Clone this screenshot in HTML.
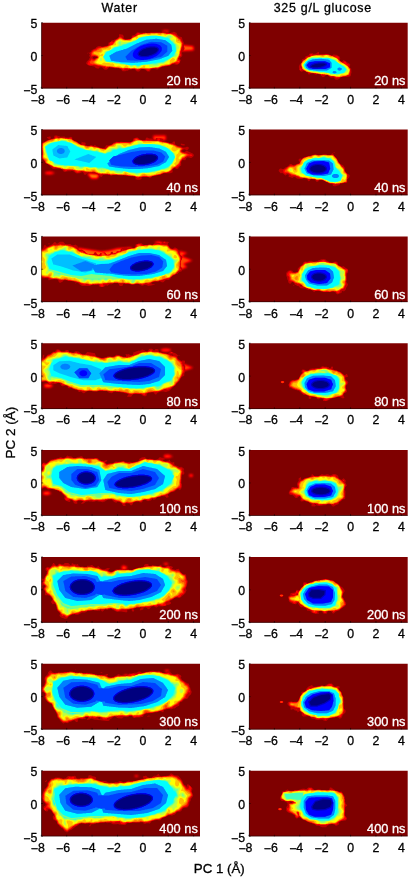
<!DOCTYPE html>
<html><head><meta charset="utf-8"><style>
html,body{margin:0;padding:0;background:#fff;width:410px;height:878px;overflow:hidden}
svg{display:block;font-family:"Liberation Sans", sans-serif;will-change:transform}
text{stroke:#000;stroke-width:0.3px;paint-order:stroke}
text.w{stroke:#fff}
</style></head><body>
<svg width="410" height="878" viewBox="0 0 410 878">
<defs>
<filter id="jet" x="0" y="0" width="1" height="1" color-interpolation-filters="sRGB">
<feComponentTransfer>
<feFuncR type="table" tableValues="0.500 1.000 1.000 1.000 0.500 0.000 0.000 0.000 0.000"/>
<feFuncG type="table" tableValues="0.000 0.000 0.500 1.000 1.000 1.000 0.500 0.000 0.000"/>
<feFuncB type="table" tableValues="0.000 0.000 0.000 0.000 0.500 1.000 1.000 1.000 0.500"/>
</feComponentTransfer>
</filter>

<filter id="bl7" x="-50%" y="-50%" width="200%" height="200%" color-interpolation-filters="sRGB"><feGaussianBlur stdDeviation="0.7"/></filter>
<filter id="bl8" x="-50%" y="-50%" width="200%" height="200%" color-interpolation-filters="sRGB"><feGaussianBlur stdDeviation="0.8"/></filter>
<filter id="bl13" x="-50%" y="-50%" width="200%" height="200%" color-interpolation-filters="sRGB"><feGaussianBlur stdDeviation="1.3"/></filter>
<filter id="fb" x="-20%" y="-20%" width="140%" height="140%" color-interpolation-filters="sRGB"><feGaussianBlur stdDeviation="2.80"/></filter>
</defs>
<rect width="410" height="878" fill="#fff"/>
<text x="119.6" y="12.4" text-anchor="middle" font-size="12.4" letter-spacing="0.75">Water</text>
<text x="322.8" y="12.4" text-anchor="middle" font-size="12.4" letter-spacing="0.75">325 g/L glucose</text>
<clipPath id="c0_0"><rect x="0" y="0" width="158.70" height="65.70"/></clipPath>
<g transform="translate(41.30,22.70)">
<g clip-path="url(#c0_0)"><g filter="url(#jet)">
<rect x="-5" y="-5" width="168.70" height="75.70" fill="#000"/>
<ellipse cx="124.5" cy="8.6" rx="3.5" ry="1.5" transform="rotate(0.0 124.5 8.6)" fill="rgb(31,31,31)" filter="url(#bl8)"/>
<path d="M136.0,22.0 152.0,23.5 152.5,27.5 136.0,28.5Z" fill="rgb(56,56,56)" filter="url(#bl8)"/>
<g transform="scale(0.25)" fill-rule="evenodd" filter="url(#fb)">
<path d="M570,79l-5-10-2-10-2-2-10-2-7-7-2-4 0-2-2-2-9-4-2,0-6,3-4,0-1,1-7,1-1,1-9,0-2-2 1-4-4-2-10,0-6,6-2,0-1-1-42,0-1,1-9,0-1,1-3,0-3-2-2,0-1,1-19,0-1-1-4,0-1-1-6,0-2,1-9,10-9,2-2,2-1,6-2,4-6,3-4,0-1,1-1-1-7,1-10-4-1-1 1-7-2-5-4-3-5,0-1-1-6,0-1,1 0,9-3,3-11,8-4,0-3,2-9,2-5,7-7,1-1,9-3,4-10,1-1,1-4,0-1,1-4,0-1,1-2,0-4-3-9,0-8,4-4,5-8,4-1-1-3,3-3,1-2,3 0,2-6,5-9,1-1,1 0,2 2,0 2-3 7,7-2,1-1,2 0,3 3,6-3,4-2,5-7,6-3,5-1,4 4,4 8,5 2,0 1,1 9,0 1,1 8,1 7,7 3,0 1,1 4,0 2,1 5-6 7,0 4,2 8,8 8,0 5-3 6-7 2,0 1,1 9,0 1,1 7,1 1,1 7,0 1-1 2,1 8,0 2,2 4,1 8,9 11,0 5-2 4,0 7-4 8-1 5-2 7,0 9,9 2,0 1,1 7,0 2-1 0-1 7-7 4-2 4,0 10,6 6,5 10,0 2-3 0-2 5-5 6-1 1-1 5,1 7,3 5,0 6-3 7-6 4,0 2-2 3,0 1-1 9,0 1-1 4,0 1-1 4,0 1-1 6,0 6-4 7-3 1,1 1-1 1,1 3,0 1,1 7,1 1,1 5-2 5-5 6-12-5-7 2-3 4-2 5-5 0-6-2-5 1-6 4-4 4-2 0-3 1-1 1-5-3-6 1-2zM206,139l5-5 1,1 9,1 4,2-12,6-2,0-1-1-2,1z" fill="#101010"/>
<path d="M566,82l-9-17 1-1-1-1-2,1-8-6-13-14-9,0-1-1-1,1-1-1-2,1-1-1-6,0-1-1-1,1-10,0-4-2-7,0-1-1-8,0-1,1-2,0-1-1-41,0-1,1-10,0-1,1-1-1-9,0-1,1-6,0-1,1-8,2-5-3-6-1-1,1-2,0-2,2-4,10-1-1-1,1-8,0-3,2-1,4-4,2-1,2-6,3-8,0-1,1-3,0-1-1-4,1-3-2-2,0-5-3-2-3-3-2-3-1-2-2-1,1-1-1 0,1-10,9-2,0-2,2-5,2-5,9-7-3-3,0-5,3-2,4 0,5 1,1-1,2-2,0-6,3-3,0-3,2-8,1-1,1-11,0-1,1-4-1-1,1-4,0-1,2-4,0-7,6-9,3-5,5-2,4-3,2 0,10 1,1 0,3 3,2 3-3 5,0 2-1 1,1 8,1 6,4-2,2-4,1-1,2-2,0-5,4-5,0-8-4-2,2-1,3-9,8 1,1-4,6 0,3 2,2 5,1 1,1 12,0 3-2 1,1 11,1 5,2 6,0 1,1 5,0 1,1 5,0 1,1 10,1 1,1 0,4 1,1 4,0 6-4 4,0 1-1 4,0 1,1 8,0 1,1 4,0 5,2 3,0 1-1 4,0 1,1 8,0 4,2 6,0 4,5 4,2 4-3 0-3 1-1 12,0 1,1 3,0 1-1 3,0 1,1 22,0 3,4 4,2 4-1 6-5 22,0 7,6 4,2 2,0 2-1 7-8 17-1 1-1 9,2 5-3 6-1 2-2 3,0 2-2 8-1 1-1 5,0 1-1 8,0 1-1 8-1 5-4 4-2 3,0 5-3 3,0 7,3 4,0 1-1 5-1 4-9-3-4-6-4 4-7 0-3 1-1 1,1 1-1 2,0 3-2 0-6-2-3-1-5 3-8 0-3 2-1 1-7 3-6 0-9z" fill="#202020"/>
<path d="M564,82l-2-2-6-12 0-2-2,0-8-6-1-2-6-4-1-2-8-4-2,0-5-3-3,0-1-1-19,0-1-1-4,0-1-1-4,0-1-1-9,0-1,1-2,0-1-1-40,0-1,1-20,0-1,1-6,0-8,3-2-1-1,1-8,2-15,8-2,0-8,4-6,6-2,0-4,2-7,0-1,1-2,0-1-1-2,1-4,0-6-3-2,0-9-6-4-1-7,6-10,5 0,1-4,4-1,3-2,1-1,3-3,2-2,4-7,1-3,2-2,0-2,2-3,0-6,3-4,0-2,2-5,0-1,1-2-1-1,1-6,0-1,1-8,1-2,2-4,1 0,1-5,4-5,2-3,0-4,2-6,7 0,9 2,2 2-1 7,0 1,1 7,1 2,2 2,0 3,4-2,3-3,1-10,8-6,2-5-3-8,7-1,0 2,2 0,3 3,2-2,1 0,1 3,0 1-1 3,2 11,0 3,2 3,0 8,3 2,0 1-1 1,1 11,1 2,2 11,1 5,2 2-1 3,0 1,1 2-1 10,0 1,1 13,1 1,1 18,1 1,1 8,1 1,1 22-1 1,1 9,0 1,1 4,0 1-1 16,0 1,1 18,0 1-1 39,1 4-2 5,0 1-1 10,0 1-1 9,1 1-1 3,0 1-1 5-1 2-2 2,0 3-2 9-1 1-1 4,0 1-1 5,0 1-1 2,1 1-1 7-1 12-7 8-2 3-2 1,1 4-2 2-3 2,3 2,1 4-1 0-4-2-1-4,0-1-1 2-3 1-7 6-10 0-3 3-8-1-2 1-1 0-3 2-4 2-11 3-8zM198,164l1-1 1,1-1,1zM543,153l1-1 1,1-1,1z" fill="#303030"/>
<path d="M562,83l-5-9-2-2-1-3-6-4-2-3-1,0-1-2-7-6-9-4-2-2-2,0-6-3-19,0-1-1-4,0-1-1-4,0-1-1-8,0-1,1-2,0-1-1-11,0-1-1-4,0-1,1-23,0-1,1-20,0-1,1-6,0-1,1-8,1-5,2-5,0-6,5-18,8-3,3-7,4-10,1-1,1-2,0-1-1-1,1-6,0-1-1-5-1-9-5-5-1-12,8-2,0-5,5-1,3-9,11-7,1-2,2-3,0-2,2-2,0-3,2-3,0-3,2-22,4-8,6-4,1-6,4-3,0-1,1-5,1-6,6 1,5 2,0 4,2 3,0 10,4 4,4 0,3-2,3-4,2-11,10-5,2 2,2 0,2 3,3 2,0 5,3 6,1 1,1 11,1 4,2 4,0 1,1 4,0 1,1 6,0 2,2 12,0 1-1 3,0 1,1 6,0 5,2 26,2 1,1 4,0 1,1 4,0 1,1 7,0 1-1 13,0 1,1 9,0 1,1 6,0 1-1 13,0 1,1 10,1 1-1 7,0 1-1 38,1 1-1 9-1 1-1 9,0 1-1 7,0 2,1 22-8 4,0 1-1 4,0 1-1 5,0 1-1 7,0 7-3 2-2 8-4 5-1 3-2 2,0 4-2 3-4 0-3 1-1 1-5 4-6 1-4 2-2 0-3 2-4-1-2 1-1 1-7 2-4 0-3 1-1 0-3 1-1 0-3 2-5z" fill="#404040"/>
<path d="M560,83l-8-12-2-1 0,2-1,1-2,0-1-1 0-3 2-1-10-11-3-1-5-4-13-6-3,0-1,1-1-1-11,0-2,1-3-2-3,0-5-2-7,0-4,4-6,0-2-2-7-3-2,1-5,0-1,1-14-1-7,4-8-1-2-2-15,1-5,2-4,0-4,2-5,0-4,2-3,3-18,8-9,8-2,0-1,1-5,0-1-1-3,0-1,1-1-1-2,1-7,0-4-2-3,0-2-2-2,0-3-2-3,0-1-1-6,3-2,2-7,3 0,1-5,5-2,4-7,8-7,1-2,2-2,0-4,2-4,6-4,0-5,2-16,0-1,1 1,5-2,5-4,3-7,0-1,1-12,0-2-1-5,3 3,4 4,2 2,0 2,2 4,1 3,2 3,4 0,5-1,2-14,13-1,0-1,2 5,6 2,0 3,2 14,2 1,1 7,1 1,1 11,1 2,2 8,0 1,1 1-1 7,0 1,1 7,0 4,2 7,0 1,1 15,0 3,2 6,0 1,1 4,0 1,1 2,0 1-1 16,0 1,1 9,0 1,1 19-1 1,1 6,0 1,1 13-1 1-1 36,1 1-1 10-1 1-1 8,0 1-1 11,0 1-1 4,0 14-6 27-4 13-8 5-1 10-5 3-5 1-5 9-18 0-5 1-1 1-7 2-4 1-10 1-1 1-7 1-1-1-1z" fill="#505050"/>
<path d="M558,88l-2-5-12-3-5-4 0-15-12-9-8-4-11-1-10,4-4,0-5-4-3-1-7,5-5,0-1-1-5,0-5-4-7,0-1,1-14,0-7,3-6,0-1,1-7-3-4,0-1,1-19,0-1,1-5,0-5,3 0,2 2,2 0,2-4,5-2,0-4-5-3,0-10,5-1,4-4,4-2,0-1,1-5,0-2,1-1-1-5,0-1-1-13,0-1-1-3,0-5-3-8,0-10,5-4,4 1,11-2,2-12,1-1,1-5,1-1,1 0,2 1,1 0,6-4,4-2,1-8,0-1-1-4,0-1,1-7,0-1,1-2,0-3,3-1,3-6,6-7,2 0,3 4,3 1,0 4-4 4-1 2,2 1,4-6,5-2-2-3-1-6,8-1,3-3,3-2,4 0,2-4,4-1,0-1,3 7,4 3,0 5,2 7,0 9-6 5,0 1,1 13,0 3,2 3,0 3,2 7-2 6,4 1,6 4,3 3,0 8-3 5,0 6,3 5,4 8,0 2-4 4-4 3,0 1-1 4,1 2,2 2,7 6,0 1,1 10,0 3-2 5,0 2,2 5,0 1,1 14-1 9-5 3-5 8,0 1,1-2,4 0,4 9,0 1,1 12-1 1-1 6,0 1-1 8,0 1-1 10,0 1-1 5,0 2-2 2,0 2-3 6-3 6,0 11-4 12,1 3-3 0-9 2-4 6-6 4-2 5,1 4,5-2,5-2,1-2,3 8-4 7-14 2-2 0-2 3-4 0-3 1-1 1-7 1-1-1-1 0-3 3-4 1-8 1-1 0-4 1-1 0-7z" fill="#606060"/>
<path d="M237,141l-2,2-2,5 1,1 0,2 2,2 4,0 3-2 1-5-1-1 0-2-2-2zM552,98l-4-8-5-5-3-1-6-6 0-8-3-4-6,0-2,2-4-3 2-2 3,0 2-3 0-6-5-4-2,0-1-1-8,0-1,1-3,0-10,5-4,0-5-2-17-1-1-1-4,0-5-2-4,0-1,1-17,0-1,1-8,0-1,1-11,0-1,1-4,0-1,1-4,0-1,1-11,2-3,2-2,0-6,6-3,1-2,2-2,0-1,1-6,0-4,2-3,3-2,0-4,2-10,0-1,1-2,0-1-1-6,0-1,1-8,0-11-6-3,0-5,2-5,6 0,4 2,5 0,2-2,2-4,2-11,1-2,1-3,3 0,2-9,8-2,1-7,0-1,1-6,1-4,2-4,4-1,4 3,4-1,1 1,2-2,3-5,4 0,5 1,1-1,2 2,2 1,4 9,8 4,0 1,1 11,0 1,1 10,0 1,1 7,1 3,2 2,0 2,2 9-1 8,3 11,0 1,1 3,0 1-1 1,1 2,0 2-1 1,1 5,0 6,3 2,0 6,7 4,0 4-2 5-5 4,0 7,9 7,0 8-5 5-5 3,0 3-2 15,0 1,1 6,0 2,3 0,2 4,3 7,0 6-3 12,0 2,1 5-2 1-2 7-6 3,0 1-1 8,0 7-3 8-7 4-2 15-12 7-3 4,0 1,1 5-1 7-9 0-4-5-5 0-3 2-3 1-5 7-6z" fill="#707070"/>
<path d="M541,91l-1-1 0-3-9-8-1-3-4-4-5-1-4-3-2-3 0-5 5-4-2-3-2,0-1-1-7,0-6,3-2,2-6,0-1-1-4,0-1-1-4,0-1-1-10,0-1-1-4,0-5-2-24,0-1,1-6,0-4,2-1-1-4,0-1,1-3-1-1,1-5,0-1,1-8,1-3,2-3,0-1,1-4,0-12,10-3,0-3,2-6,1-10,5-4,0-4,2-3,0-9,4-11,1-7,3-5-2 2-2 1-4-3-4-2,0-5,4 0,3 3,4 0,2-6,6-10,2-7,3-3,2-7,8-6,3-7,0-8,3-2,2 0,2-1,1 1,4-8,12 5,7-1,1 1,5 5,7 3,0 1,1 9,0 1,1 14,0 4,2 4,0 3,2 12,1 1,1 4,0 1,1 4,0 1,1 6,0 1,1 1-1 2,1 3,0 1-1 1,1 2,0 2-1 1,1 4,0 1,1 2,0 2,2 10,2 1,1 7-1 1-1 9,0 1,1 2,0 2,3 5,2 5-2 2-2 6-3 6-1 1-2 9,0 1-1 1,1 4,0 1,1 12,0 1-1 1,1 3,0 1-1 3,0 1,1-1,2 2-1 2,0 1,1 13,0 5-5 4-2 3,0 1-1 12,0 1-1 2,0 6-5 8-4 18-13 15-6 1-1-1-9 1-1 0-3 3-5 0-8 1-1 0-2-1-1 1-2z" fill="#808080"/>
<path d="M539,98l-1-1 0-6-1-1 0-2-5-3-9-10-2,0-8-8 0-2-2-4-4-3-7,0-1,1-4-1-1,1-8-3-6,0-8-3-11,0-1-1-31,1-1,1-4,0-1,1-4,0-1,1-9,0-2,2-8,1-1,1-4,0-6,3-4,4-9,6-4,0-11,5-11,2-11,5-9,1-5,3-4,4-3,0-1,1-2-1-1,2-2-1-4,2-4,0-1,1-5,0-1,1-2,0-7,4 0,1-2,1-2,3-16,8-1-1-5,2-13,20 9,13 0,2 3,4 11,0 1,1 7,0 1,1 15,1 2,2 13,1 7,3 8,0 1,1 4-1 1,1 4,0 1,1 8,1 5,2 5,0 5,2 4,0 1-1 4,0 1-1 7,0 6,3 11,0 1-1 2,0 2-2 2,0 1-1 5,0 1-1 9,0 1-1 17,0 1-1 4,0 1-1 2,1 2,0 1-1 2,0 1,1 2,0 1-1 1,1 3,0 1-1 4,0 8-3 5,0 1-1 5,0 1-1 6,0 1-1 2,0 6-3 12-9 7-3 8-6 8-3 4-5 1-10 4-6z" fill="#8f8f8f"/>
<path d="M539,111l-1-1 0-5-1-1 0-5-1-1-1-9-24-24-1,0-3-4-3,0-1-1-2,1-1-1-2,0-1,1-1-1-3,0-1-1-2,0-4-2-3,0-11-4-43,0-1,1-4,0-1,1-4,0-1,1-4,0-1,1-4,0-1,1-4,0-1,1-4,0-1,1-7,1-11,9-7,4-5,1-3,2-10,3-3,2-10,3-3,2-9,1-2,2-8,3-3,0-1,1-2,0-7,3-3,0-4,2-5,0-4,2-4,4-27,13-12,18 11,17 5,2 7,0 1,1 7,0 1,1 7,0 1,1 7,0 1,1 15,1 1,1 5,0 1,1 8,1 5,2 4,0 5,2 4,0 5,2 31,0 4,2 8,0 1-1 2,0 2-2 9,0 1-1 19-1 1-1 6,0 1-1 4,0 1-1 4,0 1-1 4,0 1-1 2,1 7,0 2-2 4,0 1-1 4,0 1-1 3,1 1-1 4,0 1-1 7,0 1-1 2,0 9-6 3,0 4-2 21-14 2-3 2-1-1-1 10-16z" fill="#9f9f9f"/>
<path d="M521,92l-1-1 0-3-22-17-5-2-5,0-1-1-5,0-1-1-5,0-1-1-5,0-1-1-5,0-1-1-7,0-1,1-9,0-1,1-9,0-1,1-16,1-3,2-2,0-3,2-2,0-3,2-2,0-3,2-2,0-3,2-2,0-3,2-7,2-43,22-2,0-4,2-3,0-7,3-3,0-7,3-3,0-7,3-3,0-15,8-2,2-5,2-2,2-5,2-1,2 2,3 0,2 2,3 0,2 2,3 0,2 2,4 10,1 1,1 5,0 1,1 13,1 1,1 5,0 1,1 39,1 1,1 17,0 1-1 12,0 1-1 12,0 1-1 21-1 1-1 4,0 1-1 5,0 1-1 4,0 1-1 4,0 1-1 4,0 1-1 4,0 1-1 5,0 1-1 4,0 1-1 8-1 3-2 5-1 3-2 2,0 3-2 2,0 3-2 5-1 3-2 2,0 4-2 16-20 0-2-1-1 0-5-1-1 0-5-1-1z" fill="#afafaf"/>
<path d="M521,92l-1-1 0-3-22-17-5-2-5,0-1-1-5,0-1-1-5,0-1-1-5,0-1-1-5,0-1-1-7,0-1,1-9,0-1,1-9,0-1,1-16,1-3,2-2,0-3,2-2,0-3,2-2,0-3,2-2,0-3,2-2,0-3,2-7,2-43,22-2,0-4,2-3,0-7,3-3,0-7,3-3,0-7,3-3,0-15,8-2,2-5,2-2,2-5,2-1,2 2,3 0,2 2,3 0,2 2,3 0,2 2,4 10,1 1,1 5,0 1,1 13,1 1,1 5,0 1,1 39,1 1,1 17,0 1-1 12,0 1-1 12,0 1-1 21-1 1-1 4,0 1-1 5,0 1-1 4,0 1-1 4,0 1-1 4,0 1-1 4,0 1-1 5,0 1-1 4,0 1-1 8-1 3-2 5-1 3-2 2,0 3-2 2,0 3-2 5-1 3-2 2,0 4-2 16-20 0-2-1-1 0-5-1-1 0-5-1-1z" fill="#bfbfbf"/>
<path d="M504,92l-24-14-41-2-1,1-6,1-7,3-3,0-7,3-3,0-7,3-3,0-6,3-2,2-3,1-2,2-3,1-2,2-3,1-2,2-18,10-25,25 8,14 9,0 1,1 17,0 1,1 14,0 1-1 12,0 1-1 12,0 1-1 21-1 1-1 3,0 1-1 3,0 1-1 3,0 1-1 3,0 1-1 3,0 1-1 3,0 1-1 3,0 1-1 15-3 5-3 21-18z" fill="#cfcfcf"/>
<path d="M482,99l-6-8-10-5-6-1-1-1-6,0-1-1-15,0-1,1-8,0-1,1-4,0-1,1-11,2-19,8-13,9-8,8-4,7 0,2-1,1 0,10 6,8 10,5 7,1 1,1 6,0 1,1 14,0 1-1 8,0 1-1 4,0 1-1 11-2 3-2 8-2 4-3 6-2 9-6 0-1 2-1 10-11 3-6z" fill="#dfdfdf"/>
<path d="M471,105l-1-1 0-2-6-5-5-2-3,0-1-1-21,0-1,1-4,0-1,1-8,1-3,2-10,3-6,3-4,4-3,1-7,8-2,5 0,4 4,6 3,1 2,2 6,1 1,1 21,0 1-1 5,0 4-2 7-1 10-5 2,0 4-3 3-1 4-3 7-8 2-5z" fill="#efefef"/>
<path d="M466,106l-1-2-4-3-6-1-1-1-19,0-1,1-4,0-1,1-8,1-3,2-10,3-4,2-4,4-3,1-6,7-1,5 2,3 10,4 19,0 1-1 5,0 4-2 7-1 17-8 8-7 2-3z" fill="#ffffff"/>
</g>
</g></g>
<path d="M0.3,0 V65.40 H158.70" fill="none" stroke="#000" stroke-width="0.6" opacity="0.8"/>
<path d="M0.00,65.70 v-1.6 M25.39,65.70 v-1.6 M50.78,65.70 v-1.6 M76.18,65.70 v-1.6 M101.57,65.70 v-1.6 M126.96,65.70 v-1.6 M152.35,65.70 v-1.6 M0,0.00 h1.6 M0,32.85 h1.6 M0,65.70 h1.6" stroke="#000" stroke-width="0.6" fill="none"/>
<text x="156.50" y="62.50" class="w" text-anchor="end" fill="#fff" font-size="12.8">20 ns</text>
</g>
<text x="37.40" y="28.10" text-anchor="end" font-size="12.3">5</text>
<text x="37.40" y="60.95" text-anchor="end" font-size="12.3">0</text>
<text x="37.40" y="93.80" text-anchor="end" font-size="12.3"><tspan dy="1.4">−</tspan><tspan dy="-1.4">5</tspan></text>
<text x="44.72" y="103.90" text-anchor="end" font-size="12.3"><tspan dy="1.4">−</tspan><tspan dy="-1.4">8</tspan></text>
<text x="70.11" y="103.90" text-anchor="end" font-size="12.3"><tspan dy="1.4">−</tspan><tspan dy="-1.4">6</tspan></text>
<text x="95.50" y="103.90" text-anchor="end" font-size="12.3"><tspan dy="1.4">−</tspan><tspan dy="-1.4">4</tspan></text>
<text x="120.90" y="103.90" text-anchor="end" font-size="12.3"><tspan dy="1.4">−</tspan><tspan dy="-1.4">2</tspan></text>
<text x="146.29" y="103.90" text-anchor="end" font-size="12.3">0</text>
<text x="171.68" y="103.90" text-anchor="end" font-size="12.3">2</text>
<text x="197.07" y="103.90" text-anchor="end" font-size="12.3">4</text>
<clipPath id="c1_0"><rect x="0" y="0" width="158.70" height="65.70"/></clipPath>
<g transform="translate(249.00,22.70)">
<g clip-path="url(#c1_0)"><g filter="url(#jet)">
<rect x="-5" y="-5" width="168.70" height="75.70" fill="#000"/>
<g transform="scale(0.25)" fill-rule="evenodd" filter="url(#fb)">
<path d="M199,176l3,13 6,7 3,0 1-1 5-1 3-2 4,0 5,4 4,1 4,8 2,2 3,0 5-3 3,0 1-1 8,1 6,3 5,0 3-2 6,0 5,3 11,10 5-1 9-9 1,1 5,0 1,2 8,7 4,2 10-1 5,5 1,3 3,0 1,1 6,0 6-3 9-8 6,0 1-1 5,0 1-1 4,0 4,2 4,0 1-1 6,0 1-1 2,0 3-3 2-10 1-1-1-16-1-2-1,0-4-4 0-4 1-1 1-7-4-4-6-3-5-4-3-1-9-7-2,4-6,5-8-7 2-2 1-7-2-5-4-3-3-1-5-4-7,0-1-1-5,0-2,1-3,4-7-3-2,0-4-2-5,0-6-3-4,1-2,2-18,0-2,1-3-3 0-8-6,0 0,2-3,3-2,0-3,2-5,0-2,1-6-4-5,2-3,0-5,2 0,3-3,3-10,3-2,2-3,7-2,1-4,0-4,3 0,2-1,1 0,7-2,4-7,7 0,2-2,2 0,3z" fill="#101010"/>
<path d="M204,182l-2,4 1,1 0,2 2,2 2,0 3-2 0-3-3-4zM208,164l5,21 18,12 10,1 1,1 6,0 1,1 5,0 1,1 6,0 1,1 6,0 1,1 6,0 1,1 6,0 5,2 3,3 4-1 1-2 1,1 6,0 1,1 12,1 1,1 6,1 2,3 2,1 6,0 1-1 6,0 1,1 2,0 5,5 4,2 4-2 2,0 3-2 5,0 1-1 4,0 1-1 4,0 1-1 5,0 1-1 2,1 12-5 1,1 5-1 2-10 1-1 0-7-1-1 1-1 1-5-9-10 0-2 2-4-1-2-5-2-3-3-5-8-2,0-7,6-2,0-17-14 2-3 0-5-2-3-2-1-8,0-1,1-2,0-2,2-2-2-6-3-5,0-3-2-2,0-4-2-3,0-1-1-14,0-1,1-24,0-1,1-10,0-1-1-2,0-1,1-6,0-1-1-2,0-5-4-2,0-1,8-4,4-9,0-2,1-1,2 0,4-12,8z" fill="#202020"/>
<path d="M209,164l0,6 1,1 0,3 1,1 2,10 7,5 2,0 7,5 5,1 2,2 12,1 1,1 12,1 1,1 6,0 1,1 6,0 1,1 6,0 1,1 6,0 1,1 5,0 1,1 13,0 1,1 5,0 5,3 4,0 1,1 4,0 1,1 9,1 1,1 5,0 1,1 5,0 1,1 5,0 1,1 3,0 5-2 4,0 1-1 4,0 1-1 5,0 1-1 1,1 4-2 3,0 6-3 4,0 2-10 1-1 0-3 1-1 0-7 1-1-5-5 0-2-5-6-6-3-5-4-3-1-6-5-7-3-4-3-7-8-6-4 1-1-2,1-9-6-5-1-3-2-4,0-3-2-2,0-7-3-40,1-1,1-7-1-1,1-9,1-1,1-2,0-4,2-3,0-7,3-3,0-13,8 0,1-5,4-4,1-2,2-1,4z" fill="#303030"/>
<path d="M209,165l1,1 0,4 1,1 0,3 1,1 0,3 1,1 1,5 18,12 9,1 1,1 6,0 1,1 5,0 1,1 6,0 1,1 6,0 1,1 6,0 1,1 6,0 8,3 5-1 1,1 7,0 1,1 12,1 4,2 3,0 2,2 4,0 1,1 3-1 1,1 6,0 1,1 4,0 1,1 5,0 1,1 10,1 4-2 5,0 5-2 10-1 12-5 1-4 2-2 0-3 2-5 0-8-4-4 0-2-7-7-3-1-2-3-6-3-2-2-2,0-2-2-2,0-10-7-9-9-1-2-3-1-2-2-5-1-10-5-3,0-1-1-8-2-3-2-18,0-1,1-11,0-1-1-1,1-16,0-1,1-13,1-4,2-3,0-5,2-2,2-7,1-3,2-2,3-14,10-5,9z" fill="#404040"/>
<path d="M210,165l1,1 0,7 2,3 2,8 8,6 2,0 7,5 2,0 4,2 4,0 1,1 12,1 1,1 6,0 1,1 6,0 1,1 8,0 1,1 11,1 1,1 12,0 1,1 12,1 1,1 2,0 2,2 4,0 1,1 4,0 1,1 14,1 3,2 10,0 1,1 3,0 4-2 5,0 3-2 8,0 1-1 3,0 6-3 2,0 4-3 0-3 3-5 0-3 1-1 0-8-11-13-3-1-5-4-3-1-5-4-11-6-12-12-3-1-2-2-4-1-10-5-4,0-1,1-1-1-2,0-7-5-6,0-1-1-3,0-1,1-7,0-4,3-4,0-4-2-18,0-1,1-9,0-4,2-7,1-3,2-6,1-4,2-14,11-4,2z" fill="#505050"/>
<path d="M212,166l0,7 5,9 7,6 5,2 4,3 2,0 2,2 2,0 4,2 4,0 1,1 6,0 1,1 6,0 1,1 6,0 1,1 7,0 1,1 12,1 1,1 9,0 1-1 5,0 1,1 2,0 1-1 2,0 7,3 3,3 8,1 1,1 4,0 1,1 8,0 4,2 11,0 1,1 2,0 9-8 6,0 1,1 11,0 1-1 4,0 4-3 0-3 3-5 0-3 1-1 0-5-4-3-3-6 0-2-15-11-2,0-2-2-8,0-10-6-2-3 0-6-3-3-12-6-15,0-6-3-7-6-5,0-6,5-4,2-4,0-11-4-9,0-1-1-3,0-1,1-1-1-3,0-1,1-15,3-3,2-10,3-4,4-1,0 0,5-4,4 0,1-3,2-1,2-5,1z" fill="#606060"/>
<path d="M215,167l0,5 5,6 1,3 10,8 6,3 6,1 8,3 4,0 1,1 18,0 11,5 7,0 5-3 2,0 1,1 6,0 1,1 5,0 1,1 4,0 7,6 4,2 4,0 8-3 7,3 2,2 5,0 12-7 2,0 1-1 9,0 1-1 3,0 4-3 4,0 4-2 3-3 0-3-2-5-5-6-2-4-6-6 0-1-3-2-8,0-2-2-4-1-6-5-4-2-5-6 0-4 1-1-2-3-2-1-3,1-1-1-10,0-1-1-4,0-8-3-4,0-4-3-4,0-4,3-2,0-1-1-2,1-7,0-1-1-5,0-1-1-15,1-5-3-11,0-1,1-3,0-8,5-5,1-3,3-1,4-6,6 0,1z" fill="#707070"/>
<path d="M217,168l2,7 2,2 2,5 4,3 5,2 2,2 2,0 5,3 12,1 5,2 2,0 1-1 14,1 2,2 5,0 3,2 2,0 1-1 4,0 1,1 1-1 13,1 1,1 10,1 6,3 2,2 20-1 3,2 8,0 1-1 4,0 2-2 3,0 1-1 10-1 1-1 1,1 7-6 4-6 0-5-7-8-8-6-2,0-2-2-4-2-3,0-6-5-4-2-9-10-3-1-2-2-2,0-13-5-7-1-1-1-27,0-1-1-29,1-1-1-8,0-9,4-6,4-6,6-3,1-5,8-2,1z" fill="#808080"/>
<path d="M218,168l2,7 2,1 2,6 7,3 3,3 5,1 3,2 5,0 4,2 6,0 1,1 3,0 1-1 13,1 2,2 15,1 1,1 1-1 13,1 1,1 10,1 3,2 3,0 3,2 20,0 2,2 5,0 1-1 5,0 3-2 14-2 1-1 2,0 1-2 4-3 5-8-5-7-6-6-6-2-5-4-6-3-3-3-11-7-3-4-8-4-2,0-7-3-4,0-3-2-5,0-1-1-10,0-1,1-3,0-1-1-23-1-3,2-3,0-1-1-6,0-1,1-2-1-7,0-1,1-3,0-11,5-3,2-1,2-7,3-5,7-1,3z" fill="#8f8f8f"/>
<path d="M219,168l5,14 18,9 15,1 1,1 9,0 1,1 8,0 1,1 7,0 1,1 7,0 1,1 7,0 1,1 6,0 1,1 5,0 1,1 6,0 1,1 3,0 3,2 35,1 1-1 14-2 4-2 8-13-10-11-6-3-5-4-3-1-19-14-8-4-7-2-5-3-2,0-3-2-46-1-1,1-9,0-1,1-15,0-4,3-17,8z" fill="#9f9f9f"/>
<path d="M334,198l3,4 3,0 1,1 6-1 3-3 0-2-3-3-3,0-1-1-6,1zM354,183l0,4 5,4 6,0 1-1 2,0 3-4 0-2-2-3-5-1-1-1-5,1zM330,160l-10-12-3,0-1-1-7,0-1-1-7,0-1-1-7,0-1-1-27,1-1,1-9,0-3,2-2,0-3,2-2,0-3,2-2,0-4,2-11,14 0,2 1,1 0,3 1,1 1,5 12,8 5,0 1,1 10,0 1,1 9,0 1,1 45,0 18-11z" fill="#afafaf"/>
<path d="M334,198l3,4 3,0 1,1 6-1 3-3 0-2-3-3-3,0-1-1-6,1zM354,183l0,4 5,4 6,0 1-1 2,0 3-4 0-2-2-3-5-1-1-1-5,1zM330,160l-10-12-3,0-1-1-7,0-1-1-7,0-1-1-7,0-1-1-27,1-1,1-9,0-3,2-2,0-3,2-2,0-3,2-2,0-4,2-11,14 0,2 1,1 0,3 1,1 1,5 12,8 5,0 1,1 10,0 1,1 9,0 1,1 45,0 18-11z" fill="#bfbfbf"/>
<path d="M230,170l10,12 12,1 1,1 7,0 1,1 44,0 19-7 0-16-4-2-2,0-3-2-2,0-3-2-2,0-3-2-43,0-1,1-17,2-1,1-3,0z" fill="#cfcfcf"/>
<path d="M230,170l10,12 12,1 1,1 7,0 1,1 44,0 19-7 0-16-4-2-2,0-3-2-2,0-3-2-2,0-3-2-43,0-1,1-17,2-1,1-3,0z" fill="#dfdfdf"/>
<path d="M312,163l-3-1-2-2-2,0-4-2-25,0-1,1-4,0-1,1-8,1-3,2-3,0-6,3-6,5-1,5 3,4 5,1 1,1 3,0 1,1 21,0 1-1 5,0 1-1 4,0 1-1 6-1 11-5 6-5z" fill="#efefef"/>
<path d="M307,166l-7-3-23,0-1,1-9,1-1,1-3,0-3,2-3,0-8,5-1,2 1,1 3,0 5,2 19,0 1-1 5,0 1-1 4,0 1-1 6-1 3-2 2,0 7-4z" fill="#ffffff"/>
</g>
</g></g>
<path d="M0.3,0 V65.40 H158.70" fill="none" stroke="#000" stroke-width="0.6" opacity="0.8"/>
<path d="M0.00,65.70 v-1.6 M25.39,65.70 v-1.6 M50.78,65.70 v-1.6 M76.18,65.70 v-1.6 M101.57,65.70 v-1.6 M126.96,65.70 v-1.6 M152.35,65.70 v-1.6 M0,0.00 h1.6 M0,32.85 h1.6 M0,65.70 h1.6" stroke="#000" stroke-width="0.6" fill="none"/>
<text x="156.50" y="62.50" class="w" text-anchor="end" fill="#fff" font-size="12.8">20 ns</text>
</g>
<text x="245.10" y="28.10" text-anchor="end" font-size="12.3">5</text>
<text x="245.10" y="60.95" text-anchor="end" font-size="12.3">0</text>
<text x="245.10" y="93.80" text-anchor="end" font-size="12.3"><tspan dy="1.4">−</tspan><tspan dy="-1.4">5</tspan></text>
<text x="252.42" y="103.90" text-anchor="end" font-size="12.3"><tspan dy="1.4">−</tspan><tspan dy="-1.4">8</tspan></text>
<text x="277.81" y="103.90" text-anchor="end" font-size="12.3"><tspan dy="1.4">−</tspan><tspan dy="-1.4">6</tspan></text>
<text x="303.20" y="103.90" text-anchor="end" font-size="12.3"><tspan dy="1.4">−</tspan><tspan dy="-1.4">4</tspan></text>
<text x="328.60" y="103.90" text-anchor="end" font-size="12.3"><tspan dy="1.4">−</tspan><tspan dy="-1.4">2</tspan></text>
<text x="353.99" y="103.90" text-anchor="end" font-size="12.3">0</text>
<text x="379.38" y="103.90" text-anchor="end" font-size="12.3">2</text>
<text x="404.77" y="103.90" text-anchor="end" font-size="12.3">4</text>
<clipPath id="c0_1"><rect x="0" y="0" width="158.70" height="65.70"/></clipPath>
<g transform="translate(41.30,129.55)">
<g clip-path="url(#c0_1)"><g filter="url(#jet)">
<rect x="-5" y="-5" width="168.70" height="75.70" fill="#000"/>
<path d="M4.0,42.5 9.0,42.0 14.0,43.5 9.0,45.0 4.0,44.5Z" fill="rgb(46,46,46)" filter="url(#bl8)"/>
<path d="M46.0,44.0 58.0,45.0 56.0,49.0 50.0,49.0Z" fill="rgb(64,64,64)" filter="url(#bl8)"/>
<path d="M112.0,6.0 124.5,6.0 124.5,10.5 112.0,10.5Z" fill="rgb(46,46,46)" filter="url(#bl8)"/>
<g transform="scale(0.25)" fill-rule="evenodd" filter="url(#fb)">
<path d="M558,56l0,4 1,2 2,1 3,0 1,1 8,0 1-1 0-3-1-1zM-7,123l2,2 4-1 4-7 1,1 0,2 2,0 7,7 3,7 6,4 3,0 4,2 16,17 6,1 1-1 16-1 1-1 5,1 1,1 3,0 1,1 2,0 4,4 4,6 5,2 6-1 1-1 4,0 1-1 12,0 5-2 1,1 5,1 8,7 5,2 12-1 1-1 2,0 2-2 2,0 4-2 5,5 0,5 3,0 1,1 4,0 2-3 8-6 4,0 1,1 20-1 1,1 2,0 4,3 3,0 1,2 11,10 2,1 4,0 1,1 1,0 0-2 3-5 4-2 6,0 1-1 16,1 3,3 3,0 1,1 4-1 2-2 20,0 1,1 10,1 1,1 2,0 1-1 5,0 1-1 4,0 1,1 7,0 1,1 7,0 1,1 8,0 1,1 17,1 3,4 0,8 5,0 1,1 12,0 6-3 1-2-1-1 0-4 1-1 26,0 3,3 4,1 4-2 5-5 4,0 1-1 4,0 1-1 4,0 1-1 4,0 1-1 4,0 1-1 7-1 14-6 6,0 1-1 2,1 17,0 4-2 3,0 3-4-1-6-2-2 9-7 9,4 4,0 4-3 2-5 8-6 1-2-1-10 1-1 1-5 3-3 2-1 10,1 2-3 1-4 4-4 2,0 1-1 2,1 4,0 4,2 5,0 7-6 2-3 0-4-2-3-4-3-11-5-2,0-6-4-5,0-4,2-3,3-5-1-8-4 4-2 3-3 2-1 1,1 3-2 3,1 3,3 4,1 7-8 0-4-4-3-5,0-1,1-2,0-2,2-2,0-1-1-2,1-6,0-1-2-2,0-2-2-13-2-10-5-2-4 0-8-2-1-4,0-8,7-7,0-6-3-3,0-3-2-3,0-5-2-4,0-1-1-4,1-1-1 0-2 4-5 0-2-1-1-4,0-1-1-4,0-1-1-11,0-1-1-6,0-2,7-3,3-3,0-5-5-5-3-10,0-7-4-3,0-4,5 0,5-1,1-14,0-7-3-9-8-6,0-1,1-8,1-3,3-3,9-2,2-2,0-3,2-3,0-1,1-8,0-1-1-19,0-1-1-9,0-4,2-1-1-5,0-1-1-6,0-2,1-1,2-5,0-2,1-5,5-7,4-3,0-4,2-10-1-2,2-2,5-3,3-6,3-5-2-8-1-2-2-12-5-6-5-1,0-1,3-3,2-8-4-5,0-2,3-5,0-1,1-2,0-3-2-6,0-1-2 2-5-2-5-11-1-4-3 0,7-4,4-1,0-13-10-4-2-3,0-6-3-1-2-3-1-2-2 0-7-4-3-6,1-4,2-12,0-5-4-17,1-3-2-6-1-4-2-9,0-2,2 0,2-1,1 0,6-1,1-3,0-1,1-3,0-5,2-2,0-1-1 3-3 0-5-2-2-5,0-1,1-7,1-1,2 4,4 4,2 4,0 1,1-1,1-10,2-12,8-2-2-1,1-2,0-1,3-5,4-1,8 2,3 0,10 2,3 0,21-1,1-6,1-2,2 0,3-2,4z" fill="#101010"/>
<path d="M4,56l0,25 1,1 0,20-1,1 0,11 2,3 0,2 3,1 6,7 1,5 3,2 1,2 4,2 2,0 4,3 15,7 3,4 10,0 1,1 3,0 5,2 7,0 1,1 3,0 3,2 7,1 7,6 6,0 6-4 8,0 1,1 15,1 5,6 7,4 5,0 1-1 2,0 4-2 4-4 3,0 1,1 4,0 1,1 4,0 1,1 9,1 1,1 3,0 1-1 1,1 5,0 1,1 1-1 5,1 1-1 4,0 1-1 1,1 8,0 4,3 5,1 2,2 4,0 5,3 4,0 1-1 5-1 1,1 20,0 1,1 6,0 3,2 8,0 1-1 20,0 1,1 17,0 1,1 7-1 1,1 7,0 1,1 7,0 1,1 19,1 1,1 5,0 4,2 3,0 6,5 3-1 3-3 16-1 1-1 11,0 1,1 8,0 1,1 3,0 1-1 8-1 2-2 4,0 5-2 4,0 1-1 4,0 1-1 4,0 1-1 8-1 13-6 3,0 1-1 1,1 2-1 2,0 1,1 4-2 6-1 12-8 8-9 4-1 2-2 2,1 6,0 2-1 1-2 8-7 2-5 0-7 9-13 7-1 5-6 2,0 6-4 2,1 3-2 4,0 3,2 2,0 1-1 2,0 2-2 0-2-2-2-3,0-1-1-4,0-1,1-3-2-2,0-11-5-7,0-8-3-3-3 0-2 8-8 5-2 3,0-5,0-1,1-1-1-3,0-6-4-13-3-2-2-4-1-5-4-2,0-7-3-3,0-4-2-5,0-6-3-4,0-1-1-4,0-1-1-4,0-1-1-4,0-1-1-14-2-1-1 0-2 1-1 1-5-3-3-8,0 0,6 1,2-1,2-2,1-1-1-19,0-1-1-19,0-1-1-4,0-1,1-14,0-2-2-7,0-5-5-6-3-2,0-1,1-3,0-5,4-3,8-3,0-2,2-8,3-12,0-1-1-28,0-1,1-15,0-3,2-5,1-9,7-2,0-4,2-3,0-4,2-12,12-5-1-1-1-2,0-1,1-5-2-8-1-2-2-4,0-1-1-4,0-1-1-4,0-1-1-4,0-1-1-4,0-1-1-4,0-1-1-6,0-1-1-1,1-9,1-1-1-7-1-2-2-4,0-2-2-2,0-1-1-3,2-3,0-5-4-4-1-9-7-6-3-2,0-4-3-3-1-6-5 0-3-3-2-3,0-7,4-2,0-1-1-9,0-1-1-9,0-1-1-12,0-1,1-5,0-1-1 0-2-5-4-3,0-2,2-1,5-1,1-3,0-4,2-8,1-1,1-10,2-2,2-2,0-4,3-2,0-2,2-2,0-4,3-1-1 0,1z" fill="#202020"/>
<path d="M5,59l0,23 1,1 0,9 1,1-1,11-1,1 1,9 2,4 1,0 6,7 2,4 0,2 4,4 24,12 3,3 6,1 1,1 1-1 2,0 1,1 4,0 5,2 10,1 3,2 4,0 4,2 16,1 1,1 1-1 9,0 1,1 15,1 4,2 3,0 1,2 5,3 4-1 2-3 4,0 1,1 7-1 1,1 4,0 1,1 4,0 1,1 9,1 1,1 1-1 3,0 1,1 2,0 1-1 1,1 18-1 1,1 4,0 2,2 7,2 2,2 5,0 4,2 3,0 1-1 6,0 1,1 20,0 1,1 6,0 3,2 5,0 1-1 22,0 1,1 18,0 1,1 7-1 1,1 7,0 1,1 6,0 1,1 19,1 1,1 5,0 7,3 6,0 1,1 10-1 1-1 6,0 1-1 18,0 1,1 7,0 1,1 1-1 8-1 3-2 3,0 1-1 4,0 1-1 3,0 5-2 6,0 1-1 7-1 8-4 2,0 3-2 3,0 1-1 3,1 1-1 5,0 1-1 7-1 8-5 9-11 8-4 3,0 10-9 1,0 6-7-1-1 5-10 8-9 5-1 13-10 6-1-2,0-9-5-7-1-4-2-3,0-2-2-2,0-4-4 0-3 5-6 1-3-3-1-2-2-2,0-4-2-4,0-8-4-2-2-4-2-2,0-4-3-2,0-1-1-9-1-1-1-5-1-3-2-4,0-5-2-14-1-2-2-8-1-2-2-9,0-1,1-1-1-40-1-1-1-2,0-1,1-14,0-3-2-12-1-5-4-4,0-2,1-3,3 0,3-1,1-4,0-1,2-2,0-2,2-2,0-6,3-43,0-1,1-2-1-10,0-5,3-5,1-8,6-13,4-13,12-2,0-1-1-7,0-5-2-4,0-10-4-10-1-1-1-5,0-1-1-8-1-1-1-17,1-1-1-7-1-2-2-3,0-1-1-11-1-8-4-9-7-6-3-2,0-4-3-3-1-7-6-4,0-1-1-19,0-1-1-6,0-4-2-7,0-1,1-4,0-1,1-4,0-1-1-10,0-3,2-3,0-7,3-4,0-1,1-7,1-22,11-4,3 0,2z" fill="#303030"/>
<path d="M6,60l0,23 1,1 0,8 1,1-1,19 4,6 5,2 2,2 0,8 5,5 21,10 5,4 14,2 5,2 4,0 1,1 3,0 5,2 5,0 3,2 6,0 1,1 29,0 3,2 5,0 4,2 8,1 1,1 3,0 1-1 6,0 1,1 1-1 10,0 6,3 4,0 1,1 15,0 1,1 2-1 4,1 5-3 5,0 8,5 5,1 6,3 6,0 1,1 19,0 1,1 5,0 1-1 2,0 1,1 9,1 1,1 28,0 1,1 19,0 1,1 7-1 1,1 7,0 1,1 6,0 1,1 19,1 1,1 9,1 3,2 7,0 1,1 2,0 1-1 5,0 1-1 5,0 1-1 7,0 1-1 3,0 1,1 11,0 1,1 9,0 7-3 4,0 1-1 4,0 1-1 3,0 5-2 5,0 1-1 8-1 3-2 2,0 2-2 2,0 7-3 10,0 1-1 6-1 8-5 11-12 10-4 3-4 7-5 5-6 0-2 3-6 9-12 3-2 4-1 9-8 1,0-4-3-12-3-6-3-3-3-1-4 2-5 3-4-2-2-13-3-9-5-2-2-2,0-2-2-2,0-3-2-3,0-7-3-3,0-10-4-4,0-1-1-4,0-1-1-8,0-3-2-8-1-3-2-7,0-1,1-1-1-40-1-1-1-2,1-14,0-4-2-16-1-1,1-8,1-2,2-3,0-2,2-13,6-4,0-1-1-35,0-1,1-15,0-2,2-4,1-12,7-6,1-5,2-13,12-16-2-1-1-6-1-3-2-4,0-1-1-4,0-1-1-8,0-1-1-3,0-8-3-17,1-1-1-7-1-6-3-11-1-8-4-13-9-2,0-6-3-11-8-4,0-1-1-9,0-1-1-12,0-1-1-6,0-1-1-9,0-3,2-4,0-1-1-9,0-4,2-3,0-6,3-9,1-1,1-5,1-3,2-2,0-2,2-4,1-5,4-4,1-3,3 0,2z" fill="#404040"/>
<path d="M6,68l0,5 1,1 0,10 1,1 0,4 1,1 0,12-1,1 0,7 1,1 0,2 7,4 2,0 4,3 1,4-3,7 2,2 13,6 4,3 2,0 7,5 5,2 5,0 1,1 9,1 1,1 3,0 1,1 3,0 5,2 5,0 3,2 7,0 1,1 6,0 1-1 2,0 1,1 6,0 1-1 2,1 10,0 3,2 5,0 3,2 8,0 1,1 23,0 1,1 3,0 3,2 8,0 1,1 1-1 9,1 10-5 7,0 9,8 5,1 2,2 5,0 5,2 5,0 1-1 2,0 1,1 10,0 1,1 1-1 7,0 1,1 9,1 1,1 11,0 2-1 1,1 12,0 1,1 20,0 1,1 8-1 5-4 5,6 13,1 1,1 9,0 1,1 10,1 3,2 7,0 1,1 2-1 9-1 6-6 3,0 1-1 4,0 1,1 5,1 7,4 5,1 1-1 6,0 5-2 4,0 5-2 4,0 7-3 7,0 1-1 3,0 1-1 2,0 6-6 2,0 1-1 14,1 1-1 6-1 4-2 8-7 2-7 3-3 4,0 1,1 3-2 2,0 11-11 1,0 4-5 0-2 3-4 1-3 6-7 2-4 2-2 4-2 2,0 6-6-3-2-2,0-4-2-3,0-9-6-1-2 0-7 3-6-5-2-12,0-2-2 0-3-3-1-2-2-10-5-2,0-7-3-3,0-5-3-8-1-1-1-5,0-1-1-7,0-4-2-3,0-1-1-3,0-5-2-50-1-2,2-6,0-6-3-10-1-1-1-8,0-1,1-4,0-3,2-5,1-8,4-7,6-7,0-5-2-42,0-1,1-3,0-3,2-2,3-5,4-2,0-1,1-10,0-6,3-12,11-8,0-1-1-4,0-1-1-7-1-11-4-4,0-1-1-9,0-1-1-3,0-3-2-4,0-1-1-3,0-1,1-2,0-1-1-6,5-5,0-4-2-5-6-8-1-1-1-5,0-14-7-2-2-14-6-9-8-3,0-4-2-18-1-1-1-9,0-1-1-9,0-1,1-4,0-1,1-1-1-10,0-1,1-5,1-1,2-6,5-3,0-1,1-9,0-1,1-5,1-3,2-6,1-6,3-3,3 0,2-1,1 0,6z" fill="#505050"/>
<path d="M571,102l-2-1-10,1-9,8-1,2 0,4 2,2 4,1 5-8 5-5 3-1zM9,66l1,19 1,1 0,4 2,5 0,7-3,5 1,3 7,4 5,1 2,2 3,6-3,6 0,3 2,2 7,3 2,2 9,4 2,2 6,3 6,0 5,2 12,0 1,1 3,0 9,5 7,0 1,1 5,0 1-1 2,0 3-3 5-2 15,0 2,2 2,4 0,2 3,0 3,2 8,0 1,1 7,0 1-1 2,1 8,0 5-2 1,1 2,0 2,3 4,0 1,1-1-9 2-2 2,0 2,2 8,4 4,0 7-3 8-1 2,1 12,13 5,2 5,0 1,1 10,0 1,1 10,0 6-5 3-1 7,6 4,2 6-3 5,0 5,3 2,0 1,1 5,0 1,1 24,0 6-8 5,0 5,2 6,5 6,1 7,3 7,0 11,5 13,0 6-7 6-3 9,0 8,3 10,0 3,2 2,0 1-1 1,1 2-1 9,0 1-1 5-1 6-5 4-2 9-1 2-2 5-2 9,0 4,2 7,0 8-3 6-5 1-7 2-4 4-4 4-1 1,1 6,1 2-2-4-6 0-3 4-3 3-4 0-3-2-5 1-1 0-4 2-3 0-11 8-6 1-5 3-5 0-4 1-1-1-1-5,1-13,8-6-1-2-1-6-7 1-5 5-5 0-4-5-1-3-2-6,0-5-4-5-1-1-1-10-1-4,2-3,0-1-1-5-1-3-2-2,0-3-3-2,0-1-1-6,0-1,1-3,0-3,2-7,0-2-1-1,1-2,0-3,3-5,0-1,1-8,0-1-1-3,0-1,1-7,0-1-1-2,0-6-6-5-3-5,0-1-1-5,1-2-1-1,1-4,0-2,2-3,0-3,2-2,0-1,3-11,9-5,1-4-2-5,0-2,1-5,6-7,0-5-6-6-3-3,0-1-1-15,0-2,3 0,2-2,4-2,2-2,0-1,1-19,0-6,4-9,8-4,1-4,4-3,0-3-2-2,0-4-2-8-7-9-1-1-1-4,4-4,1-7-8-4,0-1-1-4,1-6,6-4,2-4,0-4-2-6-6-1-3-2-2-11-1-1-1-8-1-14-8-2,0-7-3-6-4-4,0-1,1-1-1-3,0-3-3-1-3-4-3-9,0-1-1-7,0-1-1-7,0-2,1-6,7-3,0-2-2-1-5-6,0-3,2-1,3-5,5-6,1-1,1-7,0-1,1-7,1-6,3-5,4-3,1zM35,129l2-1 3,3-1,1-2,0zM504,68l2-1 1,2-1,1z" fill="#606060"/>
<path d="M13,67l0,6 1,1 0,7-1,1 0,2 1,1 0,5 5,10 1,7 2,2 1,3 4,4 0,2 3,6 2,0 4,2 1-1 2,1 7,7 0,5 2,4 5,4 23,0 1,1 5,0 5,2 5,4 4,0 1,1 8-7 5,0 1,1 2-1 3,0 1,1 13,0 1,1 5,0 3,4 0,4 2,3 6,0 1,1 5-2 4,0 1,1 1-1 6-1 7-6 4,0 1-1 7,0 3,2 6,1 1,1 22-1 4,2 2,4 11,10 5,1 1,1 6,0 1-1 4,0 4-2 4-7 8,0 9,4 2,2 11-1 10,8 4,0 1,1 9,0 1,1 7,0 1-1 2,0 4-2 1-3 2-2 7-1 1,1 3,0 2,2 2,0 6,3 7,1 3,2 6,0 1,1 2,0 6,3 2,2 5,2 6-1 6-7 5-1 4-2 9,0 1,1 17,0 1-1 4,0 1-1 7-1 1,1 2,0 2,2 4,0 8-7 12-2 6-3 6-1 1,1 10,1 7-3 6-1 4-4 1-4 4-7 8-8 1-4 6-8 1-6 1-1 0-4 2-4-1-1 0-12-1-2-4-4-2,0-4-2-10-13-6-3-3,0-7-4-3-3 0-5-1-1-8,4-1-1-3,0-5-3-7-1-7-3-5,2-1-1-10,0-1-1-4,0-1,1-21,0-1,1-2-1-9,0-1-1-3,0-6-6-2,0-5-3-7,0-1,1-3,0 0,1 6,5 0,1-4,3-7,1-1,1-6,0-13,6-9,0-11,5-10,0-8-8-2,0-1-1-10,0-2,2-1,6-3,3-15,0-1,1-5,0-4,2-6,6-6,3-5,8-8,0-10-4-6-1-2-3-1-4-3-3-4,0-8,6-9-1-1-1-1-5-2-2-4,0-5,5-3,0-1,1-3,0-1-1-1,1-4-2-3,0-4-2-9-8-8,0-1-1-8-2-6-3-2-2-4-1-2-2-5-1-7-5-7-1-1-1-3,0-3-2-2,0-3-4-4-2-4,0-1-1-8,0-1-1-5,1-4,4-3,0-5,2-11,0-11,4-5,0-6,3-5,1-6,3z" fill="#707070"/>
<path d="M14,69l1,6 1,1 1,12 1,1 1,5 2,3 3,11 3,6 2,2 1,4 1,0 1,2 10,4 8,9 1,4 4,3 20,1 1,1 10,0 4,2 12,0 1-1 6,0 1,1 19,0 1,1 7,0 1,1 10,1 5,5 2,0 1,1 7,0 5-4 2,0 4-2 1,1 1-1 8,0 2,2 6,1 1,1 24-1 13,7 5,0 4-2 1,1-1,2 0,4 2,2 4-1 0-3-5-4 1-1 2,1 14,0 1,1 9,1 10,5 11,0 1,1 4,0 4,5 4,2 21,0 4-4 2,0 5-3 1,1 8,1 2,2 2,0 3,2 3,0 1,1 7,0 1,1 8,0 1,1 3,0 7,5 4,0 4-4 8-1 1-1 5,0 1-1 13,0 1,1 6,0 1-1 10,0 1-1 4,0 5-2 9,0 3-2 3,0 7-3 7-1 6-3 13-1 11-5 3,0 6-5 0-1 13-14 0-3 6-10 0-3 1-1-1-1 4-7-3-5 1-1-1-2 1-1-2-4-10-8-1-3-7-8-6-3-3,0-4-2-1-2-8-5-9-1-6-4-2,0-1-1-5,0-1-1-8,0-1,1-1-1-9,0-1-1-7,0-1,1-2,0-1-1-26,1-1-1-4,0-1-1-14,0-3,2-6,1-1,1-7,0-1,1-3,0-1,1-2,0-2,2-2,0-2,2-3,0-1,1-8,0-1,1-5,1-2,2-6,1-1,1-3,0-1-1-1,1-1-1-5-1-5-4-5-2-4,2-1,4-3,3-4,2-6,0-1-1-8,0-1,1-2,0-3,3 0,2-4,4-4,2-5,1-10,6-5,0-4-2-15-3-7-6-15,2-1-1-3,0-2-2-2,0-4-2-2,1-6,0-1,1-8-1-12-6-14-4-7-4-2,0-2-2-11-6-2,0-3-2-1,1-10-7-8-1-15-7-16,0-2,2-3,0-2,2-3,0-1,1-2,0-1-1-4,1-2-1-1,1-4,0-3,2-12,2-11,5-6,4z" fill="#808080"/>
<path d="M16,69l0,2 2,4 0,2-1,1 2,5-1,1 1,1 1,7 3,4 2,8 3,4 4,14 4,2 2,0 5,3 2,0 5,5 0,1 4,3 5,2 3,0 3,2 9,1 4,2 12-1 1,2 25,0 1,1 13,0 1,1 14,0 1,1 3,0 2,2 2,0 1,1 5,0 1,1 2-1 6,0 5-3 2,0 1,1 9,0 10,4 11-1 1-1 10,0 10,5 6,0 1-1 13,0 1,1 6,0 1-1 7,3 6,1 1,2 2,0 7,4 15,0 4,2 3,0 3,2 6-1 1-1 2,1 5,0 1,1 6,0 5-2 4,0 1,1 4,0 1,1 8,1 2,2 17,1 1,1 7,0 1,1 5,0 1,1 10-1 1-1 6,0 4-2 9,0 1,1 7,0 1,1 2-1 9,0 1-1 3,0 1-1 3,0 5-2 5,0 1-1 2,0 1,1 2-2 4,0 5-2 4,0 1-1 2,0 2-2 2,0 6-3 1,1 2,0 1-1 7,0 3-2 5-1 8-4 7-7 0-1 2-1 2-4 2-1 14-27-8-16-9-8-1,0-5-6-1,1-8-7-4-2-5-1-3-2-5-1-3-2-5-1-6-3-15-1-1-1-9,0-1-1-9,0-1-1-34,1-1,1-1-1-10,0-1,1-2,0-2,2-12,1-1,1-6,1-2,2-2,0-1,1-3,0-5,2-5,0-3,2-3,0-1,1-3,0-1,1-3,0-5,2-10-2-1-1-6,0-11,6-13,0-4,2-7,7-5,2-6,1-10,6-2-1-3,1-1-1-5-1-3-2-7,0-1-1-3,0-1-2-2,0-1-2-5-2-12,2-1-1-5,0-1-2-3,0-3-2-5,2-1-1-5,0-1-1-10-1-3-3-2,0-5-3-3,0-6-3-2,0-5-3-2,0-13-8-1,1-13-9-7-1-1-1-4,0-10-5-4,0-1-1-4,0-1-1-10,0-1,2-4,0-1,1-4,0-1,1-4,0-1,1-4,0-1,1-14,2-14,6z" fill="#8f8f8f"/>
<path d="M16,70l16,52 4,2 2,0 5,3 2,0 3,2 2,0 4,5 2,0 3,2 3,0 3,2 3,0 4,2 2-1 5,3 11,0 1,1 19,0 1,1 19,0 1,1 19,0 1,2 3,0 1,1 20-1 1,1 9,0 1,1 7,0 1,1 28,0 3,2 20-1 7,3 3,0 1,1 2,0 4,2 3,0 7,3 3,0 4,2 12,0 1,1 6,0 1,1 12,0 1-1 1,1 4,0 1,1 4,0 1,1 5-1 1,1 4,0 1,1 4,0 1,1 4,0 1,1 4,0 1,1 24,1 1,1 7,0 1,1 1-1 18,0 1-1 22,0 1-1 8,0 1-1 4,0 1-1 4,0 1-1 4,0 1-1 4,0 1-1 4,0 1-1 4,0 1-1 8-1 6-3 5-1 3-2 6,0 5-3 2,0 8-4 6-5 2-4 8-6 12-24-8-16-24-20-4-2-5-1-3-2-5-1-3-2-5-1-6-3-15-1-1-1-9,0-1-1-9,0-1-1-14,0-1,1-19,0-1,1-11,0-1,1-3,0-1,1-3,0-1,1-3,0-1,1-3,0-1,1-3,0-1,1-3,0-1,1-3,0-1,1-3,0-1,1-3,0-1,1-3,0-1,1-3,0-1,1-3,0-1,1-3,0-1,1-3,0-1,1-3,0-5,2-12-1-1,1-3,0-2,2-2,0-4,3-11-1-4,2-5,7-2,0-4,2-6,0-6,3-2,0-1,2-2,0-1,1-10-2-1-1-3,0-1-1-3,0-1-1-3,0-1-1-3,0-1-1-3,0-6-3-5,1-1-1-5,0-1-1-5,0-1-1-5,0-1-1-5,0-1-1-5,0-1-1-10-1-3-2-5-1-3-2-5-1-3-2-5-1-3-2-2,0-4-2-22-15-7-1-1-1-4,0-1-1-4,0-6-3-9-1-1-1-1,1-8-1-1,1-4,0-1,1-4,0-1,1-4,0-1,1-4,0-1,1-4,0-1,1-4,0-1,1-7,1z" fill="#9f9f9f"/>
<path d="M220,110l-4-2-5-1-3-2-5-1-3-2-5-1-3-2-5-1-3,2-2,0-3,2-10,3-3,2-2,0-3,2-2,0-3,2-2,0-3,2-2,0-3,2-5,1-3,2-2,0-4,2 60,14zM511,110l-5-9-2-2-1-3-2-2-1-3-2-2-26-13-10-1-1-1-6,0-1-1-6,0-1-1-5,0-1-1-6,0-1-1-44,2-1,1-3,0-1,1-3,0-1,1-3,0-1,1-3,0-1,1-3,0-1,1-3,0-1,1-15,3-3,2-2,0-3,2-2,0-3,2-2,0-3,2-2,0-3,2-2,0-3,2-7,2-7,4-6,5-3,0-1,1-10,2-16,16 2,4-10,8 8,12 9,1 1,1 6,0 1,1 5,0 1,1 6,0 1,1 5,0 1,1 18,1 1,1 9,0 1,1 9,0 1,1 49,0 1-1 9,0 1-1 19-1 1-1 6,0 1-1 4,0 1-1 4,0 1-1 4,0 1-1 4,0 1-1 14-2 9-4 2-2 19-10 2-2 1-3 2-2 1-3 2-2zM44,80l4,24 24,12 32-4 12-24-5-10-2-2-4-9-1-1-4,0-1-1-8,0-1-1-8,0-1-1-8,0-1-1-4,0z" fill="#afafaf"/>
<path d="M63,81l0,2-1,1 1,7 6,5 5,2 8,0 1-1 2,0 4-2 4-4 0-2 1-1-1-7-4-4-7-3-8,0-1,1-2,0zM511,110l-5-9-2-2-1-3-2-2-1-3-2-2-26-13-10-1-1-1-6,0-1-1-6,0-1-1-5,0-1-1-6,0-1-1-44,2-1,1-3,0-1,1-3,0-1,1-3,0-1,1-3,0-1,1-3,0-1,1-3,0-1,1-15,3-3,2-2,0-3,2-2,0-3,2-2,0-3,2-2,0-3,2-2,0-3,2-7,2-7,4-6,5-3,0-1,1-10,2-16,16 2,4-10,8 8,12 9,1 1,1 6,0 1,1 5,0 1,1 6,0 1,1 5,0 1,1 18,1 1,1 9,0 1,1 9,0 1,1 49,0 1-1 9,0 1-1 19-1 1-1 6,0 1-1 4,0 1-1 4,0 1-1 4,0 1-1 4,0 1-1 14-2 9-4 2-2 19-10 2-2 1-3 2-2 1-3 2-2z" fill="#bfbfbf"/>
<path d="M496,108l-16-16-5-1-1-1-3,0-1-1-3,0-1-1-3,0-1-1-3,0-1-1-3,0-1-1-3,0-1-1-53,0-1,1-5,0-1,1-6,0-1,1-6,0-1,1-17,2-1,1-3,0-1,1-3,0-1,1-3,0-1,1-3,0-1,1-3,0-1,1-3,0-1,1-3,0-1,1-3,0-1,1-3,0-1,1-3,0-1,1-3,0-1,1-3,0-1,1-3,0-1,1-15,3-1,1-2,0-16,16 0,1 4,7 0,2 4,8 10,1 1,1 5,0 1,1 13,1 1,1 5,0 1,1 39,1 1,1 24,0 1-1 25,0 1-1 15,0 1-1 6,0 1-1 5,0 1-1 6,0 1-1 6,0 1-1 10-1 26-13 3-5 0-2 2-3 0-2 2-3 0-2z" fill="#cfcfcf"/>
<path d="M467,109l-5-6-8-4-8-1-1-1-26,0-1,1-11,1-1,1-7,1-1,1-5,1-3,2-5,1-10,6-8,8-2,4 0,7 5,6 8,4 8,1 1,1 27,0 1-1 10-1 1-1 7-1 1-1 5-1 3-2 2,0 3-2 2,0 8-5 8-8 2-4z" fill="#dfdfdf"/>
<path d="M467,109l-5-6-8-4-8-1-1-1-26,0-1,1-11,1-1,1-7,1-1,1-5,1-3,2-5,1-10,6-8,8-2,4 0,7 5,6 8,4 8,1 1,1 27,0 1-1 10-1 1-1 7-1 1-1 5-1 3-2 2,0 3-2 2,0 8-5 8-8 2-4z" fill="#efefef"/>
<path d="M462,111l-3-4-6-3-8-1-1-1-24,0-1,1-11,1-1,1-7,1-1,1-5,1-3,2-5,1-2,2-6,3-7,7-1,2 0,5 3,3 6,3 8,1 1,1 25,0 1-1 10-1 1-1 7-1 1-1 5-1 3-2 2,0 3-2 2,0 6-4 7-7 1-2z" fill="#ffffff"/>
</g>
</g></g>
<path d="M0.3,0 V65.40 H158.70" fill="none" stroke="#000" stroke-width="0.6" opacity="0.8"/>
<path d="M0.00,65.70 v-1.6 M25.39,65.70 v-1.6 M50.78,65.70 v-1.6 M76.18,65.70 v-1.6 M101.57,65.70 v-1.6 M126.96,65.70 v-1.6 M152.35,65.70 v-1.6 M0,0.00 h1.6 M0,32.85 h1.6 M0,65.70 h1.6" stroke="#000" stroke-width="0.6" fill="none"/>
<text x="156.50" y="62.50" class="w" text-anchor="end" fill="#fff" font-size="12.8">40 ns</text>
</g>
<text x="37.40" y="134.95" text-anchor="end" font-size="12.3">5</text>
<text x="37.40" y="167.80" text-anchor="end" font-size="12.3">0</text>
<text x="37.40" y="200.65" text-anchor="end" font-size="12.3"><tspan dy="1.4">−</tspan><tspan dy="-1.4">5</tspan></text>
<text x="44.72" y="210.75" text-anchor="end" font-size="12.3"><tspan dy="1.4">−</tspan><tspan dy="-1.4">8</tspan></text>
<text x="70.11" y="210.75" text-anchor="end" font-size="12.3"><tspan dy="1.4">−</tspan><tspan dy="-1.4">6</tspan></text>
<text x="95.50" y="210.75" text-anchor="end" font-size="12.3"><tspan dy="1.4">−</tspan><tspan dy="-1.4">4</tspan></text>
<text x="120.90" y="210.75" text-anchor="end" font-size="12.3"><tspan dy="1.4">−</tspan><tspan dy="-1.4">2</tspan></text>
<text x="146.29" y="210.75" text-anchor="end" font-size="12.3">0</text>
<text x="171.68" y="210.75" text-anchor="end" font-size="12.3">2</text>
<text x="197.07" y="210.75" text-anchor="end" font-size="12.3">4</text>
<clipPath id="c1_1"><rect x="0" y="0" width="158.70" height="65.70"/></clipPath>
<g transform="translate(249.00,129.55)">
<g clip-path="url(#c1_1)"><g filter="url(#jet)">
<rect x="-5" y="-5" width="168.70" height="75.70" fill="#000"/>
<g transform="scale(0.25)" fill-rule="evenodd" filter="url(#fb)">
<path d="M403,187l0-4-1-2-10-5-8-10 1-1-3-3 2-3 0-3-2-5-4-6-3-3-9-3-8-9-7-15-12-12-1-4-3-4-3,1-7,6-12,0-2-2-5-2-7,0-1,1-5,1-3,2-18,0-2-2-4-2-2,0-10,5-3,0-1,1-3,0-1,1-3,0-1,1-3,0-1,1-15,3-6,3-1-1-4,6-4-2-4,0-1,1-2,0-2,2-1,4 2,4 3,3 0,2-3,4-5,0-2,2-2,0-6,3-6,1-1,1-1-1-2,0-5-4-5,0-2,1-6,7-8,5-3,0 0,1-8,6-5,0-3-2-2,1-1-1-2,0-3,2-3,4 0,4 1,2 6,7 4,0 1-1 4,1 10,9 3-1 4-3 4-1 3,3 0,6-1,1 1,1 7,1 8,3 5-4 5,0 7,6 2,0 1,1 7,0 1,1 10,0 8-4 2,0 1,1 5,0 1,1 2,0 2,2 2,6 3,3 4-1 4-5 0-2 1-1 4,0 1,1 11,0 2,2 2,5 3,3 5,0 2-1 6-7 9,0 10,5 2,0 3,2 4,1 1,2 4,3 4,1 3,2 2,0 3-2 3,0 3,3 2,8 2,0 1,1 7,0 7-3 4,0 5-3 4-5 6,0 1-1 3,0 5-2 12-1 0-12 7-7zM338,93l1,1 2-1 4,0-3-2-3,0z" fill="#101010"/>
<path d="M136,168l2,1 0,3 4,4 5,1 4-3 2,1 4,0 4,3 4,1 4,6 15-1 18,9 7,0 1,1 6-1 1,1 5,0 1,1 5,0 1,1 5,0 1,1 5,0 1,1 16,0 1,1 9,0 3,4 2,1 2,0 4-4 14,1 3,2 2,0 5,3 2,0 3,2 7,2 10,5 18,0 1,1-1,1 1,4 3-2 0-2 1-1 17,0 1-1 14-1 2-2 11-1 0-12 1-1 0-7 1-1-1-12-10-11-1-6-2-2 1-1-1-1 0-3-4-4-3-1-3-3-2-4-6-6 0-1-3-2-8-16-7-7-6-8-15,0-1,1-5,0-1-1-29,0-1,1-30-1-2,2-3,0-4,2-10,1-3,2-7,1-1,1-5,1-3,2-2,0 0,1-5,4-6,9-1,4-3,5-9,2-12,6-3,0-5-2-1,1-2,0-1-1-1,1-1-1-5,4-4,1-6,4-1,2-7,5-5,2-1,2 0,4z" fill="#202020"/>
<path d="M393,189l-1-10-10-11-2-9-5-7-4-3-8-11-5-5-7-14-14-16-29,0-1-1-12,0-1,1-10,0-1,1-8,0-1-1-18,0-3,2-2,0-4,2-4,0-1,1-2-1-1,1-3,0-6,3-6,1-7,3-9,10 0,2-2,2-1,4-4,5-5,1-8,4-2,2-7,3-1-1-7,0-1-1-1,1-2-1-1,1-2,0-9,5 0,1-3,2-2,3-6,4 0,2-1,1 0,6 2-1 1,1 7,0 1,1 2,0 6,3 2,2 2,0 2,2 2,0 2,2 5,0 1,1 7,1 7,3 3,0 1,1 2,0 1,2 2,0 1,2 2,0 1,1 5,0 1,1 4,0 1-1 1,1 6,0 1,1 10,1 2,2 4,0 1,1 2,0 1-1 8,0 1,1 10,0 5,2 23,0 1,1 5,1 15,8 2,0 10,5 37,1 4-2 7,0 1-1 5,0 3-2 5,0 4-2 0-6 1-1 1-12z" fill="#303030"/>
<path d="M150,162l2,4 8,6 12,6 6,1 4,2 3,0 5,3 9,2 7,5 5,0 1,1 11,0 1,1 4,0 1,1 3,0 4,2 5,0 1,1 9-1 1,1 15,1 3,2 9,0 1-1 12,1 1,1 5,1 9,5 7,2 5,3 2,0 3,2 13,0 1,1 4,0 1,1 6,0 1-1 13,0 1-1 4,0 5-2 4,0 3-2 3,0 6-3 0-6 1-1 0-5 1-1 0-13-2-4-2-1-6-8-2-5 0-3-5-7-4-3-3-5-11-13-6-13-14-15-45-1-1,1-10,0-1,1-2,0-1-1-14-1-1,1-5,0-10,4-10,1-1,1-5,1-3,2-3,0-3,2-2,0-5,5-1,0-4,6-5,11-2,2-5,1-6,3-10,7-12,0-1-1-2,1-4,0-3,2z" fill="#404040"/>
<path d="M154,162l2,3 7,6 2,0 12,6 8,2 2,2 2,0 4,2 3,0 12,7 18,2 1,1 8,1 1,1 5,0 1,1 10-1 1,1 11,1 5,2 23,0 1,1 5,1 8,4 2,2 7,2 10,5 31,1 1-1 13-1 3-2 3,0 3-2 6-1 2-1 1-8 1-1 0-5 1-1 0-10-1-1 0-2-4-4-3-1-3-3-1-10-6-8-3-2-8-12-5-5-8-16-13-13-47-1-7,3-5,0-2-2-3,0-1-1-9,0-1,1-4,0-2,1-5,6-4,0-4-2-8,1-7,3-4,3-2,0-4,2-4,4-3,6 2,4-1,1 0,2-4,4-4,2-5,1-6,4-2,4 0,9-3,4-1,0-5-5-4-6-5,0-1-1-6,0-4,2z" fill="#505050"/>
<path d="M389,190l0-7-3-4-6-2-5-4 0-6 2-3 0-2-2-3-4-4 0-1-3-2-7-11-5-3-4-4-2-7-3-5-8-7-3-6-3-3-2,0-1-1-6,1-4,2-4,0-6-3-8,0-1-1-4,0-1,1-5,0-1,1-2,0-2,2-7,3-2,0-4-2-5-4-7,0-3,2-2,4-4,4-2,0-1,1-13-1-15,7-4,4 0,5-3,7-4,4-10,4-6,5 0,3-1,1 1,2 0,10-1,2-4,3-7,1-4-4-2-5 0-3-2-2-1-3-2-1-8,0-5,6 0,2 4,4 4,2 8,2 3,2 2,0 9,6 2,0 5,3 5,1 5,4 8,3 12-1 1,1 4,0 5,2 5,0 1-1 5-1 11,4 4,0 10,5 9,0 4-2 9,0 8,4 2,0 11,6 2,0 5,3 2,0 1,1 5,0 1,1 5,0 1,1 7,1 1,1 4,0 4-2 10-1 6-3 2-6 4-5 9,4 5-7 0-4z" fill="#606060"/>
<path d="M163,159l-2,3 3,3 5,1 1-1 0-5-1-2-4,0zM198,154l0,4 4,8 1,7 2,4 4,3 4-2 1,1 3,0 10,7 8,1 1,1 5,0 1,1 3,0 1-1 1,1 3,0 3,2 12,2 6,4 8,0 4-2 8,0 1,1 5,1 7,4 2,0 5,3 7,2 3,2 7,1 1,1 8,0 3,2 7,0 4-2 5,0 1-1 3,0 1-1 5-1 2-2 2-4 0-2 2-3 2-1 1-3 3-3 4,0 2-2 0-3-3-3-5-2-6-6 0-5 3-7-1-2-5,0-7-4-4,0-5-4-2-5 1-1 6,3 2,0 1-1-3-4-3-1-4-4-1-2 0-4-2-5-3-3-3,0-8-7 0-5-3-3-4,0-7,3-1-1-3,0-9-5-9,0-1,1-3,0-8,5-4,0-1,1-4,0-8-4-4,0-4,4-4,1-2,2-3,0-1,1-9,0-16,8-4,4-1,0-1,4-4,8-5,5-2,0-6,4z" fill="#707070"/>
<path d="M204,154l0,8 4,11 4,3 3,0 1,1 5,1 2,3 1,0 2,3 2,1 7,1 1,1 11,0 6,3 9,1 1,1 5,0 3,2 16,0 1,1 4-1 3,2 2,0 5,3 2,0 3,2 7,2 10,5 11,1 5,2 6,0 1-1 9-1 1-1 3,0 1-1 5-1 5-13 6-8 0-2-8-8-4-9-4-4 0-1-13-8-2-4 0-3 1-1-1-1 0-3-1-1 0-3-1-1 0-3-2-3 0-2-9-8-1,0-6-7-4,0-1,1-9-1-10-5-4,0-1,1-5,1-3,2-4,0-5,2-14-1-1-1-3,2-6,1-2,2-3,0-1,1-8,0-1,1-6,1-2,2-8,4-6,6 1,1-5,9z" fill="#808080"/>
<path d="M207,155l0,5 2,5 0,4 2,2 0,2 3,0 3,3 12,8 7,1 1,1 4,0 1,1 10,1 1,1 4,0 1,1 5,0 8,3 8,0 1,1 7-1 1,1 4,0 3,2 2,0 5,3 2,0 3,2 7,2 10,5 22,2 1-1 8-1 1-1 10-2 5-16 3-4 0-2-2-3-4-3-1-3-3-4 0-2-4-4 0-1-2-2-6-3-5-5-4-8 1-1 0-2-2-4 0-3-1-1-1-5-8-7-1,0-5-7-9,0-1,1-1-2-5,0-7-3-7,0-1,1-4,0-1,1-4,0-1,1-4,0-1,1-16-1-4,2-5,0-1,1-3,0-1,1-3,0-5,2-4,0-18,12-6,14-2,1z" fill="#8f8f8f"/>
<path d="M209,156l3,16 17,12 7,1 1,1 4,0 1,1 10,1 1,1 4,0 1,1 5,0 1,1 7,0 1,1 7,0 1,1 12,1 3,2 2,0 5,3 2,0 3,2 7,2 10,5 22,2 1-1 8-1 1-1 10-2 5-16 1-1 0-2 1-1-2-4-9-10-1-4-9-8 0-1-7-8-7-22-13-12-9,0-1-1-6,0-4-2-6,0-1-1-2,0-5,2-36,2-1,1-3,0-1,1-10,2-20,12-4,8 0,2-3,5 0,2z" fill="#9f9f9f"/>
<path d="M332,184l0,4 1,2 8,4 10,0 5-2 3-3 0-6-3-3-5-2-10,0-5,2zM222,155l0,2 9,18 3,2 3,0 4,2 3,0 1,1 6,1 8,3 11,0 1,1 19,0 1,1 11,0 1-1 4,0 5-2 4,0 1-1 4,0 1-1 6-1 10-20-2-24-16-12-15,0-1-1-33,0-1,1-18,0-20,10-5,10 0,2z" fill="#afafaf"/>
<path d="M332,184l0,4 1,2 8,4 10,0 5-2 3-3 0-6-3-3-5-2-10,0-5,2zM222,155l0,2 9,18 3,2 3,0 4,2 3,0 1,1 6,1 8,3 11,0 1,1 19,0 1,1 11,0 1-1 4,0 5-2 4,0 1-1 4,0 1-1 6-1 10-20-2-24-16-12-15,0-1-1-33,0-1,1-18,0-20,10-5,10 0,2z" fill="#bfbfbf"/>
<path d="M320,132l-5-1-1-1-3,0-1-1-3,0-1-1-3,0-1-1-3,0-1-1-39,2-3,2-2,0-3,2-2,0-3,2-2,0-4,2-4,8-2,2-5,11 5,13 18,10 38,1 1-1 11-1 1-1 4,0 1-1 5,0 1-1 2,0 4-8 0-2 5-9z" fill="#cfcfcf"/>
<path d="M320,132l-5-1-1-1-3,0-1-1-3,0-1-1-3,0-1-1-3,0-1-1-39,2-3,2-2,0-3,2-2,0-3,2-2,0-4,2-4,8-2,2-5,11 5,13 18,10 38,1 1-1 11-1 1-1 4,0 1-1 5,0 1-1 2,0 4-8 0-2 5-9z" fill="#dfdfdf"/>
<path d="M240,155l0,5 4,7 1,0 4,4 2,0 4,3 6,1 1,1 4,0 1,1 18,0 1-1 4,0 1-1 6-1 11-7 4-7 0-5-1-1 0-2-7-8-2,0-2-2-8-3-9-1-1-1-12,0-1,1-5,0-1,1-7,1-4,3-4,1-6,6z" fill="#efefef"/>
<path d="M245,156l0,3 2,4 4,3 3,1 2,2 6,1 1,1 4,0 1,1 16,0 1-1 8-1 1-1 2,0 9-6 2-4-1-6-9-7-2,0-4-2-3,0-1-1-5,0-1-1-10,0-1,1-5,0-1,1-7,1-2,2-4,1-5,5 0,2z" fill="#ffffff"/>
</g>
</g></g>
<path d="M0.3,0 V65.40 H158.70" fill="none" stroke="#000" stroke-width="0.6" opacity="0.8"/>
<path d="M0.00,65.70 v-1.6 M25.39,65.70 v-1.6 M50.78,65.70 v-1.6 M76.18,65.70 v-1.6 M101.57,65.70 v-1.6 M126.96,65.70 v-1.6 M152.35,65.70 v-1.6 M0,0.00 h1.6 M0,32.85 h1.6 M0,65.70 h1.6" stroke="#000" stroke-width="0.6" fill="none"/>
<text x="156.50" y="62.50" class="w" text-anchor="end" fill="#fff" font-size="12.8">40 ns</text>
</g>
<text x="245.10" y="134.95" text-anchor="end" font-size="12.3">5</text>
<text x="245.10" y="167.80" text-anchor="end" font-size="12.3">0</text>
<text x="245.10" y="200.65" text-anchor="end" font-size="12.3"><tspan dy="1.4">−</tspan><tspan dy="-1.4">5</tspan></text>
<text x="252.42" y="210.75" text-anchor="end" font-size="12.3"><tspan dy="1.4">−</tspan><tspan dy="-1.4">8</tspan></text>
<text x="277.81" y="210.75" text-anchor="end" font-size="12.3"><tspan dy="1.4">−</tspan><tspan dy="-1.4">6</tspan></text>
<text x="303.20" y="210.75" text-anchor="end" font-size="12.3"><tspan dy="1.4">−</tspan><tspan dy="-1.4">4</tspan></text>
<text x="328.60" y="210.75" text-anchor="end" font-size="12.3"><tspan dy="1.4">−</tspan><tspan dy="-1.4">2</tspan></text>
<text x="353.99" y="210.75" text-anchor="end" font-size="12.3">0</text>
<text x="379.38" y="210.75" text-anchor="end" font-size="12.3">2</text>
<text x="404.77" y="210.75" text-anchor="end" font-size="12.3">4</text>
<clipPath id="c0_2"><rect x="0" y="0" width="158.70" height="65.70"/></clipPath>
<g transform="translate(41.30,236.40)">
<g clip-path="url(#c0_2)"><g filter="url(#jet)">
<rect x="-5" y="-5" width="168.70" height="75.70" fill="#000"/>
<path d="M36.0,11.6 40.0,12.0 50.0,13.5 60.0,15.0 68.0,14.0 76.0,12.0 90.0,11.0 90.0,20.0 60.0,22.0 40.0,20.0Z" fill="rgb(56,56,56)" filter="url(#bl13)"/>
<path d="M113.0,5.6 118.0,5.0 124.0,7.6 118.0,9.0Z" fill="rgb(51,51,51)" filter="url(#bl8)"/>
<path d="M138.0,14.6 146.0,16.6 140.0,19.6 151.0,24.0 142.0,27.6 146.0,30.6 138.0,33.6Z" fill="rgb(51,51,51)" filter="url(#bl8)"/>
<g transform="scale(0.25)" fill-rule="evenodd" filter="url(#fb)">
<path d="M33,31l0-4-2,0-4,2 2,2zM-18,54l0,5 1,2 3,3 5,1 1,1 0,15 1,1 0,9-1,1 0,3-3,4-2,5 0,3 4,8 0,9-2,5-8,10 0,12 5,3 0,3-3,3 0,6 3,4 5,2 7,1 1,1 1-5 3-2 13,0 1-1 3,0 1,1 7,0 1,1-1,1 0,5 1,1 8-1 5-2 5,0 5-2 1,1 13,1 2,2 0,3 2,5 3,3 5,0 4-3 3-1 4-6 5,0 1-1 1,1 5,0 5,2 16,1 1,1 14,2 1,2-1,1-1,5 2-1 3-5 1,1 0,2 4-1 1,2 3,1 2,3 9,6 2,0 1,1 30,0 5-2 2-2 4,0 1-1 11,0 1,1 7,0 1-1 2,0 6,9 5,0 1-1 9,0 1-1 3,0 0-1 5-4 7,2 8-6 10,0 1-1 2,0 4-4 15,0 5,5 3,5 0,2 9,0 1,1 2-2 2-4 0-2 3-3 3,0 3,2 5,0 1-1 12,1 2,2 5,2 7,0 1-1 6-1 2-2 12,0 13,7 4,0 8-4 6,1 8,4 2,0 1-1 6,0 1-1 4,0 1-1 14-2-5-1-1-1-6,0-4-3-1-2 1-2 5-1 3-2 4,0 1-1 2,0 1,1 2-1 9,1 3-2 4,0 4,3 5,2 1-1 3,0 3-2 1-2 6-5 3,0 1-1 1,1 6,0 4-2 6-7 2-4 3-1 0-1 4-3 8-3 2-3 5,0 2-1 7-7 5-1 1-1 3,0 3-7-1-6-6-8 0-2 1-1-1-2 1-2-1-9 2-4-1-2 3-3 2-4 0-3 1-1 1-5-3-3-3-1-5-5-1-12-2-2-2-5-6-6-7-3-3,0-7,5-2-1-1,1-5-2-5-5 0-1-4-4 0-2-3-5 1-3 3-3 0-1-3-2-22,0-1,4-5,4-9-4-12,0-5,2-4,4-4,2-9,0-1-1-4,0-1,1-4,0-1,1-11,0-1,1-6-3-6-5-3-1-1,1-3,0-1,1-15,3-2,5 0,7-3,2-10,2-2-2-2,0-1-1-14,1-6-4-1,1-3,0-14,6-2,2-1,7-3,3-12-1-1,5-1,1-5,1-1,1-3,0-1,1-2,0-1-1 0-2-3-4-3,0-3,3-1,2 0,4-3,2-4,0-1,1-4,0-1,1-3-2-6-8-5,0-1,1-4,0-1,1-8,0-1,4-4,3-5,0-5-5-2-5-4,0-1-1-3,6-4,4-9,0-1-1-14-2-2-1-9-10-6-3-2-2-6-1-1,1-5,0-1,1-4-5 1-1-1-1 0-5-2-3 0-2-5-2-2-2-3-1-2,2-5,1-1,1-1-1-5-1-4-4-9,0-1,1-11-1-8-9-14,0-7,6-4,2-2-1-4-5-3-1-5,3 0,1-5,5-5,3-7,2-5,4-6,0-3-3-2-4-5,3-2,5 0,3-3,5-5,0-5-3-7,0-5,4z" fill="#101010"/>
<path d="M-15,55l1,4 3,2 2,0 4,6 0,7-1,1 1,15-3,8 1,28-1,1 0,4-4,3-5,8 0,3 9,6 0,9 2,0 1,1 1-1 2,0 1,1 3,0 1,1 3,0 5,2 13,0 1,1 3,0 2,2 6,1 1,1 7,0 1,1 4,0 1-1 7,1 1-1 2,0 3,2 5,0 1,2 7,0 1,1 0,2 3-2 5,0 2,1 5-2 4,0 1,1 6,0 4,2 16,1 1,1 4,0 5,2 4,0 1,1 8,1 2,2 4,0 2,1 4,4 4,2 8,1 1,1 3,0 1-1 2,1 3-3 7,1 4,2 6,0 1,1 2-1 4,0 3-2 2,0 1,1 5,0 1-1 4,1 1-1 7-1 1,1 5,0 2,3 0,3 3,4 9,0 1-2 0-4-1-1 0-2-2-2 1-1 18-1 1-1 9,0 1-1 14,0 1-1 25,1 1,1 0,2 1,0 1-2 6,0 1-1 1,1 7,0 3,2 10-1 1,1 11,1 5,2 6-1 1-1 5,0 1-1 12,0 1,1 6,0 1-1 6,4 3,0 4-3 4-1 3-2 6,0 3,4 2,0 1-1 3,1 1-1 0-4 1-1 4,0 2-2 2,0 6-3 4,0 1-1 15,0 1-1 7-1 7-3 3,0 7-3 3,0 7-3 7,0 5-4 3-1 9-8 4-2 2,0 6-4 7-9 11-5 2-2 0-3-5-4 1-2 0-5 1-1-1-1 1-2-1-2 1-1-1-8 1-1 0-4 2-4 0-11-2-2 0-4-2-1-1-3-3-4 1-1-5-7 1-1-1-1 0-3-5-6-4-2-3,0-3,2-2,0-1-1-2,1-1-1-7-1-7-7-3-5-5-4-8,0-1-1-20,0-3-2-8,0-4,2-10,0-4,2-5,0-1-1-10,0-4,2-15,0-1,1-5,0-4-4-4-2-8-1-5,2-2,2-2,9-2,2-2,0-2,2-2,0-1,1-8,0-5,2-7,0-1,1-2,0-2,2-3,0-1,1-3,0-1,1-3,0-5,2-2-1 0-3-2,0-2,1 0,3 1,1-1,1-20,6-2,2-4,1-3,2-11,0-1,1-3,0-2,2-8,3-2,0-1-1-1,1-5-1-9-10-2,1-4,0-1,1-4,0-3,8-3,3-10-1-1-1-6,0-1-1-5,0-1-1-6,0-1-1-10,0-1-1-8-1-2-2-7-1-7-8-4-2-6,0-2,1-1,2-4-4-4-2-4-5-5-2-1-1 1-1-7-2-11-6-3,0-1-1-7,0-1-1-7,0-1-1-7,0-1-1-7,0-1-1-6,0-2-3-2,1-2,3-15,1-1,1-2-1-7,0-1,1-8,2-4,3-8,2-3,2-3,0-3,2-1,2-1-1-3,4-2,0-2,2-7,1-5-4-6-1-4,3 0,2zM325,56l1-1 1,1-1,1zM489,21l0,4 1,1 3,0 4-3 0-2z" fill="#202020"/>
<path d="M557,92l-1-1 0-7-2-2 0-3-4-5-4-8-2-7-2-2-8-4-12-1-7-3-1-2-3-2-2-4-7-6-10,0-1-1-9,0-1-1-19-1-1,1-10,0-1,1-4,0-1,1-4,0-1-1-11,0-4,2-11,0-1,1-2-1-1,1-8,0-2,1-4-4-2,0-1-1-6,0-4,4-1,5-1,1-2,0-2,2-2,0-2,2-2,0-1,1-8,0-1,1-2,0-1-1-1,1-11,2-1,1-2,0-2,2-10,2-1,1-3,0-6,3-2,0-2,2-13,3-2,2-2,0-2,2-2,0-1,1-3,0-1,1-2-1-2,1-5,0-12,5-14-1-8-9-3,0-2,2-1,6-3,4-2,0-1-1-5,1-1-1-7,0-1-1-5,0-1-1-5,0-1-1-7,0-1-1-14-1-7-3-3,0-6-3-4,0-1-2-3-2-2,0-2,2-4-4-3,0-7-5-4-5-3-1-7-5-4-1-3-2-3,0-3-2-3,0-1-1-3,0-5-2-6,0-1-1-16,0-1-1-4,0-1-1-4,0-2,2-13,1-1,1-10-2-1,1-2,0-2,2-13,4-8,4-8,7-2,0-2,2-2,0-1,1-6,0-4-2-7-1 0,3 5,6 2,4 0,9-1,1 1,12-3,8 1,29-1,1 0,4-2,3 0,2-3,4 0,3 3,4 0,2 3,6 0,3 5,1 4,2 7,1 1,1 16,0 4,3 4,1 2,2 7,0 1,1 1-1 14,0 1,1 4,0 1,1 2,0 4,2 4,0 1,1 6,0 1-1 2,1 2,0 1-1 9,0 1,1 4,0 3,2 9,0 1,1 6,0 1,1 4,0 1,1 14,2 1,1 3,0 3,2 5,1 3,2 4,0 1,1 4,0 1,1 4,0 1,1 2,0 1-1 2,1 5,0 1,1 4,0 5,2 9,0 3-2 7,0 1,1 1-1 10,0 1-1 6,0 1,1 3,0 1-1 1,1 8,0 1-2 18-1 1-1 5,0 1-1 2,1 2-1 14,0 1-1 16,0 1,1 9,0 1,1 10-1 1,1 8,0 1,1 12,0 1,1 4,0 5,2 12,0 1-1 4,0 1-1 14,0 1,1 4,0 1-1 1,1 8,0 1-1 5,0 5-2 16-1 1-1 3,0 2-2 2,0 3-2 7-1 1-1 11,0 1-1 1,1 2,0 6-3 12-2 2-2 2,0 4-2 8-1 1-1 4,0 1-1 1,1 4-1 1-2 4-2 6-6 7-4 4-1 4-3 13-14 2-5-1-1 1-1 0-8 1-1 0-16 1-1 0-4z" fill="#303030"/>
<path d="M555,91l-1-1 0-5-2-3 0-2-5-9-2-2-3-8-3-3-6-3-10-1-8-3-6-6-4-6-4-2-9,0-1-1-6,0-1-1-6,0-1-1-22,0-1,1-7,0-1,1-5,0-1-1-11,0-4,2-10,0-1,1-3-1-1,1-8,0-1,1-1-1-6,1-4-2-5,5-3,0-1,2-2,0-6,4-14,1-1,1-15,3-2,2-2,0-3,2-8,1-1,1-5,1-5,3-12,3-2,2-2,0-2,2-2,0-1,1-16,2-1,1-2,0-2,2-3,0-1,1-10,0-1-1-2,1-4-2-1,1-4,0-1,1-5,0-4,2-3,0-1-1-5,1-1-1-6,0-1-1-6,0-1-1-5,0-1-1-6,0-1-1-11-1-1-1-4,0-1-1-7-1-3-2-7-1-1-2-4,0-1-1-2,1-2-2-4-1-9-6-3-4-9-5-2-2-5-2-3,0-4-2-4,0-1-1-5-1-3-2-6,0-1-1-4,0-1,1-3,0-1-1-1,1-5,0-1-1-4,0-1-1-3,0-1,1-7,1-1,1-4,0-1,1-6,0-1-1-5-1-1,1-3,0-3,2-2,0-5,3-8,2-11,10-4,2-3,0-1,1-5,1-1-1-4,0-4-2 5,8 0,11-1,1 0,7 1,1 0,3-1,1 0,3-3,8 1,14 1,1 0,13-1,1 0,3-3,5 0,9 2,3 2,7 2,1 2,0 4,2 3,0 1,1 4,0 1,1 15,0 8,4 2,2 4,0 1,1 19,0 1,1 4,0 3,2 6,0 1,1 13,0 1-1 5,0 5,2 4,0 3,2 8,0 1,1 6,0 1,1 4,0 1,1 14,2 1,1 6,1 8,4 4,0 1,1 4,0 1,1 15,0 11,4 1-1 3,0 1,1 4-2 40-1 2-2 18,0 3-2 22,0 1-1 17,0 1,1 9,0 1,1 2,0 1-1 9,0 1,1 5,0 1,1 13,0 1,1 4,0 4,2 12,0 1-1 8-1 1-1 5,0 1,1 5,0 1,1 2,0 1-1 2,0 1,1 6,0 1-1 4,0 1-1 4,0 1-1 4,0 1-1 2,0 1,1 1-1 7,0 1-1 3,0 2-2 3,0 2-2 3,0 5-2 6,0 1-1 4,1 1-1 5,0 4-2 3,0 7-3 6-1 3-2 4,0 4-2 6,0 1-1 6-1 14-12 7-2 4-3 2-3 4-3 7-10 0-4 1-1 0-6 1-1 0-16 1-1 0-4 2-4z" fill="#404040"/>
<path d="M553,88l-4-10-6-8-1-3-2-2 0-2-2-2-5-3-2,0-4-2-3,0-1-1-3,0-7-3-7-8 0-1-5-4-15-1-1-1-10-1-1-1-15,0-1,1-11,0-1,1-4,0-1-1-12,0-8,4-2,0-4-2-1,1-11,0-1,1-2-1-5,1-1-1-1,1-7,1-1,2-2,0-2,2-2,0-6,5-14,0-1,1-4,0-8,3-3,0-2,2-3,1-3,4-3-2-3,0-1,1-5,1-5,3-10,2-6,3-7,6-13-1-1,1-5,1-5,4-5,0-2-2-7,0-1-1-2,1-2-1-2,0-1,1-5,0-4,2-10,0-1-1-7,0-1-1-5,0-1-1-5,0-1-1-6,0-1-1-5,0-1-1-5,0-1-1-4,0-5-2-4,0-3-2-6-1-2-2-7,0-3-3-3,0-2-2-5,0-3-3-2-5-14-8-7-1-1-1-2,3-3,1-2-2 0-2 1-1-4-1-3-2-7-1-1-1-2,1-17,0-1-1-2,0-5,2-4,0-3,6-4,4-4,0-2-2 0-7-6-1-21,8-5,5-1,5-2,2-4,0-1-1-4,2-10,2 1,1 0,12-1,1 0,8 1,1 0,4-2,2 0,2-2,4 0,9 1,1 0,8 1,1 0,13-4,9 0,5 1,1 1,5 3,5 3,0 3,2 3,0 1,1 15,1 8-6 3-1 2,2 0,3-3,4 4,4 2,0 1,1 4,0 1,1 3,0 1-1 10,0 1,1 8,1 1,1 5,0 1,1 11,0 4-4 7,0 5,2 5,4 7,0 8,3 7,0 1-1 2,0 9,4 2,2 4,0 11,5 9,1 1,1 1-1 2,0 1,1 2,0 1-1 2,0 1,1 1-1 3,0 10,4 9,0 1-1 9,0 1-1 10,0 1-1 4,0 1,1 11,0 4-2 8,0 1-1 8,1 4-2 8,0 1-1 1,1 13,0 5-2 8,0 1,1 5,0 1,1 13,0 0-7 2-2 2,0 3,2 1,4 3,4 4,0 1,1 8,0 2-1 11,4 12,0 1-1 3,0 1-1 3,0 1-1 5-1 4,2 14,0 1,1 3-2 7,0 2-2 17-1 8-3 5-4 6-1 1-1 5,1 3,2 1-1 9-1 1-1 11-3-2-3 1-1 0-2 4-4 5-2 3,1 3,3 0,4 5-2 6,0 1-1 2,0 8-7 1-3 6-5 7,0 3-2 12-14 1-11-1,0-3-4 0-5 3-8 4-5 0-2 1-1z" fill="#505050"/>
<path d="M-1,98l0,6 5,1 2-2 0-4-2-2zM551,88l-5-11-8-9 0-3-12-7-12,0-1,1-10,1-1-1 0-2 3-5 0-7-3-3-2-1-4,0-1,1-8,0-3-3-5-1-1-1-22,0-1,1-4,0-1,1-6,0-1-1-4,0-1-1-6,0-4,2-5,5-7,0-7-4-6,0-1,1-2-1-2,1-7,0-1,1-3,0-2,2-2,0-3,2-1,4-4,3-7,0-1-1-4,0-1-1-10,1-8,3-3,5-1,4-4,3-2,0-1,1-3,0-1-1-21,1-10,10-4,2-2,0-4,2-10,0-8,4-7,0-2-1-2-3 0-3-15,0-3,2-16,0-1,1-2,0-1-1-5-1-2-2-11-1-1-1-5,0-1-1-14-1-11-5-4,0-1-1-7-1-4-3 0,2-3,4-5-1-8-7-4-11-3-1-4-3-14,6-5,0-3-3 0-9-1-1-4,0-1-1-10,0-8,5-10,1-2,1-9,8-6,0-2-1-4-5 0-7-20,7-3,3 2,5 0,3-3,3-10,2-1,1-2-1-7,0-1,2 1,2 0,11 9,12 0,10-1,1 0,3 1,1 0,3 1,1 1,6 2,3 0,4 1,1-2,3-8,7-4,0-4-2-3,6 0,6 4,8 6,1 1,1 5,0 1,1 9-1 10-8 4-2 3,0 2,3 0,7-2,3-1,5 5,2 12,0 1-1 5,0 7,3 6,0 7-6 4-1 1,1 14,2 5,2 10,0 5,3 8,0 1-1 3,0 8,6 2,0 6,3 5,6 3,0 3,2 3,0 1,1 13,0 4-4 5-1 3,2 3,6 6,0 1,1 4-2 15-1 1-1 9,0 3,2 2-1 8,0 0-3 3-3 4,0 2,2 5,2 7,0 10-9 2,0 2,2 0,2 2,4 8,0 5-4 2,0 1-1 9,0 4,2 4,0 2-5 2-2 2,0 1-1 9,0 1,1 3,0 3,3 0,2 2,4 4,1 4-2 5,0 2,1 4,5 3,0 1,1 11,0 1-1 2,0 8-7 6,0 7,6 10,0 1-1 5,0 3-7 5-4 2,0 1-1 5,1 5,3 4,0 1-1 11-3 9-5 1,1 2,0 4,4 4,0 2-1 3-4 0-2 5-5 3,0 3-2 2,0 7-3 3,0 1-1 6,5 2,4 7-2 3-3 0-2 2-4 4-4 8-5 8-1 8-9 1-4-3-1-3-4-2-10 6-10 7-8zM529,79l4-5 4,0 5,5 1,5-2,2-2,0-1,1-7-1-2-2z" fill="#606060"/>
<path d="M35,51l0,2 5,3 3-2-1-4-5,0zM13,73l1,7 5,5 0,7-1,1 0,3-2,5 0,6 2,4 0,3 6,12 0,11-4,3-2,3 0,4 2,2 4,0 2-1 8-7 7,0 6,5 0,5-1,1 0,4-1,1 0,5 2,1 3,0 7-3 7,0 5,2 4,0 2-1 4-5 5-1 1,1 4,0 3,2 4,0 1,1 8,1 1,1 6,0 1,1 4,0 1,1 4,0 1,1 12,1 14,6 9,1 2,2 0,6 1,1 7,1 1,1 5-1 6-5 6-3 4,0 2,1 3,3 2,4 2,1 7,0 11-4 8,0 5,2 6,0 2-1 5-7 5,0 8,6 5,0 2-1 5-6 2,0 1-1 7,0 1,1 2,0 3,4 4,0 6-3 4,0 1-1 11,0 1-1 4,0 1-1 4,0 1-1 5,0 1,1 8,1 2,2 3,0 3,2 10,1 3,3 2,5 2,2 11,0 9-11 3,0 1-1 1,1 7,0 1,1 7,0 1,1 2,0 10-5 4,0 3-2 13,0 1,1 7,0 1-1 3,0 6-4 2,0 2-2 3,0 1-1 1,1 2,0 1-1 5,0 1-1 2,0 2-2 3,0 2-2 3,0 1-1 2,0 10-4 4,0 1-1 3,0 2,2 5,2 2-1 2-3 12-11 1-3 3-3 5-2 2-2 0-7-1-1 1-2 0-6-1-1 0-3 1-1 0-2 5-5 5-7 0-4-2-1-8,0-1-1-2,0-7-5-2-4 0-8-3-4-5-1-1-1-3,0-3,2-1-1-6-1-2-1-2-3-7-6-14-5-1-1 0-5 1-1 0-2-2-2-2,0-1-1-2,0-6,4-3,5-11-1-1-2-3-2-2,0-4-2-7,0-4,4-2,0-3,2-15,0-4,2-6,0-1-1 1-7-8,0-1,1-3,0-3,2-1,6-3,3-3,0-1,1-18,0-1-1-6,0-1,1-2,0-2,2-2,4 0,2-2,2-7,4-6,1-6,3-12-1-2,1-6,7-11,5-9,1-1,1-8,1-1,1-7,0-1,1-6,0-3-2-3-4-1-4-2,1-14,1-8,4-8,2-1-1-4,0-9-7-2,0-4-2-5,0-1-1-16,0-5-2-5,0-3,3-2-1-1,1-2,0-20-10-7-6-2-5-5-3-2,0-4,2-8,0-1,1-3,0-4-2-3-3 0-6 1-1-1-4-2,0-1-1-2,0-16,9-6,1-6,4-2,0-3,2-12,1-6,4-2,0-8,4-11,0-1,1-3,0-3,2z" fill="#707070"/>
<path d="M18,106l1,1 1,6 7,11 0,3 1,1 0,8 2,2 9,0 1,1 5,1 6,6 0,4-1,1 0,5 1,1 4,0 1-1 9,0 5,2 7-5 7,0 1,1 3,0 11,4 11,1 1,1 6,0 7,3 11,0 3,2 2,0 3,2 6,1 1,1 2,0 1-1 2,0 1,1 2-1 6,0 5,3 0,6 2,1 5-2 6-4 4,0 1-1 2,1 9,1 2,1 3,4 2,0 7-5 13,0 4,2 6,0 2-2 2,0 3-2 7,0 8,4 3,0 2-2 10-4 5,0 1,1 3,0 5,2 4,0 1-1 9,0 1-1 10,0 1-1 4,0 1-1 13,0 1,1 4,0 2,2 4,0 4,2 16,1 1,1 0,2-1,1 0,4 2,3 5,0 3-2 3-5 0-2 2-2 2,0 1-1 23,0 1-1 5,0 1-1 4,0 5-2 9,0 1-1 2,0 1,1 4,0 2-1 1,1 1-1 8-1 10-5 5,0 1-1 8-1 3-2 6-1 5-3 3,0 5-3 1,1 1-1 7,0 1-1 6,0 14-10 3-6 6-7 1-5 1-1-1-11 1-1 1-7 3-4 0-2-3-1-4-4-4-2-4-4-2-5-4-4-3,0-6-4-3,0-5-2-3-4-8-7-6-1-2-2-2,0-8-4-8,0-1-1-2,1-4,0-1-1-4,0-3-2-4,0-1-1-17,0-1,1-9,0-1,1-8,0-2,2-6,0-1-1-2,0-1,1-1-1-5-1-1,2-2,0-6,3-7,1-1,1-7,0-5,2-6,0-2-1-1,1-2,0-1,2-8,7-6,3-5,1-3,2-12,2-6,3-2,2-2,0-10,5-2,0-4,2-5,0-1,1-3,0-5,2-9,0-1,1-4,0-1-1-8,0-5-5-2,0-1-1-1,1-6,0-8,4-10,0-1-1-5,1-1-1-4,0-6-3-2-4-2-1-4,0-1-1-4,0-1,1-8,0-1-1-5,0-1-1-7,0-1,1-2-1-1,1-2,0-3-2-2,0-3-3-2,0-10-5-8-7-9-5-2,1-3,0-1-1-2,0-1,1-6,0-8-4-2-2-1-6-4,0-7,4-7,1-1,1-5,1-3,2-2,0-3,2-10,1-9,6-5,1-3,2-2,0-4,2-2,0-1-1-6,0-3,3 0,5 3,4 1,6-1,1 0,4-2,4 0,3-2,3z" fill="#808080"/>
<path d="M281,169l2,0 1,1 18-1zM167,167l6,4 8,0 1-1 5,0 2-1 1,1 6,0 1,1 4,0 1,1 5,0 1-1 18,0 1,1 7,0 8-3 6,0 8,3 5,0 6-3 2,0-78,0-1-1-19,0-1-1zM139,164l2,0 3,2 4,0 1,1 5,0 1-1 2,1-1-1zM48,139l3,1 3,4 7,4 2,0 5,3 3,0 1,1 1-1 10,0 1,1 6,1 3,2 3,0 5,2 10,1-3,0-4-2-3,0-4-2-3,0-4-2-3,0-4-2-3,0-4-2-10-2-6-3-2,0zM21,108l0,2 3,5-2-3zM214,91l2,0 1,1 6,0 1,1 6,0 1,1 5,0 1,1 8,0 1-1 17-1-12,0-1-1-11,0-1-1-11,0-1,1-2-1-4,0-1,1zM167,81l3,0 1,1 3,0 1,1 3,0 1,1 3,0 1,1 3,0 1,1 3,0 1,1 3,0 5,2 4,0 1,1-6-4-5-1-1-1-11-1-1-1-4,0-1-1zM532,121l-1-12-1-1 2-4 0-7-16-17-5-1-6-3-3-3-5-2-5-7-6-3-2,0-9-5-6-1-1-1-4,0-1,1-2-1-6,0-1-1-4,0-3-2-4,0-1-1-4,0-1,1-2,0-1-1-7,0-1,1-9,0-1,1-9,0-1,1-9,0-1,1-2-1-5,0-1,1-3,0-8,3-11,1-5,2-4,0-1,1-7,1-8,7-2,0-7,4-2,0-9,5-1-1-6,1-10,6-2,0-3,2-2,0-3,2-11,2-1,1 1-1 3,0 1,1-6,3-15,1-1,1-9,0-1,1-9,0-1,1-8,0-1-1-5,0-1-1-6,0-1-1-6,0-1-1-5,0-1-1-6,0-1-1-4,0-1-1-3,0-1-1-3,0-1-1-3,0-1-1-3,0-1-1-3,0-1-1-15-3-29-14-3-3-9-5-16,0-2-2-2,0-8-5-6,0-1-1-10,1-2,2-3,0-2,2-2,0-3,2-7,1-11,7-7,1-4,3-2,0-1,1-6,0-2,2 0,3 2,2 0,5-1,1 0,3-2,5 3-6 1,1 0,2-1,1-3,11 1,1 0,3 2,4 0,3 1,1 1,6 3,8-1,4 3,2 1-1 3,2 6,1-2,0-10-4-1-2 1-1 2,0 1,1 3,0 1,1 3,0 1,1 3,0 1,1 15,3 4,2 3,0 4,2 3,0 4,2 3,0 4,2 3,0 4,2 3,0 4,2 3,0 1,1 6,1 8,3 16,1 1,1 9,0 1,1 9,0 1,1 6,0 1-1 4,0 1-1 4,0 1-1 4,0 1-1 4,0 1-1 4,0 1-1 4,0 1-1 4,0 1-1 7,0 1,1 9,0 1,1 9,0 1,1 9,0 1,1 9,0 1,1 9,0 1,1 19,1 1,1 5,0 1,1 3,0 1,1 3,0 1,1 3,0 1,1 3,0 1,1 3,0 1,1 3,0 5,2 16,1 1,1 9,0 1,1 8,1 3,2 13-1 7,3 3,0 7-3 11,0 1,1 6,0 1-1 8,0 4-2 6,0 2-2 9,0 1-1 2,1 10,0 1-1 4,0 1-1 2,0 2-2 2,0 2-2 3,0 1-1 9,0 5-3 4,0 1-1 4,0 1-1 7-1 9-5 8,0 1-1 2,0 12-7 5-9 4-4zM286,90l1-1 2,0 1,1-1,1-2,0zM290,89l1-1 1,1-1,1zM27,87l1-1 1,2-1,1zM28,85l1-1 1,1-1,1z" fill="#8f8f8f"/>
<path d="M252,169l2,0 1,1 7,0 1-1 2,0zM217,169l11,0 1,1 2,0 1-1 5,0zM173,168l2,0 1,1 10-1zM145,165l5,0 1,1-1-1zM66,146l2,0 1,2 2,0 1,1 7,0-6-1-4-2zM224,93l6,0 1,1 5,0 1,1 15-1zM174,82l1,1 3,0 1,1 3,0 1,1 15,3-10-2-1-1-3,0-1-1-4,0zM531,118l-4-24-25-21-5-2-2-2-7-3-2-2-15-8-9-1-1-1-6,0-1-1-6,0-1-1-5,0-1-1-6,0-1-1-7,0-1,1-9,0-1,1-9,0-1,1-16,1-1,1-3,0-1,1-3,0-1,1-3,0-5,2-7,0-6,3-2-1-1,1-7,1-3,3-6,3-2,0-7,4-2,0-9,5-2,0-7,4-10,3-3,2-2,0-8,4-5,1-3,2-15,1-1,1-9,0-1,1-9,0-1,1-8,0-1-1-5,0-1-1-6,0-1-1-6,0-1-1-5,0-1-1-6,0-1-1-4,0-1-1-3,0-1-1-3,0-1-1-3,0-1-1-3,0-1-1-3,0-1-1-15-3-42-21-15-1-1-1-7,0-3-3-11-2-1,1-6,0-3,2-2,0-1,2-5,0-1,1-9,1-23,15-2,3 0,2-7,19 1,6 2,4 0,3 2,4 0,3 1,1 2,8 10,2 1,1 3,0 1,1 3,0 1,1 3,0 1,1 3,0 1,1 3,0 4,2 3,0 4,2 3,0 4,2 3,0 4,2 3,0 4,2 3,0 4,2 3,0 1,1 6,1 8,3 43,4 1-1 4,0 1-1 4,0 1-1 4,0 1-1 4,0 1-1 4,0 1-1 4,0 1-1 4,0 1-1 7,0 1,1 9,0 1,1 9,0 1,1 9,0 1,1 9,0 1,1 9,0 1,1 19,1 1,1 5,0 1,1 3,0 1,1 3,0 1,1 3,0 1,1 3,0 1,1 3,0 1,1 3,0 5,2 16,1 1,1 9,0 1,1 9,0 1,1 49,0 1-1 9,0 1-1 19-1 1-1 6,0 1-1 8,0 6-3 4,0 5-2 4,0 1-1 4,0 5-2 4,0 1-1 4,0 1-1 7-1 13-7 7-1 9-5 2-2 5-10 3-2 1-4z" fill="#9f9f9f"/>
<path d="M503,118l-4-24-5-4-4-2-3-3-4-2-12-9-7-1-1-1-4,0-1-1-4,0-1-1-4,0-1-1-4,0-1-1-4,0-1-1-4,0-1-1-43,0-4,2-3,0-7,3-3,0-7,3-3,0-7,3-6,1-3,2-2,0-3,2-2,0-3,2-2,0-3,2-2,0-3,2-2,0-3,2-2,0-3,2-2,0-3,2-10,3-3,2-2,0-3,2-5,1-3,2-5,1-6,3-4,0-1,1-33,1-1,1-12,1-1,1-3,0-1-1 1-4-2-1-2,0-1-1-2,0-1-1-2,0-1-1-2,0-1-1-2,0-1-1-2,0-22-8-3,0-7-3-3,0-7-3-3,0-7-3-3,0-33-13-49,0-24,16 8,24 10,2 1,1 3,0 1,1 3,0 1,1 3,0 1,1 3,0 1,1 3,0 1,1 2,0 1,1 2,0 1,1 2,0 1,1 2,0 1,1 2,0 1,1 2,0 1,1 2,0 1,1 2,0 1,1 2,0 22,8 4,0 1,1 5,0 1,1 5,0 1,1 5,0 1,1 5,0 1,1 5,0 1,1 5,0 1,1 9,1 1-1 3,0 7-3 3,0 7-3 3,0 1-1 8-2 6,10 6,0 1,1 11,0 1,1 11,0 1,1 11,0 1,1 11,0 1-1 5,2 12,1 1,1 5,0 1,1 6,0 1,1 5,0 1,1 18,1 1,1 9,0 1,1 9,0 1,1 47,0 1-1 6,0 1-1 6,0 1-1 6,0 1-1 6,0 1-1 6,0 1-1 6,0 1-1 6,0 1-1 8-1 7-3 3,0 7-3 3,0 1-1 14-4z" fill="#afafaf"/>
<path d="M503,118l-4-24-5-4-4-2-3-3-4-2-12-9-7-1-1-1-4,0-1-1-4,0-1-1-4,0-1-1-4,0-1-1-4,0-1-1-4,0-1-1-43,0-4,2-3,0-7,3-3,0-7,3-3,0-7,3-6,1-3,2-2,0-3,2-2,0-3,2-2,0-3,2-2,0-3,2-2,0-3,2-2,0-13,6-5,1-3,2-2,0-3,2-13,4-3,2-7,1-1,1-33,1-1,1-5,0-1,1-6,0-1,1-11,1-1-1 1-1-4-2-2,0-3-2-5-1-13-6-10-3-1,1-8,2-3,2-2,0-1,1-2,0-1,1-2,0-1,1-2,0-1,1-2,0-1,1-8,2-3,2-13,4 36,24 40-4 5-10 4,5 2,5 2,2 3,6 6,0 1,1 11,0 1,1 11,0 1,1 11,0 1,1 11,0 1-1 5,2 12,1 1,1 5,0 1,1 6,0 1,1 5,0 1,1 18,1 1,1 9,0 1,1 9,0 1,1 47,0 1-1 6,0 1-1 6,0 1-1 6,0 1-1 6,0 1-1 6,0 1-1 6,0 1-1 6,0 1-1 8-1 7-3 3,0 7-3 3,0 1-1 14-4z" fill="#bfbfbf"/>
<path d="M488,100l-12-13 0-1-6-5-3,0-1-1-3,0-1-1-3,0-1-1-3,0-1-1-3,0-1-1-3,0-5-2-44,2-1,1-4,0-1,1-4,0-1,1-4,0-1,1-4,0-1,1-4,0-1,1-4,0-1,1-8,1-1,1-5,1-3,2-2,0-1,1-14,4-3,2-11,3-7,4-2,0-5,3-2,0-7,4-2,0-6,3-16,20 8,12 10,1 1,1 5,0 1,1 6,0 1,1 6,0 1,1 5,0 1,1 39,1 1,1 24,0 1-1 25,0 1-1 14,0 1-1 3,0 1-1 3,0 1-1 3,0 1-1 3,0 1-1 3,0 1-1 15-3 25-16 2-5 0-5 1-1 0-5 1-1 0-5 1-1z" fill="#cfcfcf"/>
<path d="M449,107l-5-6-7-3-8-1-1-1-17,0-1,1-12,1-1,1-7,1-1,1-11,3-2,2-12,6-8,9 0,2-1,1 0,5 5,6 7,3 8,1 1,1 17,0 1-1 12-1 1-1 7-1 1-1 11-3 4-3 7-3 4-3 7-8 1-2z" fill="#dfdfdf"/>
<path d="M449,107l-5-6-7-3-8-1-1-1-17,0-1,1-12,1-1,1-7,1-1,1-11,3-2,2-12,6-8,9 0,2-1,1 0,5 5,6 7,3 8,1 1,1 17,0 1-1 12-1 1-1 7-1 1-1 11-3 4-3 7-3 4-3 7-8 1-2z" fill="#efefef"/>
<path d="M444,108l-5-4-6-1-1-1-4,0-1-1-15,0-1,1-12,1-1,1-3,0-1,1-3,0-1,1-8,2-12,6-8,7-2,4 0,3 5,4 6,1 1,1 4,0 1,1 15,0 1-1 12-1 1-1 7-1 1-1 11-3 2-2 7-3 8-7 2-3z" fill="#ffffff"/>
</g>
</g></g>
<path d="M0.3,0 V65.40 H158.70" fill="none" stroke="#000" stroke-width="0.6" opacity="0.8"/>
<path d="M0.00,65.70 v-1.6 M25.39,65.70 v-1.6 M50.78,65.70 v-1.6 M76.18,65.70 v-1.6 M101.57,65.70 v-1.6 M126.96,65.70 v-1.6 M152.35,65.70 v-1.6 M0,0.00 h1.6 M0,32.85 h1.6 M0,65.70 h1.6" stroke="#000" stroke-width="0.6" fill="none"/>
<text x="156.50" y="62.50" class="w" text-anchor="end" fill="#fff" font-size="12.8">60 ns</text>
</g>
<text x="37.40" y="241.80" text-anchor="end" font-size="12.3">5</text>
<text x="37.40" y="274.65" text-anchor="end" font-size="12.3">0</text>
<text x="37.40" y="307.50" text-anchor="end" font-size="12.3"><tspan dy="1.4">−</tspan><tspan dy="-1.4">5</tspan></text>
<text x="44.72" y="317.60" text-anchor="end" font-size="12.3"><tspan dy="1.4">−</tspan><tspan dy="-1.4">8</tspan></text>
<text x="70.11" y="317.60" text-anchor="end" font-size="12.3"><tspan dy="1.4">−</tspan><tspan dy="-1.4">6</tspan></text>
<text x="95.50" y="317.60" text-anchor="end" font-size="12.3"><tspan dy="1.4">−</tspan><tspan dy="-1.4">4</tspan></text>
<text x="120.90" y="317.60" text-anchor="end" font-size="12.3"><tspan dy="1.4">−</tspan><tspan dy="-1.4">2</tspan></text>
<text x="146.29" y="317.60" text-anchor="end" font-size="12.3">0</text>
<text x="171.68" y="317.60" text-anchor="end" font-size="12.3">2</text>
<text x="197.07" y="317.60" text-anchor="end" font-size="12.3">4</text>
<clipPath id="c1_2"><rect x="0" y="0" width="158.70" height="65.70"/></clipPath>
<g transform="translate(249.00,236.40)">
<g clip-path="url(#c1_2)"><g filter="url(#jet)">
<rect x="-5" y="-5" width="168.70" height="75.70" fill="#000"/>
<g transform="scale(0.25)" fill-rule="evenodd" filter="url(#fb)">
<path d="M175,196l4,2 2,0 0-2-1-1zM396,132l-1-2-9-5-7-6-2,0-1,1-6,0-1,1-2-2-9-4-2-2 0-2-1-1 0-5-3-4-6-1-1,1-4,0-8,3-5,0-1-1-3,0-5-3-2,0-2-2-5-2-5-5-16,0-3,2-5,1-8,4-4,0-1,1-3,0-5,2-10-4-7,0-8,4-6,0-1-1-7,1-3,2-5,10-4,4-3,1-4,3-6,6-1,2 0,11-2,2-5,0-1,1-5,0-1,1-2,0-4-4 0-1-4-3-3,0-1-1-7,1-4,2-6,6-1,2 0,11 3,6 1,8 2,3 3,11 3,3 5,1 6-7 2,0 7,4 1,5 2,2 5,2 4,3 6,1 7,8 20,1 4,3 7,3 1-1 4,0 1-1 1,1 1-1 1,1 3,0 11,9 3-1 4-5 3,0 1,1 2,0 1-1 2,1 5,0 8,3 7,0 1,1 15,0 1,1 15,0 3-2 8,0 1,1 4,0 2,2 0,2 3,4 3,2 5,0 5-3 2,0 5-3 2,0 0-4 2-3 2,0 1,1 4,0 2-1 4-4 2-4 1-5 6-9 1-5-7-10 3-8-1-21 2-5 4-4zM206,194l1-1 5,4-2,2-2,0-1,1-1-1z" fill="#101010"/>
<path d="M395,135l-1-2-4-3-2,0-1-1-5,0-1,1-10-8-2,0-2-2-9-4-3-3-4-2 0-3-4-4-6,0-4,2-9,0-1-1-12-1-14-10-5-1-7,4-9,2-5,3-21,0-1,1-4,0-1,1-4-2-2,1-5,0-1,1-12-1-4,3-3,7-3,1-4,4-4,2-10,21-2,2-3,0-3,2-5,0-1,1-2,0-1-1-5,0-7-6-5,0-3,2-6,7 0,7 3,3 4,2 0,3 1,1 0,11 1,2 4,2 4,0 1,1 2-1 6,3 6,5 5,0 1,2 3,2 7,0 1-1 2,0 3,3 2,0 3,4 4,3 4,1 3,2 5,1 3,2 5,1 3,2 5,1 3,2 8,1 1,1 4,0 1,1 4,0 1,1 3,0 1-1 1,1 9,0 1,1 3,0 3,2 9,0 1,1 30,1 4-2 9,0 1,1 3,0 1-1 1,1 2,0 2,2 0,2 3,3 5,0 5-4 0-4 3-5 14-6 2-4 0-2 2-3 0-2 1-2 2-1-1-1 2-4 0-2-1-1 0-7 1-1 0-21-1-1 0-5 2-5 4-5 2-4z" fill="#202020"/>
<path d="M390,136l-2-2-3,0-2-3-4-1-13-9-7-3-8-7-6-3-10-1-1-1-11,0-4-2-15-2-3-2-4-1-1,1-3,0-5,2-14,0-1,1-30,1-1,1-4,0-1,1-4,0-1,1-4,0-1-1-8,5-3,4-9,6-7,13 0,2-3,6-2,2-5,1-3,2-15,0-1-1-3,0-1,1-7,1 0,1 1,1 0,5 1,1 1,5 2,3 0,8 3,3 10,4 8,6 6,1 1,1 7,0 2,2 3,0 3,3 2,0 4,5 7,5 7,2 3,2 5,1 3,2 2,0 4,2 3,0 3,2 4,0 1,1 4,0 1,1 20,0 2,2 8,1 1,1 5,0 1,1 2,0 1-1 25,1 5-2 10,0 1,1 4-1 4,2 3,0 5-3 4-1 8-6 8-3 3-7 2-2 0-2 2-3 0-4 1-1-1-1 0-7 2-5-1-31 2-2 0-2z" fill="#303030"/>
<path d="M164,151l1,7 3,6 0,6 3,3 10,5 6,5 2,0 4,2 3,0 1,1 4,0 2,2 4,1 12,11 2,0 5,3 2,0 4,3 6,1 4,2 3,0 3,2 3,0 1,1 3,0 5,2 6,0 1,1 2,0 6-3 5,0 10,6 7,0 1,1 8,0 4-3 4,0 6,3 5,0 1-1 4,0 1-1 16,0 5,2 5-3 2,0 3-3 3-1 5-4 2,0 4-2 2-2 1-4 2-2 0-2 2-4 0-7-1-2 4-10 0-15-1-1 0-7-1-1 1-1 0-4 1-1-1-1 0-6-2-1 0-2-1-1-2,0-4-2-3-3-17-10-4-4-8-5-10,0-1-1-13-1-1-1-11-1-2-2-22,0-1,1-10,0-1,1-17,0-1,1-10,0-1,1-5,0-1,1-4,0-1,1-6,0-9,8-8,5-3,4-7,14-1,4-2,2-2,0-8,4-18,0z" fill="#404040"/>
<path d="M167,154l0,2 4,8 0,4 3,3 6,3 5,5 8,4 7,1 10,6 1-1 2,1 3,3 0,2 2,3 9,5 2,0 11,5 3,0 1,1 2,0 7,3 3,0 1,1 11,1 5-4 2,1 2-1 1,1 5,0 6,4 2,0 3,2 6,0 8-4 3,0 1-1 9,0 1,1 17,0 1,1 2,0 2,2 4,0 1,1 3,0 5-3 2,0 10-7 7-3 5-12 0-2-1-1 1-2-3-1-2-2 0-3 2-2 3,0 2-2 1-5 1-1 0-11-2-5 1-1 0-2-1-1 1-7-1-1 0-6-3-4-5-2-7-6-8-4-16-12-4,0-1-1-4,1-1-1-14-1-1-1-9-1-4-2-24,0-1,1-8,0-1,1-28,1-1,1-5,0-1,1-4,0-1,1-5,0-4,2 0,1-3,2-1,2-9,6-4,6-7,15-4,4-4,1-2,2-2,0-1,1-11,0-1,1-4,0zM194,158l1,1 0,12-3,3-6-1-4-5 1-3 6-6z" fill="#505050"/>
<path d="M181,154l-9,1-1,1 1,5 1,1 4-1 4-4zM202,139l0,2-1,1 0,5 4,6 0,4-4,7-1,9-5,8 4,2 2,0 4,3 9,0 2,1 4,4 2,7 3,3 10,5 12,0 2,2 2,0 2,2 2,0 2,2 3,0 1,1 3,0 7-4 2,0 1,1 10,0 1,1 3,0 5,3 7,0 3-2 11-1 1-1 2,1 1-1 6,0 1-1 2,0 1,1 14-1 7,6 4,0 3-2 2,0 10-7 7-3 4-11-6-6-1-2 0-4 3-4 2-1 5,0 1-2 1-8-1-1 0-6-1-1 0-19-3-4-4-2-2,0-3-2-5-1-8-4-3-3-3-7-8-5-3,0-1-1-12,0-1-1-6,0-1-1-4,0-1-1-7-1-1-1-26,0-1,1-6,0-9,6-7,0-1-1-2,0-3-3-2,0-1,1-1-1-3,0-1,1-4,0-1,1-10,1-4,2-5,5-1,6-2,4 0,4-2,4-3,2-3-3-1-3-1,0z" fill="#606060"/>
<path d="M224,114l-1,11-4,6 0,2-3,6-6,8 0,2-2,3 0,7-4,8 0,4-2,5 0,4 2,2 2,0 1,1 7,0 4,2 7,8 0,2 2,4 6,4 12,0 17,7 12-2 1,1 8,0 1,1 4,0 1,1 4,0 1,1 8,0 1-1 10-1 1-1 20-1 1-1 3,0 3-2 4,0 7,5 5,1 6-5 8-4 3-4 0-5-5-8 0-7 4-5 4-2 2,0 3-2 0-5-1-1 0-2-4-5 0-4 4-5 0-2-1-1 0-6-1-1-6,0-1-1-5-1-3-2-4-1-6-4-5-6-4-10-9-2-1,1-3,0-5,3-4,0-15-7-2-2-25,0-10,9-3,0-1,1-7,0-1,1-7,0-1,1-2,0-4-3-1-3-2-2-8,1-1,1-4,0z" fill="#707070"/>
<path d="M210,152l0,8-2,3-1,14 2,2 4,1 6,4 4,4 5,8 3,3 5,2 10,1 5,2 2,2 3,0 3,2 3,0 1,1 3,0 1-1 7,0 1,1 14,0 1,1 4,0 1,1 6,0 1-1 10-1 1-1 9,0 1-1 13-1 8-4 4,0 1-1 2,1 7,0 1-1 6-1 4-3 0-4-2-3-2-9 1-1 0-3 1-1 3-11-3-6 0-3-2-3 0-2 1-1 0-2-1-1 1-1 0-4-2-4-8-6-11-11-4-2-2,0-4-2-7,0-1-1-1,1-7-3-16-1-2-4-3-3-6,0-5,2-2,2-6,3-3,0-2,2-5,0-2,2-6,0-1,1-8,0-1,1-4-1-1,1-6,0-3-5-4,1-2,3 0,4-10,9 0,2-3,7z" fill="#808080"/>
<path d="M212,152l1,6-3,8 0,8 6,7 5,3 1,2 3,2 2,3 0,2 3,4 4,3 6,0 1,1 2,0 10,4 3,0 7,3 43,2 1-1 5,0 1-1 4,0 1-1 4,0 1-1 5,0 1-1 7-1 2-2 2,0 3-2 3,0 1-1 5-1 8-4 3-4 0-10 4-11 0-6-3-5 0-2-2-2 0-3 1-1-1-1 0-3 1-1-1-6-17-16-9-4-5,0-1-1-2,1-10-4-40-1-3,2-6,1-1,1-15,1-1,1-4,0-1,1-4,0-1,1-7,1-12,8-1,5-2,2-1,3-2,2z" fill="#8f8f8f"/>
<path d="M212,152l1,9 1,1 0,2-2,3 0,7 1,2 10,9 8,12 3,2 6,1 1,1 2,0 10,4 3,0 7,3 43,2 1-1 5,0 1-1 4,0 1-1 4,0 1-1 5,0 1-1 7-1 7-6 2,0 3-2 3,0 6-3 3-3 1-2 0-9 3-8-1-1 2-4-2-5 0-5-1-1 0-5-1-1-1-9-16-16-16-5-1-1-2,0-1-1-2,0-1-1-32,0-1-1-6,0-1,1-4,0-1,1-7,0-1,1-7,0-1,1-12,1-24,12z" fill="#9f9f9f"/>
<path d="M224,156l2,10 1,1 0,3 2,4 11,14 10,2 1,1 3,0 1,1 3,0 1,1 3,0 1,1 3,0 1,1 3,0 1,1 41,0 20-12 2-4 0-2 2-3 0-2 2-3 0-2 2-3-4-25-16-14-7,0-1-1-31-1-1,1-15,0-1,1-8,0-20,10z" fill="#afafaf"/>
<path d="M224,156l2,10 1,1 0,3 2,4 11,14 10,2 1,1 3,0 1,1 3,0 1,1 3,0 1,1 3,0 1,1 3,0 1,1 41,0 20-12 2-4 0-2 2-3 0-2 2-3 0-2 2-3-4-25-16-14-7,0-1-1-31-1-1,1-15,0-1,1-8,0-20,10z" fill="#bfbfbf"/>
<path d="M232,156l2,16 14,12 2,0 1,1 5,0 1,1 4,0 1,1 4,0 1,1 5,0 1,1 4,0 1,1 6,0 1-1 7,0 1-1 7,0 1-1 7,0 1-1 3,0 14-18-2-20-20-14-37,0-1,1-3,0-1,1-15,3-1,1-2,0z" fill="#cfcfcf"/>
<path d="M232,156l2,16 14,12 2,0 1,1 5,0 1,1 4,0 1,1 4,0 1,1 5,0 1,1 4,0 1,1 6,0 1-1 7,0 1-1 7,0 1-1 7,0 1-1 3,0 14-18-2-20-20-14-37,0-1,1-3,0-1,1-15,3-1,1-2,0z" fill="#dfdfdf"/>
<path d="M248,159l0,6 5,8 8,5 2,0 4,2 4,0 1,1 16,0 1-1 7-1 10-5 6-9 0-6-1-1 0-2-2-3-3-2 0-1-10-5-7-1-1-1-16,0-1,1-4,0-1,1-5,1-8,5-4,5 0,2z" fill="#efefef"/>
<path d="M253,160l0,4 3,5 6,4 2,0 4,2 4,0 1,1 14,0 1-1 7-1 3-2 2,0 7-8 0-4-2-4-1,0-4-4-2,0-6-3-4,0-1-1-14,0-1,1-4,0-1,1-5,1-6,4z" fill="#ffffff"/>
</g>
</g></g>
<path d="M0.3,0 V65.40 H158.70" fill="none" stroke="#000" stroke-width="0.6" opacity="0.8"/>
<path d="M0.00,65.70 v-1.6 M25.39,65.70 v-1.6 M50.78,65.70 v-1.6 M76.18,65.70 v-1.6 M101.57,65.70 v-1.6 M126.96,65.70 v-1.6 M152.35,65.70 v-1.6 M0,0.00 h1.6 M0,32.85 h1.6 M0,65.70 h1.6" stroke="#000" stroke-width="0.6" fill="none"/>
<text x="156.50" y="62.50" class="w" text-anchor="end" fill="#fff" font-size="12.8">60 ns</text>
</g>
<text x="245.10" y="241.80" text-anchor="end" font-size="12.3">5</text>
<text x="245.10" y="274.65" text-anchor="end" font-size="12.3">0</text>
<text x="245.10" y="307.50" text-anchor="end" font-size="12.3"><tspan dy="1.4">−</tspan><tspan dy="-1.4">5</tspan></text>
<text x="252.42" y="317.60" text-anchor="end" font-size="12.3"><tspan dy="1.4">−</tspan><tspan dy="-1.4">8</tspan></text>
<text x="277.81" y="317.60" text-anchor="end" font-size="12.3"><tspan dy="1.4">−</tspan><tspan dy="-1.4">6</tspan></text>
<text x="303.20" y="317.60" text-anchor="end" font-size="12.3"><tspan dy="1.4">−</tspan><tspan dy="-1.4">4</tspan></text>
<text x="328.60" y="317.60" text-anchor="end" font-size="12.3"><tspan dy="1.4">−</tspan><tspan dy="-1.4">2</tspan></text>
<text x="353.99" y="317.60" text-anchor="end" font-size="12.3">0</text>
<text x="379.38" y="317.60" text-anchor="end" font-size="12.3">2</text>
<text x="404.77" y="317.60" text-anchor="end" font-size="12.3">4</text>
<clipPath id="c0_3"><rect x="0" y="0" width="158.70" height="65.70"/></clipPath>
<g transform="translate(41.30,343.25)">
<g clip-path="url(#c0_3)"><g filter="url(#jet)">
<rect x="-5" y="-5" width="168.70" height="75.70" fill="#000"/>
<path d="M3.0,41.0 8.0,40.5 12.0,42.5 8.0,44.5 3.0,44.0Z" fill="rgb(51,51,51)" filter="url(#bl8)"/>
<ellipse cx="124.5" cy="6.8" rx="5.0" ry="1.6" transform="rotate(0.0 124.5 6.8)" fill="rgb(46,46,46)" filter="url(#bl8)"/>
<path d="M138.0,19.0 152.0,24.5 141.0,28.0Z" fill="rgb(51,51,51)" filter="url(#bl8)"/>
<g transform="scale(0.25)" fill-rule="evenodd" filter="url(#fb)">
<path d="M575,71l-3-2-9,0-3,2-3-3-2,0-2-2-2,0-4-4-2-3 0-2-2-2 5-6 7,2-4-4-4,2-5-5-7-5-5-1-11-5-4,0-9,9-7-1-1-1-4,0-1-1-7,0-4-2-10-2-3-5 0-4-1-2-2,0-1-1-8,0-5,6-2,0-1-2-6-5-10,0-2,1-2,4-6,6-4,0-7-6-3,0-1-1-5-1-4,3-2,0-4,2-3,0-1-1-6,3-5,1-3,2-8,2 1,2 0,4-3,4-2,0-1,1-4,0-10-5-5,2-1-1-5-1 0,2 2,3 0,4-2,3-2-1-7,0-10-4-3,0-5-3-1,1-2,0-4-2-3,0-2,1-3,4-5,1-1,1-3,0-1,1-4,0-4-2-10,0-5,2-2,2-6,0-3,2-3,0-1,1-8,0-3-2-3,0-3-2-9-2-4-5-2-8-8-1-1-1-5,0-1-1-17-2-4,6-1,0-4,4-3,0-1-1-6,0-5-3-1-2-2,0-7-6-3,0-1-1-9,0-2,1-3,4-2,0-1,1-1-1-5,0-5-2-5,0-2-3 0-2-3-3-7,0-4,2-5,5-1-1-9,0-8-7-8-2-5,2-6,8-2,1-1-1-3,0-5,4-3,1-3,3-4,2-3,0-6,3-12,12-2-2 0-2 2-3 0-6-2-1-4,4 0,7-5,5-13,3-2,4 0,4 3,6 0,8-2,5 0,12-1,1 0,3 1,2 5,2 1,9-1,1 0,10-6,5 0,2 6,7 0,4 1,1 0,4 1,1 14,0 5-2 6,0 6,3 2,6 3,3 12,0 7-3 1,1 7,0 1-1 2,0 6-5 7,1 3,3 0,2 4,7 3,2 6,0 1-1 11-2 5,3 0,5 1,2 2,1 6,0 4-2 11,6 3,0 3,2 4,0 2,2 4,0 2,2 0,2 2,3 4,0 3-2 2,0 9,7 4,0 5-4 9-5 16,0 3,2 4,0 1,1 13,0 4-3 9,0 1-1 4,0 1,1 20,0 6,5 4,2 7,1 1,1 3,0 5-4 6-3 5,0 1,1 7,0 1,1 5,0 1,1 4,0 1,1 4,0 1,1 1-1 3,0 1,1 4,0 1,2 14,2 1,1-1,1 0,2-5,6 0,1 2,1 15,0 2-4 7-7 27,0 1,1 2,0 7,6 4,2 8,0 4-4 0-3 2-5 2,0 1-1 5,0 2-2 4,1 1-1 9-1 8,9 3,0 2-1 0-1 6-6 2,0 6-3 3,0 1-1 11,0 5,2 5,0 7-3 3,0 20-19 4-3 2,0 0-1 2-1 4-8 6-4 1-2 3-2 7-14 7-6 2,0 4-2 0-8 5-11-1-7-1-1 1-11-3-5 0-6 2-4zM520,46l1-1 4,0 3,3-2,1zM517,45l1-1 2,0 1,1-1,1-2,0zM515,44l1-1 1,1-1,1zM508,42l1-1 1,1-1,1z" fill="#101010"/>
<path d="M517,37l0,2 3,0 1,1 4-2-1-3-5,0zM571,94l-6-5 0-7-2-1 1-6-2,0-9-6-2,0-7-7-2-5-3-4-2,0-4-2-1,1-1-1-8,0-1-1-3,0-1-1-2,0-3-3-4-1-2-2-4,0-1-1-4,0-1-1-8,0-1-1-4,0-7-3-3,0-3-2-9,0-1-1-16,0-3-6-3-2-8,7-5,0-1,1-11,0-1,1-7,0-3,2-5,0-6,4-2,0-3,2-5,1-3,2-2,0-10,4-3,0-10,4-7-1-4,4-5-2-1,1-2,0-1-1-1,1-7-1-15-6-9,0-1,1-3,0-2,2-6,3-20,0-1,1-6,0-1,1-9,1-2,2-14,0-3-2-15-4-2-2-4,0-1-1-4,0-1-1-4,0-1-1-5,0-1-1-5,0-1-1-6,0-1-1-13,0-1-1-6,0-1-1-3,0-2-2-4,0-1-1-7-1-3-4-4,0-2,2-6,0-1,1-3,0-1-1-1,1-4-2-9-1-2-2-5,0-3-2-4,2-5,0-1,1-1-1-10,0-1-1-2,0-3-3-4-2-5,0-3,3 0,2-1,1-3,0-2,2-7,0-4,2-7,6-6,3-7,2-9,10-5,3-2,0-3,3-6,1-1,1-7,0 0,39 3,7 0,16-1,1 0,16 1,1 0,5 3,0 1,1 8,0 1-1 6,0 1-1 2,1 4,0 6,3 2,2 1,3 3,2 5-1 5-6 8,0 2,2 4,0 1-1 2,0 1,1 6,0 1-1 1,1 3,0 5,2 4,0 1,1 0,4 4,3 7-2 9,5 2,0 2,2 10,5 3,0 5,3 10,3 3,2 4,0 2,2 5,0 4,2 19,1 2,2 3,0 1-1 9,0 1-1 39,1 1-1 6,0 1-1 38,2 5,3 7,0 3-2 4,0 1,1 2-1 5,0 1,1 7,0 1,1 10,0 1,1 5,0 1,1 4,0 1,1 4,0 1,1 8,1 2,2 8,1 1,1 11,0 1-1 5,0 1-1 12,0 1,1 11,0 1-1 1,1 5,0 4,4 4,2 3,0 2-2 1-5 1-1 7-1 2-2 5,0 1-1 4,0 1-1 10,0 1-1 2,1 2,0 1-1 13,0 1-1 3,0 1-1 5-1 10-5 2,0 4-2 3,0 1-1 6,3 4,0 10-5 7-7 6-2 5-4 5-8 4-4 1,0 4-5 1,0 5-10 3-3 1-4 2-1 1-5 2-2 1-4 5-6 2-4 0-6-1-1z" fill="#202020"/>
<path d="M-6,76l0,28 4,10 0,8-1,1 0,7 1,1 0,5-1,1 0,11 1,2 4,0 1,1 3,0 1-1 12,0 10,5 4,0 1,1 2-1 5,0 1-1 9,0 2,2 4,0 1-1 2,0 1,1 11,0 1,1 7,1 2,2 12,6 1-1 3,2 2,0 15,8 5,1 7,4 5,1 3,2 7,1 2,2 14,1 5,2 8,0 3,2 2-1 9,0 1-1 39,1 1-1 5,0 1-1 14,0 1,1 16,0 1,1 19,1 1,1 3,0 1-1 4,0 1,1 1-1 5,0 1,1 8,0 1,1 5-1 1,1 5,0 1,1 4,0 1,1 4,0 1,1 4,0 1,1 2-1 7,3 3,0 3,2 17,0 1-1 5,0 1-1 6,0 1,1 10,0 1,1 7-1 1,1 4,0 1,1 1-1 8,0 2-2 2,0 10-4 3,0 1-1 20-1 1-1 1,1 3,0 1-1 2,0 1,1 2-1 4,0 1-1 10-2 4-3 3,0 6-3 3,0 5-2 6,0 1-1 8-2 15-8 6-6 2-4 10-10 2-5 7-9 2-5 2-2 0-3 2-3 0-3 3-4 0-3 1-1 0-4-2-3 0-10-2-3-1-7-3-3 0-5-12-8-3-3-5-9-7-3-5,0-1-1-10-1-6-5-2,0-2-2-2,0-1-1-20-3-1-1-2,0-4-2-3,0-4-2-8,0-1-1-15,0-4-2-9,0-1,1-4,0-1,1-12,0-1,1-8,0-1,1-3,0-6,3-2,0-1,2-2,0-2,2-2,0-1,1-2,0-1,1-2,0-1,1-8,2-3,2-3,0-10,4-7,1-4,2-3,0-1-1-11,0-1-1-3,0-1-1-8-2-3-2-4,0-2-1-1,1-6,0-2,2-2,0-2,2-2,0-1,1-4,0-1,1-1-1-16,0-1,1-4,0-1,1-7,1-8,3-12-1-6-3-3,0-6-3-3,0-3-2-19-2-7-3-6,0-1-1-2,0-1,1-3,0-1-1-10,0-3-2-4,0-7-3-8-1-1-2-3,0-1,1-1-1-2,0-1,1-12,0-4-2-5,0-6-3-24,1-8-3-2,0-1,1-1-1-2,0-1,1-4,0-3,2-2,0-2,2-7,0-4,2-5,5-8,4-7,2-12,12-7,3-2,2-9,1-1,1 0,5z" fill="#303030"/>
<path d="M564,108l-2-3 0-9-2-3 0-3-2-3 0-2-3-4 0-2-13-12-3-6-3-3-5-1-1-1-6,0-1-1-4,3-4,0-3-2-2-3 0-3-9-5-4,0-1-1-4,0-5-2-4,0-1-1-3,0-3-2-3,0-5-2-7,0-1-1-2,0-1,1-6,0-1-1-5,0-5-2-8,0-1,1-4,0-1,1-21,1-1,1-5,1-3,2-2,0-2,2-4,2-5,1-3,2-3,0-3,2-8,2-3,2-10,2-1,1-3,0-4,2-18-1-1-1-11-3-3-2-9,0-13,6-5,0-1-1-2,1-1-1-11,0-1,1-4,0-7,3-3,0-1,2-3,2-10-1-6-3-3,0-3-2-3,0-6-3-3,0-5-2-17-2-1-1-10-1-1-1-8,0-1-1-4,1-1-1-6,0-2-2-4,0-5-2-4,0-3-2-3,0-1-1-8,0-1,1-2-1-1,1-3,0-1-1-4,0-4-2-6,0-3-2-3,0-1-1-8,0-1,1-14,0-4-2-10,0-10,5-6,0-4,2-5,5-8,4-7,2-11,11-9,6-10,2 0,33 3,7 0,17 1,1-1,17 1,1 17,0 12,6 22-1 1,1 8,0 1,1 15,1 18,9 10,3 9,5 7,2 9,5 5,1 3,2 4,0 4,2 6,0 1,1 8,0 4,2 7,0 1,1 11,0 1-1 6,0 1-1 11,1 1,1 20,0 1-1 4,0 1-1 18,0 1,1 15,0 1,1 6,0 1,1 12,0 1,1 2-1 13,0 1,1 14,0 1,1 13,1 1,1 10,1 1,1 3,0 3,2 9,1 1,1 8,0 1-1 4,0 1-1 17,0 1,1 6,0 1-1 2,0 1,1 4,0 2,1 1-1 9,0 2-2 7-1 2-2 10-1 1-1 9,0 1-1 20,0 1-1 7-1 7-4 3,0 7-4 9-1 1-1 3,0 4-2 6-1 14-7 5-5 2-3 0-2 9-8 4-8 9-13 4-10z" fill="#404040"/>
<path d="M561,108l-1-1-1-10-2-3 0-2-2,1-4,0-9-8-1-2-1-9-3-6 0-6-4-3-3,0-1-1-2,2-8,4-3,0-6-4-3-4-3-6 0-2-2,0-7-3-4,0-1-1-11-2-8-3-4,0-1-1-16,0-1-1-5,0-4-2-7,0-1,1-5,0-1,1-11,0-1,1-8,0-1,1-3,0-6,3-2,0-6,4-5,1-3,2-8,2-5,3-2,0-13,5-5,0-1,1-22,0-7-5-3,0-3-2-7,0-8,4 0,2-4,3-5-3-6,0-1-1-9,0-1,1-4,0-1,1-5,1-2,5-5,3-6-1-1-1-9-1-9-6-6-1-7-3-19-2-3-2-4,0-1-1-5,0-1-1-12,0-1,1-5,0-5-4-3,0-5-2-4,0-1-1-4,0-1-1-5,0-1-1-1,1 0,2-2,2-5,0-10-6-7-1-4-2-5,0-1-1-1,1-20,0-1-1-10,0-6,3-2,0-5,4-3,0-2,3-7,6-2,0-3,2-4,0-1,1-6,0-19,17-2,1-7,0 1,32 3,4 2,9 7,8 0,7-3,3-6,2 0,5-1,1 15,1 15,7 6,0 1-1 13,0 1,1 9,0 1,1 14,1 1,1 5,1 2,2 10,5 10,3 7,4 2,0 1,1 7,0 8,6 12,2 5,4 15,1 1,1 9,1 1,1 16-1 3-3 3,0 3,3 6,0 1,1 17,0 1-1 5,0 2-3 3-1 1,1 4,0 1,1 18,1 1,1 7,0 1,1 6,0 1,1 12,0 1,1 1-1 13,0 1,1 8,0 5-4 7,0 2,2 2,0 1,1 9,0 5-4 4,0 5,5 2,7 2,1 14,0 7-6 8,0 1,1 4,0 5,4 10,0 1,1 5-1 1,1 2,0 1-1 3,0 3-2 3,0 2-4 4-4 4-2 7,0 1,1 3,0 3,2 2,0 2,2 2,0 1-1 2,0 1,1 2,0 1-1 1,1 3,0 1-1 8,0 17-8 6-1 8-3 4,0 4-2 3,0 3-2 5-1 6-3 6-6 0-5 1-2 3-3 5-2 3-4 0-4-4-3 0-4 3-3 2,0 4,4 1,0 6-9 0-2 3-5 0-4 1-1z" fill="#505050"/>
<path d="M559,114l0-5-1-2-3-2-2,0-10-10 0-1-7-8-1-5-1-1 0-9-1-1 0-2-3-3-4,0-6,3-5,0-5-3-11-12-11-6-11-2-10-5-4,0-1,1-5,0-2,1-1-1-5-1-2-2-4,0-4-2-10,1-5,4-7,0-3-2-8,0-4,2-3,0-13,7-13,4-3,3-16,7-4-2-1,1-11,0-6,3-9,0-4-2-4-4-5-3-6,0-3,2 0,4-4,5-8,0-7-6-2,0-1-1-7,0-1,1-7,1-1,1-1,5-2,3-3,2-6,0-7-3-6,0-1-1-2,0-7-5-15-6-3,0-4,4 0,1-4,3-7-5-2-3-6-4-4,0-1-1-10,2-5,4-4,0-2-3-8-7-9,0-6,3-6,1-1-1-3,0-3-2-2,0-6-4-7-1-6-5-12,0-1,1-22-1-1,1-2,0-3,5-8,8-4,2-3,0-1,1-5,1-6,3-9,1-4,2-4,4-2,4 0,2 2,3 2,0 1,1 8,0 1-1 1,1-1,4-7,7-5,0-4-6-7-5-6,0 0,2-1,1 0,6 1,2 2,1 12,1 2,2-3,5-7,8 0,8 2,4 4,4 2,4 1,8 1,1 1,5 4,7 3,3 8,3 2,0 1-1 16,0 1,1 5,0 3-2 2,0 4-2 7,0 1-1 6,3 5,0 5,2 1,1-1,8 6,3 11,1 1,1 13,0 7,6 4,2 2,0 1,1 5,0 7,4 14,1 8,6 2,0 1,1 6,0 2-2 0-8 1-1 10,0 13,11 14,0 2-3 1-4 2-2 5-2 11,6 17-1 10,6 5,0 1,1 15,0 6-5 3,0 3,2 5,0 4-2 4-4 1,1 5,0 8,6 6-1 2-2 2,0 1-1 5,0 1,1 5,1 9,10 4,0 3-4 4-3 5,0 1,1 20,0 1,1 3,0 5,2 2,2 0,3 6,0 6-10 5-4 6-1 1-1 4,0 1-1 4,0 1-1 3,0 7,5 5,5 4,0 1,1 1-1 8,0 8-4 2,0 2-2 2,0 8-5 7,0 1-1 3,0 1-1 6-1 6-3 3,0 7-3 4-4 1-9 3-5-2-10 1-1 0-2 7-9 0-2 1-1 0-5 1-1 0-3-1-1 3-4 2,0 3,4 0,4 1,1 1,5 2,3 1,0 4-8 0-5z" fill="#606060"/>
<path d="M538,96l-4-8-4-5 0-9-1-1 0-2-5-1-1,1-5,1-8-4-7-6-7-3-8-7-4-2-8-1-1-1-5,0-1-1-6,3-2-1-7,0-5-5-10-5-4,0-2,2-8,4-7,1-1,1-3-1-5-4-9,0-4,2-6,6-8,4-8,9-4,2-6,0-1,1-2,0-9,6-5-1-4-4-5,0-3,2-5,1-4-2-10-2-5-4-2,0-1-1-3,4-6,5-12,0-1-1-2,0-6-8-5-1-1,1-3,0-3,4 0,7-2,2-3,0-1,1-8,0-11-4-7,0-4-2-3-3-4-2-4,0-1-1-1,1-2,0-5,6-9,0-6-3-4,0-1-1-1,1-1-1-7-1-2-2-5-2-2,1-2-1-2,0-1,1-5-1-4-2-3-4-3-2-6,0-4,2-10,0-1-1-3,0-13-5-3,0-12-6-11,0-7,3-2,3-6,5-5,0-2-2-3,0-8,6-10,1-10,5-10,2-2,2 0,2 2,2 8,0 2,2 0,6-9,10-3,7-6,5-2,0-4,4 0,6 1,2 8,7 0,10 1,1 0,3 1,1 1,5 4,7 3,2 9,0 4-3 7,0 7-4 16,1 1,1 5,1 3,2 3,0 1,1 5,1 7,6 0,3 2,2 2,0 1,1 5,0 1,1 10,0 1,1 3,0 13,6 6,1 11,4 12,0 1,1 4,0 1-1 7,0 1-1 11,0 1,1 7,1 8,6 3,0 5-6 6,0 1-1 13,0 6,3 6,0 1-1 7,0 1-1 2,0 1,1 4,0 5,5 8,3 5,0 8-6 2,0 1-1 6,0 5,2 4,0 1-1 4,0 3-2 1,1 5,0 7,4 10-1 1-1 5,0 3,2 3,0 8,3 4,0 1-1 13,0 1,1 19-1 1,1 4,0 1,1 7,0 1-1 2,0 3-3 2,0 2-2 6,0 5-2 4,0 1-1 4,0 1-1 5,0 1-1 5,2 1,2 9,8 6,0 1-1 3,0 1-1 5-1 0-1 10-10 2-4 0-2 3-3 17-5 2,2 1,3 5,4 5,0 4-2 1-2 0-4 1-1 0-5 1-1 0-14 5-9 2-2 0-2 1-1 0-10-1-1 0-2 1-1 0-6 1-1z" fill="#707070"/>
<path d="M535,96l-2-3 0-2-8-12-3-3-2,0-2-2-8-4-6-5-6-3-2,0-17-9-2,0-4-2-8,0-1,1-10-1-3-2-5-1-4-3-16,1-1,1-4,0-4,2-8,0-4-3-4,0-8,7-5,2-12,9-6,3-6,1-13,7-3,0-1-1-17,0-3-2-7-1-4-2-7,0-8,3-17,1-5,2-11,0-5,2-11,0-8-3-15,0-6-5-4,0-2,2-2,0-1,1-5,0-1,1-1-1-2,0-1,1-1-1-3,0-1-1-3,0-5-2-4,0-1-1-2,0-1,1-1-2-5-1-3-2-9,0-12-6-3,0-1-1-20-1-3-2-15-1-8-5-2,0-4-2-5,0-5,2-5,5-8,4-3,0-1,1-8,0-7,3-8,1-4,2-3,6 0,8-1,1 1,1-1,2-2,1 0,1-7,7 0,2-3,6-4,4-1,4 5,3 2,5 0,3 1,1 0,7-1,1 0,2-2,2 0,7 4,8 5,1 3-3 0-2 2-4 5,0 4,2 14,1 1,1 5,0 1,1 7,0 1,1 2,0 2,2 3,0 3,2 7,2 3,4 7,5 2,0 4,2 4,0 1,1 7,0 8,4 11,3 3,2 2,0 4,2 5,0 1,1 13,0 1-1 6,0 1-1 9,0 1,1 5,0 1,1 3,0 5,2 7,0 5-2 8,0 1-1 10,0 5,2 26,0 1,1 10,1 1,1 5,0 1-1 3,0 1,1 2-1 13,0 1,1 6,0 5-3 2,0 1,1 5,0 6,4 15-2 11,4 20,0 1,1 15,0 1-1 7,1 1-1 1,1 8,0 1-1 5-1 4-3 2,0 1-1 13-1 1-1 3,0 1-2 4,0 1-1 1,1 7,1 4,2 4,5 4,2 6,0 12-11 1-3 6-6 8-4 2,0 10-4 8,0 3,3 3,0 0-2 2-4 0-3 1-1 0-6 1-1 0-2 4-6 4-9 0-8-1-1 0-7-1-1 0-2 2-3z" fill="#808080"/>
<path d="M267,174l10,1 1,1 6,0 1-1 4,1-2-1-16,0-1-1zM197,173l3,0 1,1 9,0 1-1 4,0zM145,168l6,3 4,0 1,1zM102,154l5,4 13,3zM533,118l-1-1-1-8-1-1 0-5 2-4-2-4 0-3-8-12-8-6-7-4-3-3-6-3-5-1-14-8-2,0-4-2-9,0-1,1-10-1-4-3-3,0-3-2-6,0-1-1-2,1-12,0-7,3-10,0-1,1-11,3-6,3-11,8-6,3-6,1-13,7-3,0-1-1-6,0-1,1-6-1-1,1-2,0-8-4-3,0-4-2-6,0-1,1-4,0-3,2-7,0-3,2-22,1-1,2-17,0-3-2-7-1-1-1-2,1-13,0-3-2-16,1-1-1-3,0-1-1-3,0-1-1-3,0-1-1-3,0-1-1-3,0-1-1-3,0-5-2-4,0-1-1-14-2-2-2-2,0-2-2-3,0-1-1-3,0-1,1-1-1-5,0-1-1-7,0-4-2-5,0-1-1-10,0-5-3-4,0-1-1-4,0-1-1-1,1-3,0-3,2-2,0-3,2-2,0-3,2-2,0-6,4-11,0-1,1-3,0-1,1-3,0-5,2-3,3 0,8-3,2-2,3 0,2-7,19 1,6 2,4 0,3 2,4 0,3 2,4 0,2-1,1-1-1-1-4-3-5 1,1-1,12 2,3 2,1 2-1 1,1 4-1 7,3 13,2-2,0-7-3-3,0-7-3-3,0-3-2 1-1 2,0 1,1 4,0 1,1 4,0 1,1 4,0 1,1 4,0 1,1 4,0 1,1 4,0 1,1 8,1 3,2 2,0 3,2 2,0 3,2 2,0 3,2 2,0 3,2 2,0 13,6 6,1 7,3 3,0 1,1 2,0 4,2 3,0 7,3 3,0 4,2 86,0 1,1 9,0 1,1 19,1 1,1 7,0 1,1 7,0 1,1 7,0 1,1 7,0 1,1 18,1 3,2 7-1 1,1 9,0 1,1 5,0 1,1 20,0 1,1 23,0 1-1 2,1 8,0 8-3 1-2 16-1 1-1 4,0 1-1 4,0 1-1 4,0 1-1 3,0 6,3 10,1 12-6 8-8 1,0 1-2 2,0 13-6 5,0 1-1 1,1 8-3 4-6 0-2 3-7 5-7 0-3 1-1 0-4-1-1zM38,130l1-1 1,1-1,1z" fill="#8f8f8f"/>
<path d="M106,155l2,2 2,0 4,2zM531,124l0-4-1-1 0-4-1-1 2-15-6-7 0-2-5-8-8-7-10-7-8-3-3,0-8-6-6-3-2,0-1-1-6,0-1-1-7,0-1-1-13-1-3-2-6,0-1-1-4,0-1,1-9-1-1,1-2,0-4,2-3,0-4,2-2-1-1,1-3,0-4,2-6,1-5,3-1,2-22,11-2,0-10,6-15-1-1-1-9,0-11-4-10,1-2,2-22,1-1,1-11,0-1,1-22,0-4-2-6,0-1,1-12,0-1,1-1-2-3,1-1-1-3,0-1-1-3,0-1-1-3,0-1-1-3,0-1-1-3,0-1-1-3,0-1-1-3,0-1-1-3,0-1-1-3,0-5-2-4,0-1-1-4,0-1-1-4,0-1-1-4,0-1-1-4,0-1-1-4,0-1-1-4,0-1-1-4,0-1-1-11,0-2-2-15,0-4-3-3,0-1-1-7,0-1,1-5,1-3,2-3,0-3,2-2,0-1,2-10,1-6,3-4-1-1,1-6,1-3,3 0,5-7,5-5,16-1,1 0,2-1,1 0,2-1,1 1,6 2,4 0,3 2,4 0,3 2,4 0,3-1,1 1,3 1,0-1-1 1-1 2,0 1,1 4,0 1,1 4,0 1,1 4,0 1,1 4,0 1,1 4,0 1,1 4,0 1,1 8,1 3,2 2,0 3,2 2,0 3,2 2,0 3,2 2,0 3,2 2,0 13,6 6,1 7,3 3,0 1,1 2,0 4,2 3,0 7,3 3,0 4,2 86,0 1,1 9,0 1,1 19,1 1,1 7,0 1,1 7,0 1,1 7,0 1,1 7,0 1,1 8,0 1,1 9,0 1,1 19,1 1,1 29,0 1,1 6,0 1-1 12,0 1-1 2,0 1,1 8,0 1-1 7-1 1-1 16-1 1-1 4,0 1-1 4,0 1-1 4,0 1-1 4,0 1-1 3,0 5,2 6,0 10-4 7-7 2,0 3-2 2,0 3-2 2,0 3-2 7-2 12-6 6-12 4-5 1-5zM38,130l1-1 1,1-1,1z" fill="#9f9f9f"/>
<path d="M495,127l0-32-24-24-7-1-1-1-4,0-1-1-4,0-1-1-4,0-1-1-4,0-1-1-4,0-1-1-4,0-1-1-4,0-1,1-4,0-1,1-4,0-1,1-4,0-1,1-4,0-1,1-4,0-1,1-4,0-1,1-8,1-3,2-2,0-3,2-2,0-3,2-2,0-3,2-2,0-3,2-2,0-13,6-44,0-1,1-5,0-1,1-5,0-1,1-5,0-1,1-5,0-1,1-5,0-1,1-17,2-1,1-3,0-14,14-1-1-1-5-4-2-2,0-3-2-2,0-3-2-2,0-3-2-2,0-3-2-2,0-3-2-2,0-3-2-2,0-3-2-9-1-1-1-5,0-1-1-5,0-1-1-5,0-1-1-5,0-1-1-5,0-1-1-5,0-1-1-4,0-1-1-3,0-1-1-3,0-1-1-3,0-1-1-3,0-1-1-3,0-1-1-3,0-1-1-3,0-1-1-3,0-5-2-42,2-24,16 0,20 26,13 2,0 1,1 2,0 1,1 2,0 1,1 2,0 1,1 2,0 1,1 2,0 1,1 2,0 1,1 2,0 22,8 3,0 1,1 3,0 1,1 3,0 1,1 3,0 1,1 3,0 1,1 3,0 1,1 3,0 1,1 3,0 1,1 3,0 1,1 3,0 1,1 3,0 5,2 50,0 6-3 5-1 3-2 2,0 7-3 4,7 0,2 4,8 4,0 1,1 8,0 1,1 8,0 1,1 8,0 1,1 8,0 1,1 8,0 1,1 8,0 1,1 34,1 1,1 19,0 1,1 19,0 1,1 14,0 1-1 9,0 1-1 9,0 1-1 15-1 1-1 3,0 7-3 3,0 7-3 3,0 1-1 14-4z" fill="#afafaf"/>
<path d="M132,116l20,24 36,0 12-20-16-20-32,0zM76,92l0,4 5,6 3,2 6,1 1,1 10,0 1-1 3,0 3-2 2,0 6-7 0-4-1-2-5-5-2,0-3-2-3,0-1-1-10,0-1,1-6,1-3,2zM495,95l-24-24-7-1-1-1-4,0-1-1-4,0-1-1-4,0-1-1-4,0-1-1-4,0-1-1-4,0-1-1-4,0-1,1-4,0-1,1-4,0-1,1-4,0-1,1-4,0-1,1-4,0-1,1-4,0-1,1-8,1-3,2-2,0-3,2-2,0-3,2-2,0-3,2-2,0-3,2-2,0-13,6-44,0-1,1-5,0-1,1-5,0-1,1-5,0-1,1-5,0-1,1-5,0-1,1-5,0-1,1-5,0-1,1-9,1-24,24 0,1 4,7 0,2 4,7 0,2 4,7 0,2 4,8 4,0 1,1 8,0 1,1 8,0 1,1 8,0 1,1 8,0 1,1 8,0 1,1 8,0 1,1 14,0 1,1 19,0 1,1 19,0 1,1 34,1 1-1 9,0 1-1 9,0 1-1 15-1 1-1 3,0 7-3 3,0 7-3 3,0 1-1 14-4 24-24z" fill="#bfbfbf"/>
<path d="M132,116l20,24 36,0 12-20-16-20-32,0zM479,103l-40-24-49,0-5,3-7,2-17,8-11,1-1,1-6,0-1,1-6,0-1,1-6,0-1,1-6,0-1,1-6,0-1,1-6,0-1,1-7,0-1,1-7,0-1,1-7,0-1,1-7,0-1,1-3,0-21,18-1,0-2,3 1,1 0,2 1,1 0,2 1,1 5,16 9,0 1,1 17,0 1,1 17,0 1,1 19,0 1,1 19,0 1,1 19,0 1,1 34,1 1-1 9,0 1-1 9,0 1-1 15-1 3-2 2,0 3-2 2,0 3-2 2,0 3-2 2,0 3-2 2,0 3-2 2,0 3-2 2,0 4-2z" fill="#cfcfcf"/>
<path d="M153,115l0,2-1,1 1,7 6,5 5,2 8,0 1-1 2,0 4-2 4-4 0-2 1-1-1-7-4-4-7-3-8,0-1,1-2,0zM455,106l-6-6-6-3-2,0-4-2-3,0-1-1-12-1-1-1-35,0-1,1-10,0-1,1-6,0-1,1-11,1-1,1-8,1-8,3-7,1-25,10-2,2-6,3-7,7-2,3 0,7 6,6 6,3 2,0 4,2 3,0 1,1 12,1 1,1 35,0 1-1 9,0 1-1 7,0 1-1 11-1 5-2 4,0 1-1 11-2 3-2 3,0 1-1 8-2 9-5 4-1 2-2 6-3 8-8 1-2z" fill="#dfdfdf"/>
<path d="M455,106l-6-6-6-3-2,0-4-2-3,0-1-1-12-1-1-1-35,0-1,1-10,0-1,1-6,0-1,1-11,1-1,1-8,1-8,3-7,1-25,10-2,2-6,3-7,7-2,3 0,7 6,6 6,3 2,0 4,2 3,0 1,1 12,1 1,1 35,0 1-1 9,0 1-1 7,0 1-1 11-1 5-2 4,0 1-1 11-2 3-2 3,0 1-1 8-2 9-5 4-1 2-2 6-3 8-8 1-2z" fill="#efefef"/>
<path d="M450,108l-4-4-4-2-2,0-4-2-3,0-1-1-12-1-1-1-33,0-1,1-17,1-1,1-11,1-1,1-8,1-8,3-7,1-1,1-8,2-3,2-2,0-5,3-2,0-10,6-6,6-1,5 4,4 4,2 2,0 4,2 3,0 1,1 12,1 1,1 33,0 1-1 17-1 1-1 5,0 1-1 5,0 5-2 4,0 1-1 11-2 3-2 3,0 1-1 8-2 9-5 2,0 2-2 6-3 7-7z" fill="#ffffff"/>
</g>
</g></g>
<path d="M0.3,0 V65.40 H158.70" fill="none" stroke="#000" stroke-width="0.6" opacity="0.8"/>
<path d="M0.00,65.70 v-1.6 M25.39,65.70 v-1.6 M50.78,65.70 v-1.6 M76.18,65.70 v-1.6 M101.57,65.70 v-1.6 M126.96,65.70 v-1.6 M152.35,65.70 v-1.6 M0,0.00 h1.6 M0,32.85 h1.6 M0,65.70 h1.6" stroke="#000" stroke-width="0.6" fill="none"/>
<text x="156.50" y="62.50" class="w" text-anchor="end" fill="#fff" font-size="12.8">80 ns</text>
</g>
<text x="37.40" y="348.65" text-anchor="end" font-size="12.3">5</text>
<text x="37.40" y="381.50" text-anchor="end" font-size="12.3">0</text>
<text x="37.40" y="414.35" text-anchor="end" font-size="12.3"><tspan dy="1.4">−</tspan><tspan dy="-1.4">5</tspan></text>
<text x="44.72" y="424.45" text-anchor="end" font-size="12.3"><tspan dy="1.4">−</tspan><tspan dy="-1.4">8</tspan></text>
<text x="70.11" y="424.45" text-anchor="end" font-size="12.3"><tspan dy="1.4">−</tspan><tspan dy="-1.4">6</tspan></text>
<text x="95.50" y="424.45" text-anchor="end" font-size="12.3"><tspan dy="1.4">−</tspan><tspan dy="-1.4">4</tspan></text>
<text x="120.90" y="424.45" text-anchor="end" font-size="12.3"><tspan dy="1.4">−</tspan><tspan dy="-1.4">2</tspan></text>
<text x="146.29" y="424.45" text-anchor="end" font-size="12.3">0</text>
<text x="171.68" y="424.45" text-anchor="end" font-size="12.3">2</text>
<text x="197.07" y="424.45" text-anchor="end" font-size="12.3">4</text>
<clipPath id="c1_3"><rect x="0" y="0" width="158.70" height="65.70"/></clipPath>
<g transform="translate(249.00,343.25)">
<g clip-path="url(#c1_3)"><g filter="url(#jet)">
<rect x="-5" y="-5" width="168.70" height="75.70" fill="#000"/>
<ellipse cx="33.5" cy="38.8" rx="1.8" ry="1.1" transform="rotate(0.0 33.5 38.8)" fill="rgb(46,46,46)" filter="url(#bl7)"/>
<g transform="scale(0.25)" fill-rule="evenodd" filter="url(#fb)">
<path d="M396,132l-1-1-1-5-3-3-2,0-4,4-4,0-13-11-6-3-2,0-13-6-7,0-1-2-4,0-1-2 2-4 0-5-6-1-4,7-4,0-4-5-5,0-1-1-10,0-5-2-5,0-6,5-5,2-14,0-4,2-7,0-2-1-1,1-8,1-2,1-5,6-3,0-1,1-5,0-2-2-7-3-6,0-2,1-2,4 0,5 3,4-6,5-6,12 0,2-2,1 0,3-1,1-10,2-1,1-6,0-1,1-3-1-4,2-2-1-1,2-4,1 0,1-3,2-1,4-2,3 0,2-2,2 0,5 2,3 0,4 4,2 2,0 10,6 3,0 6,3 5,0 2,2 7,0 7,8 1,0 10,9 2,0 1,1 8,0 1-1 3,2 5,1 2,4 0,9 8,1 0-2 2-4 4-4 1,0 1,1 3,0 5,2 6,0 1,1 0,2 4,4 2,0 1,1 3,0 5-3 6,0 5,4 0,6 17,0 2-2 7-3 9-6 12-1 10-4 9-1 14,7 6-3-4-7 0-7 4-5 5-1 5-4 0-5-2-5-2-2 0-12 6-6 3-6 0-3-2-3-4-4-2,0-3-3-1-7 2-2 7-1z" fill="#101010"/>
<path d="M392,155l-4-3-3-4-2-15-3-4-13-12-7-2-2-2-9-4-10-1-2-2-3,0-5-2-9,0-1-1-2,0-7-6-16-1-6,4-2,0-4,2-10,0-4,2-7,0-1,1-5-1-1,1-11,2-1,1-2,0-2,2-3,0-1,1-7,0-2,1-5-4-4,0-2,2 0,2 3,5-2,1-8,9-2,5-5,7-1,4-3,2-2,0-7,3-3,0-1,1-8,0-5,2-4,4-1,0-1,2 0,2-3,6 0,5 2,4 9,4 4,3 5,1 3,2 4,0 6,3 8,1 1,2 3,0 3,3 1,3 4,4 3,2 4,0 1-1 10,7 10,2 1,1 3,0 1,1 3,0 1,1 7,0 5,2 4,0 3,2 9,0 1,1 16,1 3,2 1,4 3,4 6,0 8-4 7-5 7,0 1-1 4,0 1-1 8-1 8-3 11-1 3-2 2,0 7-3 1-5 2-3 4-3 1-3 1-1 2,0 1-2 0-7-1-1 0-4-1-1 0-6 1-1 1-5 4-6z" fill="#202020"/>
<path d="M388,157l-1-1 0-3-4-6-2-14-5-5 0-1-9-8-6-3-2,0-8-5-4,0-4-2-4,0-3-2-5,0-3-2-8,0-3-2-5,0-3-3-4,0-1-1-8,0-8,4-17,0-3,2-4,0-1,1-8,0-1,1-2-1-1,1-10,2-6,3-4,0-1,1-1-1-2,1-2,0-1-1-6,4 0,2-10,10-3,6-2,2 0,2-5,7-3,2-2,0-3,2-2,0-4,2-9,1-5,3-3,3 0,2-3,7 0,3 2,3 2,0 12,7 2,0 4,2 4,0 5,3 6,1 6,3 2,4 12,8 4,1 2,2 2,0 4,3 8,2 2,2 3,0 1,1 1-1 2,0 1,1 4,0 1,1 2-1 8,3 4,0 4,2 5,0 1,1 9-1 5,2 11,1 2,2 4,1 5-3 9,0 1-1 10-1 1-1 11-2 8-3 4,0 1-1 2,1 3-2 3,0 4-2 2-2 0-2 2-4 6-6 0-1 2-1 2-4-3-14 1-1 1-6 2-3z" fill="#303030"/>
<path d="M387,158l-3-7-2-2 0-2-2-4 0-7-2-4-12-12-6-3-2,0-8-5-11-1-2-2-2,0-1-1-4,0-5-2-6,0-3-2-3,0-4-2-16,0-1,1-5,0-1,1-14,0-3,2-3,0-1,1-17,1-1,1-3,0-5,3-3,0-5,2-8,0-15,16-7,14-2,2-11,6-10,2-8,6 0,4-1,1-1,5 12,7 2,0 5,3 4,0 7,4 5,1 3,2 4,5 8,6 2,0 2,2 7,3 2,2 7,2 2,2 3,0 5,2 2-1 1,1 4,0 1,1 5,0 4,2 5,0 3,2 17,1 1,1 8,0 1,1 4,0 1,1 12,0 1-1 14-1 1-1 7-1 6-3 5,0 1-1 3,0 5-2 4,0 7-3 3-3 0-2 2-2 1-3 3-2 5-7 0-4-2-4 0-9 4-9z" fill="#404040"/>
<path d="M385,158l-2-5-3-4-2-14-10-11-6,0-5-2-3-3-2-4-2-1-5,2-5,4-3,0-4-6-1-5-8-1-1-1-4,0-3-2-4,0-4-2-15,0-1,1-5,0-1,1-13,0-7,3-17,1-1,1-6,1-6,3-11,1-2,1-4,5 3,5 0,4-5,5-10,0-2,2 0,2-2,2-1,3-12,13-2,1-10,0-4,5-2,5 9,6 4,0 14,6 8,6 6,7 9,6 2,0 7,5 2,0 7,4 3,0 5,2 14,0 10,5 18,1 1,1 9,0 5,2 13,0 1-1 7,0 1-1 5,0 1-1 2,0 11-8 16,1 9-4 5-9 7-8 0-5-1-1 0-2-3-3 0-2 3-4 0-2 2-3 0-2 1-1z" fill="#505050"/>
<path d="M191,166l2,2 1,3 4,4 7,3 5,4 2,4-1,3 5,5 6,3 5-3 8,4 10,9 5,0 1-1 3,1 1-1 3,0 1,1 7,1 9,6 15,1 1,1 8,0 1,1 4,0 1,1 14,0 1-1 7,0 5-2 5-5 4-6 3,0 5-2 1,1 8,0 5,3 2,0 5-3-1-6 4-4 5-1 3-4 0-4-2,0-4-2-3-3 0-2 2-4 8-7 2-7-3-6-7-1-3-3 0-6 2-3 0-3-2-3-4-2-2,0-5-3-10-3-3-2-4,0-1-1-1,1-7-3-9-11-2,0-2-2-2,0-3-2-4,0-4-2-14,0-1,1-7,0-1,1-10,0-1,1-3,0-2,1 0,1-4,4-2,0-1,1-6,0-4-2-7,0-10,7-3,0-3-2-5,0-1,2 4,6 0,3-12,11-4,0-1,1-2,0-2,2-1,4-8,9-3,5-1,4z" fill="#606060"/>
<path d="M202,156l-1,5 2,5 2,2 0,2 2,4 4,4 4,2 5,5 4,2 14,12 4,2 4,0 4,2 5,0 1,1 14,2 8,4 3,0 11,4 9,1 3,2 15,0 8-4 3-3 2-4 4-2 2,0 3-2 9-1 4-3 4-1 2-2 2-8 2-2 1-6 1-1 0-4 11-9 4-2 1-2-2-4-10,1-3,2-1-1 0-18-1-2-9-9-4-2-2,0-3-2-4,0-1-1-2,1-1-1-2,0-2-2-2,0-1-2-4-2-14-12-3,0-4-2-13,0-1,1-12,1-3,3 0,3-1,1-4,1-3,2-4,0-5,2-7,0-4-2-4,0-2,1 0,1-6,6-8,3-8,7-1,0-1,2-2,1 0,1-9,8-1,3z" fill="#707070"/>
<path d="M213,146l-2,5-3,4 0,8 4,10 7,9 5,3 16,14 2,0 1,1 10,1 1,1 8,1 1,1 8,1 1,1 4,0 1,1 12,1 6,3 7,0 1,1 11,1 11-6 2,0 2-2 2,0 2-2 5-1 3-2 6,0 6-3 5-5 5-12 0-8 1-1 0-5-1-1 0-21-4-8-7-6-2,0-3-2-5,0-1-1-2,0-5-3-2,0-4-4-7-2-14-12-12,0-1,1-3,0-3,2 0,2 12,0 2,1 4,4-6,4-1-1-6,0-5-2-4,0-1,1-19,1-5,2-13,0-9,7-8,3-3,2-1,2-3,1z" fill="#808080"/>
<path d="M361,144l-4-7-5-5-11-5-2,0-5-3-7-2-3-2-3,0-2-2-7-1-1,1-3,0-5,3-4,0-1-1-14,0-1,1-1-1-9,0-1,1-9,0-1,1-4,0-5,2-1-1-6,0-3,2-1,2-20,9-4,8-2,1-4,8-2,2 0,3 1,1 0,5 1,1 2,8 2,3 1,0 7,8 1,0 15,14 2,0 1,1 5,0 1,1 5,0 5,2 10,1 3,2 5,0 1,1 18,1 1,1 19,0 1-1 5,0 2-2 2,0 2-2 2,0 1-1 15-3 6-4 4-4 4-11 0-23 1-1z" fill="#8f8f8f"/>
<path d="M359,146l-1-1 0-2-4-5-2-6-11-5-2,0-5-3-2,0-3-2-6,0-7-3-4,0-4,2-24-1-1,1-9,0-1,1-9,0-1,1-16,1-11,6-2,0-12,6-10,19 0,2 3,7 0,5 1,1 0,2 2,2 2,6 20,18 2,0 1,1 5,0 1,1 5,0 1,1 5,0 1,1 4,0 1,1 5,0 1,1 5,0 1,1 12,0 1,1 20,1 1-1 7,0 4-2 3,0 1-1 3,0 1-1 15-3 3-2 11-17 0-25-2-4 1-1z" fill="#9f9f9f"/>
<path d="M222,159l2,17 12,14 11,4 3,0 13,5 43,0 5-2 4,0 1-1 4,0 5-2 8-1 4-2 4-9 2-2 4-8-3-24-16-16-5,0-1-1-20-1-1-1-46,1-5,3-2,0-3,2-2,0-5,3-2,0-4,2z" fill="#afafaf"/>
<path d="M222,159l2,17 12,14 11,4 3,0 13,5 43,0 5-2 4,0 1-1 4,0 5-2 8-1 4-2 4-9 2-2 4-8-3-24-16-16-5,0-1-1-20-1-1-1-46,1-5,3-2,0-3,2-2,0-5,3-2,0-4,2z" fill="#bfbfbf"/>
<path d="M230,164l6,20 4,1 3,2 5,1 3,2 5,1 3,2 42,0 10-4 3,0 1-1 13-4 2-4 0-2 2-3 0-2 2-3 0-2 2-3 0-2-4-7 0-2-4-8-16-5-1-1-2,0-1-1-2,0-1-1-42,0-1,1-20,6-3,2-3,7-2,2z" fill="#cfcfcf"/>
<path d="M230,164l6,20 4,1 3,2 5,1 3,2 5,1 3,2 42,0 10-4 3,0 1-1 13-4 2-4 0-2 2-3 0-2 2-3 0-2 2-3 0-2-4-7 0-2-4-8-16-5-1-1-2,0-1-1-2,0-1-1-42,0-1,1-20,6-3,2-3,7-2,2z" fill="#dfdfdf"/>
<path d="M248,163l0,5 2,4 4,4 12,6 8,1 1,1 22,0 1-1 4,0 4-2 3,0 2-2 2,0 6-4 3-3 2-4 0-5-1-1 0-2-6-6-9-5-3,0-5-2-5,0-1-1-16,0-1,1-5,0-1,1-7,1-9,5-6,6 0,2z" fill="#efefef"/>
<path d="M253,164l1,5 6,5 4,1 3,2 8,1 1,1 20,0 1-1 4,0 1-1 5-1 3-2 2,0 4-3 3-4-1-5-7-6-4-2-3,0-5-2-5,0-1-1-14,0-1,1-5,0-1,1-7,1-7,4z" fill="#ffffff"/>
</g>
</g></g>
<path d="M0.3,0 V65.40 H158.70" fill="none" stroke="#000" stroke-width="0.6" opacity="0.8"/>
<path d="M0.00,65.70 v-1.6 M25.39,65.70 v-1.6 M50.78,65.70 v-1.6 M76.18,65.70 v-1.6 M101.57,65.70 v-1.6 M126.96,65.70 v-1.6 M152.35,65.70 v-1.6 M0,0.00 h1.6 M0,32.85 h1.6 M0,65.70 h1.6" stroke="#000" stroke-width="0.6" fill="none"/>
<text x="156.50" y="62.50" class="w" text-anchor="end" fill="#fff" font-size="12.8">80 ns</text>
</g>
<text x="245.10" y="348.65" text-anchor="end" font-size="12.3">5</text>
<text x="245.10" y="381.50" text-anchor="end" font-size="12.3">0</text>
<text x="245.10" y="414.35" text-anchor="end" font-size="12.3"><tspan dy="1.4">−</tspan><tspan dy="-1.4">5</tspan></text>
<text x="252.42" y="424.45" text-anchor="end" font-size="12.3"><tspan dy="1.4">−</tspan><tspan dy="-1.4">8</tspan></text>
<text x="277.81" y="424.45" text-anchor="end" font-size="12.3"><tspan dy="1.4">−</tspan><tspan dy="-1.4">6</tspan></text>
<text x="303.20" y="424.45" text-anchor="end" font-size="12.3"><tspan dy="1.4">−</tspan><tspan dy="-1.4">4</tspan></text>
<text x="328.60" y="424.45" text-anchor="end" font-size="12.3"><tspan dy="1.4">−</tspan><tspan dy="-1.4">2</tspan></text>
<text x="353.99" y="424.45" text-anchor="end" font-size="12.3">0</text>
<text x="379.38" y="424.45" text-anchor="end" font-size="12.3">2</text>
<text x="404.77" y="424.45" text-anchor="end" font-size="12.3">4</text>
<clipPath id="c0_4"><rect x="0" y="0" width="158.70" height="65.70"/></clipPath>
<g transform="translate(41.30,450.10)">
<g clip-path="url(#c0_4)"><g filter="url(#jet)">
<rect x="-5" y="-5" width="168.70" height="75.70" fill="#000"/>
<path d="M2.0,42.0 7.0,41.5 10.0,43.5 6.0,45.0 2.0,44.5Z" fill="rgb(51,51,51)" filter="url(#bl8)"/>
<path d="M122.7,4.9 127.0,4.5 131.7,6.4 127.0,7.9 122.7,7.5Z" fill="rgb(46,46,46)" filter="url(#bl8)"/>
<ellipse cx="149.7" cy="25.4" rx="2.0" ry="1.5" transform="rotate(0.0 149.7 25.4)" fill="rgb(46,46,46)" filter="url(#bl8)"/>
<g transform="scale(0.25)" fill-rule="evenodd" filter="url(#fb)">
<path d="M-19,101l0,8 4,4 4,1 1-4 1-1 1,1 0,27-4,4-5,2-2,2 0,11 5,6 2,1 4,0 4-6 8-2 4-3 2,0 1-1 6,0 1,1 2,0 1,2 5,4 7,0 1-1 4,0 1-1 5,0 1,1 6,1 2,2 3,0 1,1 3-1 3,2 7,2 3,4 2,0 4,2 7,8 0,1 1,0 6,6 0,4-1,1 0,4-1,1 7,7 10,5 6,1 2-2 0-4 1-2 2-1 9,5 0,4 1,2 5,5 9,0 1-1 0-9 4-2 8-1 1,1 5,0 4,2 0,2-8,8 10,0 1-2 3-1 5-4 4-2 5,0 1-1 3,0 1,1 11,0 1,1 9,0 4-2 4,0 2-1 5,2 11,1 1,1 8,1 3-2 2,0 4-2 2-2 10-5 12,0 7,5 3,4 5,3 3,0 1,1 1-1 2,0 4-4 1,0 3,2 2,0 7,3 4,5 2,5 3,3 10,0-2-5 0-3-1-1 1-1 3,0 1-1 12,1 2,2 0,2 5,4 1-1 2,0 3-3 2-4 0-2 3-3 3,0 1-1 3,0 5-2 5,0 6,3 8,1 4-3 0-3 2-3 2-1 4,0 1-1 3,0 6,5 5,1 1-1 6-1 5-2 5-6 1,0 3,4 3,0 1-1 2,0 9-9 4,0 1-1 7-1 7-3 2,0 1,1 9,0 5,5 0,1 3,0 1-1 5-1 0-4-4-6 2-2 2,0 1-2 3-1 3-3 4-2 8-1 8-4 0-1 4-4 3-1 4-3 4,4 4,1 4-4 2-4 0-2 2-3 0-10-3-5 2-33 1-1 6,0 2-1 1-2 0-6-3-4 0-4 3-5-11-9-9,1-3-2-2,0-2-2-10-3-2-2 0-2-1-1 0-7-5,0-1,1-6-1-5-5 0-5-1-1-6,5-4,0-8,3-1-1-6-1-2-2 2-3 7-2 3-3-8-1-5-2-4,0-5-2-4,0-6,7-2,0-4,3-10,0-1-1-7,0-6-3-6,0-3,2-5,0-8-8-4-1-1,1-6,0-1,1-2,0-8,5-5,10-8,1-1,1-3,0-5,2-4,0-1,1-5,0-4-3-9,1-5,2-1-1-5-1-3-2-2,0-3-2-2,0-5,2-12,1-1,1-2-1-4,0-1-1-5,0-7,4-3,3-14,0-1,1-4,0-5,2-3-2-2-3-2,0-1-1 9-6 0-3-2-1-5,1-4,2-4,0-1,1-8,0-5-4-2,0-3-4-6-4-11,0-1,1-28,0-1,1-3,0-1-1-8,0-4-2-3-6-6,0-5,2-5,0-7,3-2,2-11,0-7-6-10-1-7-3-6,6-7,4-6,0-5-3-5,0-6,4-7,0-5,2-4,0-5,2-4,0-1,1-7,1-5,6-11,8-8-3-3,0-4,5-5,9 1,4 4,5 0,3 1,1-1,2-5,2-6,0-2-1 0,6-2,2-3,7-3,4zM165,204l1-1 1,1-1,1z" fill="#101010"/>
<path d="M-9,95l1,7 5,7 0,6-2,5 0,18-3,7-1,7 12,0 8-4 4,0 5,2 3,3 4,0 2,2 2-1 13,1 1,1 7,1 6,3 4,0 1,1 5,1 4,3 8,3 20,20-4,6 0,5 1,2 2,0 1,1 5,0 1-1 2,0 5-5 3,2 1-1 1,1 5,1 7,5 5,0 1,2 2,0 1-2 3,0 7-3 10,0 5,2 1-1 2,0 1,1 3,0 3,2 5-3 16-1 1-1 8,0 4,3 5,0 1-1 7-1 1-1 5,1 1,1 3,0 1,1 8,0 1-1 3,0 1,1 1-1 7-1 4-3 8,0 1-1 15-1 3,2 5,1 13,6 3-1 1,1 7,1 13,8 7,0 7-3 7,0 5,2 1-1 3,0 1,1 1-1 7-1 2-2 5-1 6-3 11,0 1-1 2,2 4,0 2,1 2-1 4-5 2,0 3-2 3,0 1-1 4,0 1,1 1-1 3,0 2,2 6,1 4-2 3-4 5-1 2-2 1,1 10-1 4-2 3,0 2-2 11-2 7-3 4,0 1-1 2,1 4-2 3,0 4-3 5-1 13-9 2,0 13-5 4-4 4-2 1-2 4-2 2,0 1-1 7,1 3-6 0-7-2-3 1-1 0-4-1-2 1-1 1-14 1-1-1-2 0-5 1-1 0-6 3-7 1-9-2-2 0-8-14-2-11-8-3,0-6-3-3-4-3-1-2-2-9-5-6-1-1-1-4,0-1-1-1,1-2,0-1-1-8-1-1-2-8-1-1-1 1-1-1-1-6,0-1,1-5,0-1-1-3,0-1,1-9,0-1-1-4,0-1-1-22-1-1-1-8,0-1-1-4,0-2,1-3,4-2,0-10,4-3,0-1,2-2,0-1,1-4,0-1,1-3,0-5,2-4,0-1,1-9,0-1,1-7,1-3-2-10-1-9-5-1,1-4,0-5,2-7,0-5,2-10,0-3,2-4,0-2,2-3,0-1,1-9,0-1,1-4,0-1,1-7,1-8-8 0-1-2,0-8-4-4,0-2-2-2,0-2-2-3-1-5-5-2-1-4,0-1-1-7,1-1,1-28,0-2,1-1-1-6,0-1-1-2,0-4-2-4,0-1-1-11,0-1,1-8,0-1,1-14,0-1-1-10,0-6-3-6,0-1,1-2,0-2,2-5,0-4,2-15-1-1,1-7,0-4,2-8,1-5,2-9,1-2,2-4,1-3,4-12,9-2,0-7-3-3,0-4,6 0,3 6,9-2,5 0,3-2,3-2,0-1,1-6,0-3,5-1,6z" fill="#202020"/>
<path d="M-6,92l0,8 6,8 0,7-1,1-1,8-1,1 1,13-1,1 0,3-2,3 0,4 4,1 1-1 4,0 5-3 7,0 4,2 3,3 2,0 4,2 16,1 1,1 7,1 6,3 4,0 1,1 5,1 2,2 2,0 2,2 2,0 4,2 19,19 1,3 3,3-1,2 4-1 3,2 4,0 1,1 7,1 11,6 7,0 8-3 13,0 1,1 6,0 1,1 6,1 3-2 6,0 1-1 4,0 1-1 4,0 1-1 5,0 1,1 4,0 1,1 14,0 1-1 3,0 1,1 16,0 5-2 9,0 1-1 8,0 1-1 17-1 3,2 5,1 8,4 1-1 4,2 7,0 1,1 2,0 12,8 5,1 10-4 7,0 1,1 13,0 1-1 6-1 10-4 6,0 1-1 1,1 7,0 1-1 7-1 7-4 4,0 1-1 9,0 1,1 1-1 9-1 10-5 10,0 1-1 4,0 6-3 11-2 6-3 4,0 4-2 3,0 1-1 5-1 5-3 4-1 9-7 10-3 6-3 13-10 2,0 0-1 5-3 3-4 0-2 1-1 0-9-1-2 1-1 0-6 1-1 0-6 1-1-1-7 1-1 0-6 1-1 1-8 1-1 1-5-3-3 0-2-5-4-4-2-2,0-7-6-4-2-3,0-3-2-4-1-1-2-12-9-11-4-8,0-5-2-4,0-5-3-3,0-2-2-2,0-1-1-2,1-7,0-1-1-2,0-1,1-9,0-5-2-24-1-1-1-7-1-1,1-14,4-2,2-7,2-2,2-7,1-1,1-3,0-5,2-4,0-5,2-4-1-5,2-5,0-1-1-4,0-1-1-8-1-7-4-1,1-14,1-1,1-4,0-1,1-8,0-1,1-8,1-2,2-2,0-1,1-11,1-1,1-4,0-1,1-7,1-8-6-1-3-7-4-4,0-3-2-2,0-6-3-9-7-7,0-1,1-13,0-1,1-20,0-1-1-7,0-3-2-2,0-1-1-5,0-1-1-8,0-1,1-8,0-1,1-20,0-1-1-7,0-1-1-12,0-1,1-5,0-2,2-19,0-1,1-8,0-6,3-4,0-1,1-3,0-5,2-4,0-6,3-9,8-9,6-8,0 0,4 2,3 0,4-1,1 0,5-1,1 0,2-4,5-2,1-5,0-3,4 0,2zM104,193l1-1 1,1-1,1z" fill="#303030"/>
<path d="M-4,93l1,7 5,6 0,3 1,1-1,7-2,5 0,20-2,4 4,0 6-3 5,0 1,1 5,1 5,4 6,3 7,0 1,1 12,1 6,3 7,1 1,1 5,1 3,2 2,0 2,2 2,0 3,2 20,19 1,3 3,3 4,2 3,0 1,1 3,0 1,1 3,0 1,1 5,1 6,4 9,0 1-1 7-1 4-2 5,0 1,1 7,1 4,2 5,0 1-1 7,0 3-2 7,0 1-1 9,0 5,2 10,0 1-1 17,1 1-1 17-1 1-1 6,0 1-1 21-1 4,2 3,0 3,2 3,0 3,2 10,1 1,1 5,1 8,6 4,2 4,0 16-6 2,3 12,0 1-1 1,1 1-1 3,0 3-2 6-1 1-1 4,0 1-1 1,1 1-1 2,0 1,1 6,0 1-1 6-1 4-3 3,0 5-2 16,0 15-6 9,0 1-1 4,0 6-3 10-2 8-4 4,0 1-1 8-1 7-4 2,0 4-2 8-6 16-7 3-3 3-1 3-3 4-2 9-10 0-5 1-1-1-2 0-4 1-1 0-6 1-1 0-5 1-1 0-11 1-1 1-12 2-4-2-2-1-3-4-3-6-3-6-5-14-5-13-11-9-4-11-1-1-1-7-1-6-3-3,0-4-2-10,0-1-1-1,1-11,0-4-2-24-1-1-1-6-1-1,1-3,0-3,2-11,3-2,2-5,1-2,2-2,0-1,1-4,0-4,2-8,1-1,1-4,0-1,1-5,0-5,2-4,0-3-2-4,0-1-1-5,0-8-4-3,0-1,1-8,0-1,1-15,1-1,1-8,1-2,2-2,0-4,2-4,0-1,1-4,0-1,1-5,0-2,1-3,4-2,0-1,1-1-1-3,0-4-3 0-4 1-1-2-4-4-3-4-1-3-2-5-1-6-3-8-6-10,0-1,1-11,0-1,1-3,0 3,4 0,5-2,2-4,1-5-4 0-6 2-2-15-1-11-4-19,0-1,1-5,0-1,1-10,0-1-1-9,0-1-1-6,0-1-1-7,0-1,1-5,0-3,2-4,0-1,1-18,0-1,1-5,0-6,3-5,0-1,1-3,0-1,1-3,0-1,1-8,2-14,12-5,3-2,0-2,4-1,11-2,3-1,4-3,3-7,1z" fill="#404040"/>
<path d="M-1,92l0,6 3,5 2,1 3,4 0,3-1,1 0,2-3,4 0,4-1,1 0,8 1,1 0,5 1,1 0,2-1,1 2,0 1-1 8,1 7,3 3,3 8,4 18,2 1,1 3,0 3,2 10,2 5,3 2,0 8,4 8,9 1,0 10,9 5,7 2,0 3,2 10,2 1,1 5,1 4,3 5,0 1,1 1-1 5,0 3-3 5-2 9,0 5,2 2,3 7,1 1-1 5,0 1-1 7-1 1-1-1-1 0-2 1-1 6,0 6,4 9,1 1,1 4,0 1-1 24,0 5-2 9,0 1-1 9,0 1-1 6,0 1,1 2-1 10,0 1,1 7,1 1,1 2,0 7,3 4,0 1,1 2-1 6,0 2,1 2,4 8,5 5,0 1-1 2,0 1-2 12-12 8,0 4,5 0,2 1,1-1,4 8-1 4-2 8-1 1-1 5,0 1,1 1-1 2,0 2,1 1-1 4,0 10-5 4,0 1-1 10,0 1-1 4,1 1-1 4,0 2-2 2,0 2-2 3,0 1-1 10,0 1-1 3,0 3-2 6-1 1-1 11-3 3-3 7,0 1-1 3,0 15-6 7-8 3-2 2,0 7-3 4-5 2-1 6,0 5-3 8-10 0-4 1-1 0-11 1-1 1-7 1-1 1-19 1-1 1-8-4-6-11-6-3-3-11-4-1,1-3,0-3-3 0-3-10-8-8-3-5,0-5-2-5,0-16-6-22,0-4-2-24-1-4-2-3,0-1,1-6,1-8,4-2,0-14,7-7,1-8,3-3,0-1-1-1,1-4,0-5,2-7,0-1-1-3,0-5-2-4,0-7-3-7,0-1,1-2,0-1-1-1,1-5,0-1,1-1-1-1,1-4,0-1,1-11,1-4,3-6,1-2,2-3,1-8,7-7,3-4,0-8-4-3-3-1-4 3-7-3-3-4-1-3-2-5-1-3-2-2,0-8-6-4,0-1-1-1,1-11,0-1,1 0,2 1,1 0,5-4,4-2,1-9,0-2-1-8-9-8-3-3-3-6-1-1-1-15,0-1,1-5,0-1,1-17,0-1-1-7,0-1-1-15,0-7,3-8,0-1,1-14,0-8,3-4,0-5,2-4,0-11,4-8,7-1,0-1,2-4,2-6,5-1,5-1,1 0,5-4,10-4,3-5,1z" fill="#505050"/>
<path d="M1,96l1,1 0,2 7,4 3,5-1,4-4,7-1,7 4,6 5,5 11,5 3,0 1,1 0,4 2,2 3,0 4,2 17,0 1,1 2-1 1,1 2,0 1-1 1,1 4,0 2,1 3,3 7,4 5,5 1,3 6,6 11,6 2,2 0,4 1,2 4,2 2,0 4,2 9,0 7,3 2,2 3,0 3-3 6-3 15,0 1,1 3,0 8,7 1-1 4,0-1-7 4-5 10,0 1,1 5,1 5,3 4,5 32,0 1-1 4,0 1-1 9,0 1-1 9,0 1-1 14,0 1-1 10,0 11,4 9,0 1-1 7-1 1,1 2,0 3,3 1,2 0,6 3,2 4,0 2-2 4-8 4-4 3,0 1-1 16,0 6,9 7-1 6-3 2,0 4,3 10,0 3-2 2,0 1-4 3-3 6,0 1,1 4,0 4,2 2-1 8,0 3-2 2,0 1-2 3-2 5,0 1,1 11-1 2-2 2,0 2-2 6-3 3-4 5-4 5,0 5,2 5,0 6-3 2-2 3-1 11-12 7-4 5-5 4-2 10-1 1-1-1-10 1-1 0-5 2-5 0-6-2-3-3-2 0-3 2-4 5,0 4-3 3-7 4-4 0-3-4-6-6-3-6-5-4-2-13,1-6-3-3-4 1-5-4-5-4-2-8-1-1-1-12,0-1-1-2,0-3-3-8-3-7,0-8,7-5,0-3-3-2-4-4-2-8-1-8,7-2,0-4-3-1-3-3-3-2,0-1,1-3,0-10,6-2,0-8,7-3,0-1,1-3,0-5,2-6,5-5,2-5,4-3,1-3,3-2,0-1,1-4,0-4-3 0-10-1-1-17-2-8-3-14,1-1,1-10,1-6,3-1,2 0,4 2,2 3,1 2,3-3,2-1,0-5-6-4,0-5,2-3,3-7,4-9,1-11-7-3-3-1-2 0-6 3-6-10-5-14,1-6,5-3,0-1,1-2-1-19,1-9-4-4-4-5-1-4-2-5-7-3,0-1-1-10,0-1,1-5,0-8,4-8,0-11-4-15-1-1,1-4,0-3,2-2,0-10,9-4,0-6-3-4,0-6,3-10-1-8,4-4,0-1,1-4,0-2,1-6,6-8,6-2,5 0,4-1,1 0,3-1,1-1,5-2,3-4,3-5,1z" fill="#606060"/>
<path d="M20,124l-1,1 0,3 2,3 1-1 0-2zM9,97l7,8 0,13 3,3 5-2 2-2 6,0 2,1 4,5 0,4 4,11 0,3-1,1 0,4 1,1 7,1 1-1 4,0 1-1 6,0 1,1 7,1 8,3 3,2 8,9 1,3 5,6 9,5 6,1 3,3 2,5 3,3 3,0 1,1 10,0 5-4 5,0 8,3 16,0 1,1 6,0 6-4 4,0 1-1 9,0 1,1 6,0 2,1 11,9 24,0 6-4 6-6 2-4 3,0 1-1 15,0 3,2-2,1-1,4 1,1 3,0 2-1 1-2-1-3 2-2 3,0 1-1 7,0 5,2 3,7 6,3 4,0 8-4 10,2 1,1 5,0 1,1 4,0 1-1 1,1 2,0 1-1 17,0 2-1 7,3 2,0 1-1 5,0 4-2 7,0 5,5 1,4 1,1 3,0 1-1 0-4-1-1 1-4 2-2 8-3 1,1 5-1 2,2 2,0 10-5 6,0 3,2 3,0 1,1 13,1 4-3 2-7 4-3 6-1 6-3 4,0 5,2 5,0 2-1 2-3 0-5 4-4 21-10 13-11 1-2 0-4-1-1 0-10 2-3 0-8 2-3 0-3-1-1 0-7-1-2 4-4 2,0 3,3 3,1 8-6-2-3-4-3-4-1-7-4-14,0-5-2-5,0-7-3-2-3 4-3 1-2 0-4-1-2-4-2-10,0-1,1-3,0-3,2-3,0-8-6-5,0-3,4-1-1-3,0-1,1-1-1-9,0-3-2-2,0-4-4 0-1-2-1-3,0-3,3-3,0-1,1-3-1-1,1-2,0-3-2-2,0-5-4-3,0-8,7-13,6-6,0-1,1-2,0-10,7-2,0-6,3-6,5-2,0-4,2-11-5-1-1 1-6-4-3-4,0-1-1-11,0-6-3-13,0-1,1-4,0-3,2 0,2 6,7 0,2-4,4-2,1-7,0-3-2-5,0-5,3-10,2-1,1-3,0-1,1-14-9-5-5-1-2 0-10-3-2-6,0-10,5-11,0-1-1-7,0-1,1-2,0-1-1-8,0-3-2-6-1-3-2-11,0-3-3-1-8-4-3-6,0-4,2-1,2 1,8-2,2-10,0-1-1-4,0-6-3-2,0-7-4-6-5-9,0-3,3-2,7-3,3-8,3-8,0-1,1-7-3-9,2-6,8-10,5-5,7-1-1-1-8-3-5-8,1 0,1-5,4-2,5 0,14-2,4-6,6-1,0zM32,85l2,3 0,6-4,4-3,0-3-4 0-5 3-3zM97,50l2-2 3,0 2,1 1,2-2,2-2,0-1-1-2,0z" fill="#707070"/>
<path d="M531,104l-3-3 1-1 0-11-1-1 1-1 0-5-4-3-3,0-6-3-6-1-1-1-5,0-6-3-5-4-8-3-12-8-6,0-1,1-4-1-2,1-1-1-10-1-1-1-2,0-2-2-5,0-1-1-3,0-1,1-1-1-2,0-1,1-7-1-1-1-3,0-4-3-2,0-8,4-2,2-2,0-4,3-18,5-8,6-2,0-2,2-2,0-1,2-4,1-3,2-2,0-3,2-5,0-2-2-7-1-7-6 0-2-1-1-7,0-4,2-9,0-2-1-12,11-4,2-4,0-3-2-8,0-5,3-4,0-1,1-3,0-5,2-5-1-4-4-9-6-6-7-1-5-2-2-4,0-2,2-8,0-1,1-1-1-2,0-1,1-1-1-5,0-1-1-7,0-1,1-2-1-6,0-1-1-2,0-7-3-3,0-1-1-9,1-1-1-4,0-4-2-7,0-4,2-17,0-1-1-9,0-1-1-4,0-2,2-4,2-2,0-3,2-2,0-4-2-10,0-5,2-18,1-7,3-8,7-4,2-1,3-7,9 0,10-2,5-4,4-2,0-4,2-4-1-1,1 0,6 2,3 9,1 6,3 3,6 1,10 1,1 1,7 2,3 2,1 17,1 1,1 7,1 2,2 4,1 14,13 4,6 5,3 3,0 5,3 2,0 2,2 3,1 4,4 2,0 1-1 9,0 1,1 4,0 1,1 10,2 1,1 8,0 1,1 1-1 3,0 1,1 2,0 1-1 6,0 6-3 7,0 1-1 2,0 1,1 12,0 1,1 9-1 1,1 2,0 1,1 0,2 5,3 3,0 1,1 9,0 4-2 3-3 0-4 1-1 8-3 9,0 1-1 22,0 1-1 7,1 4,2 9,7 2-1 12,0 1,1 4,0 1,1 9,0 1,1 2-1 2,0 1,1 18,0 1-1 4,0 4,2 2,0 1-1 5,0 4-2 5,0 5,2 1-1 6,0 11-5 2,0 1,1 4-1 2,1 1-1 7-1 3-2 13,0 4,2 6,0 2-3 0-2 5-4 3,0 16-6 12,0 3-5 8-9 2,0 5-3 4-1 2-2 3-1 5-5 3-1 5-6 0-7-1-1 0-4-1-1zM154,43l0,1 1,0 0-1z" fill="#808080"/>
<path d="M164,185l2-1 7,0-7,0zM240,177l-4,0-1,1-9,0-1,1-9,0-1,1-9,0-1,1-9,0 10,0 1-1 7,0 1,1 1-1 4,0 1,1 6,0 2-1 1,1 6,0 0-1zM81,150l1,0 2,3 1,0 18,17 10,3 2,2 2,0 2,2 2,0 1,1 11,0 1,1 6,1 6,3 3,0 1,1 8,0 1,1-1-1-3,0-1-1-3,0-1-1-3,0-1-1-3,0-1-1-3,0-1-1-3,0-1-1-3,0-1-1-3,0-1-1-3,0-1-1-10-2zM44,131l1,5 1,1-1,1 2,4 2,0 1,1 8,0-10-2-2-3zM36,101l-6,6 2,2 2,0 3,2 0-2-2-4zM531,104l-5-6 0-9-2-4-7-6-4-2-5,0-1-1-2,1-24-12-2-3-6-4-7,0-2,1-1-1-4,0-1-1-4,0-1-1-4,0-1-1-4,0-1-1-5,0-1-1-4,0-1-1-4,0-1-1-4,0-1-1-4,0-1-1-3,0-3,2-1-1-1,2-6,3-2,0-7,4-4,0-4,2-3,0-11,7-2,0-3,2-2,0-13,6-20-2-2-2-1-3-2-1-3,0-1,1-15,0-4,2-6,6-2,0-7,3-2,0-1-1-9,0-2,2-6,0-1,1-4,0-4,2-4,0-11-7-5-5-1,0-8-9-2,0-1-1-17,0-1-1-3,1-5-2-14-1-3-2-2,0-1-1-5,0-1-1-3,0-5,2-2,0-7-3-4,0-1-1-1,1-4,0-1,1-4,0-1,1-9,0-1-1-17,0-1,2-9,0-1,1-9,0-1,1-1-1-6,0-3,2-6,0-1,1-1-1-1,1-12,0-1,1-2,0-10,9-3,1-1,5-1,1 0,3-1,1 0,3-1,1 0,3-1,1 0,3-1,1 0,3-1,1 0,3-1,1 0,4 1,1 0,3 1,1 0,3 1,1 0,3 1,1 0,3 1,1 0,3 1,1 0,3 1,1 1,5 10,2 1,1 3,0 1,1 3,0 1,1 3,0 1,1 3,0 1,1 3,0 4,2 27,21 6,3 3,0 1,1 3,0 1,1 3,0 1,1 3,0 1,1 3,0 1,1 3,0 1,1 3,0 1,1 3,0 1,1 3,0 1,1 3,0 5,2 16-1 1-1 9,0 1-1 9,0 1-1 9,0 1-1 9,0 1-1 9,0 1-1 9,0 1-1 45,0 1,1 11,2 1,2 4,3 6,3 2,0 1-1 1,1 2,0 1-1 2,0 1,1 1-1 2,0 1,1 10,1 1,1 1-1 3,0 1,1 4,0 1,1 4,0 1,1 4,0 1,1 17-1 1-1 9,0 1-1 17,0 1-1 2,0 2-2 4,0 1-1 4,0 1-1 3,0 1,1 1-1 5,0 1-1 2,0 2-2 12,0 1,1 1-1 5,0 9-5 2-2 3,0 1-1 2,0 4-2 3,0 7-3 8,0 4-2 3-5 14-12 10-5 3-3 2,0 4-4 0-2 1-1-1-2 0-4 3-5 0-2 3-5 0-2zM325,72l1-1 2,0 1,2-2,1z" fill="#8f8f8f"/>
<path d="M93,159l1,0 2,3 1,0 4,4 6,3zM531,104l-8-9 1-2-3-6-9-8-3,0-37-19-8-1-1-1-4,0-1-1-4,0-1-1-4,0-1-1-4,0-1-1-5,0-1-1-4,0-1-1-4,0-1-1-4,0-1-1-4,0-1-1-3,0-22,11-2,0-3,2-2,0-3,2-2,0-3,2-2,0-3,2-2,0-3,2-2,0-13,6-15-1-1-1-9,0-2-2 1-1-2,1-2-1-3,0-1,1-1-1-8,0-6,4-2,0-3,2-2,0-7,3-12,1-1,1-7,0-1,1-7,0-1,1-4,0-22-15-3-1-1-2-2,0-1-1-8,0-1-1-3,0-1-1-3,0-1-1-3,0-5-2-16-1-1-1-9,0-1-1-9,0-1-1-49,0-1,1-9,0-1,1-19,1-1,1-6,0-11,5-1-1-6,1-3,2-1,2-2,0-3,2-4,1-1,5-1,1 0,3-1,1 0,3-1,1 0,3-1,1 0,3-1,1 0,3-1,1 0,3-1,1 0,4 1,1 0,3 1,1 0,3 1,1 0,3 1,1 0,3 1,1 0,3 1,1 0,3 1,1 1,5 10,2 1,1 3,0 1,1 3,0 1,1 3,0 1,1 3,0 1,1 3,0 4,2 27,21 6,3 3,0 1,1 3,0 1,1 3,0 1,1 3,0 1,1 3,0 1,1 3,0 1,1 3,0 1,1 3,0 1,1 3,0 1,1 3,0 5,2 16-1 1-1 9,0 1-1 9,0 1-1 9,0 1-1 9,0 1-1 9,0 1-1 9,0 1-1 45,0 1,1 15,3 5,4 6,0 1-1 5,2 4,0 1,1 4,0 1,1 4,0 1,1 4,0 1,1 4,0 1,1 4,0 1,1 4,0 1,1 17-1 1-1 9,0 1-1 9,0 1-1 6,0 1-1 4,0 1-1 4,0 1-1 4,0 1-1 4,0 1-1 14-2 5-2 2,0 1,1 1-1 3,0 1-1 5-1 1-2 25-7 5-3 1,1 5-1 4-5 7-3 25-21z" fill="#9f9f9f"/>
<path d="M495,104l-32-28-6-1-1-1-4,0-1-1-4,0-5-2-9-1-5-2-9-1-5-2-8-1-5,3-7,2-5,3-7,2-5,3-7,2-10,5-50,0-1,1-3,0-1,1-3,0-1,1-3,0-1,1-3,0-1,1-3,0-1,1-3,0-1,1-3,0-1,1-15,3-3,2-14,21-1,4 1,1 0,4 1,1 0,4 1,1 0,4 1,1 0,4 1,1 0,4 1,1 0,4 1,1 1,7 6,1 1,1 4,0 1,1 4,0 5,2 4,0 5,2 4,0 5,2 9,1 5,2 8,0 1,1 11,0 1,1 11,0 1,1 20,1 1-1 5,0 1-1 5,0 1-1 5,0 1-1 5,0 1-1 5,0 1-1 5,0 1-1 10-1 1-1 3,0 1-1 3,0 1-1 3,0 1-1 3,0 1-1 3,0 1-1 3,0 1-1 3,0 1-1 15-3 6-3 5-4 3-1 5-4 3-1 12-8zM72,88l0,24 14,17 0,1 2,2 32,16 3,0 1,1 6,0 1,1 6,0 1,1 6,0 1,1 6,0 1,1 6,0 1,1 6,0 1,1 6,0 1,1 6,0 1-1 5,0 1-1 5,0 1-1 5,0 1-1 5,0 1-1 17-2 4-2 2-5 2-2 2-5 2-2 2-5 2-2 3-6-8-40-4-2-5-1-3-2-5-1-3-2-5-1-6-3-7,0-1-1-13,0-1-1-13,0-1-1-13,0-1-1-11,0-1,1-9,0-1,1-19,1-1,1-5,0-4,3-3,1-5,4-3,1-5,4-3,1z" fill="#afafaf"/>
<path d="M495,104l-32-28-6-1-1-1-4,0-1-1-4,0-5-2-9-1-5-2-9-1-5-2-8-1-5,3-7,2-5,3-7,2-5,3-7,2-10,5-50,0-1,1-3,0-1,1-3,0-1,1-3,0-1,1-3,0-1,1-3,0-1,1-3,0-1,1-3,0-1,1-15,3-3,2-14,21-1,4 1,1 0,4 1,1 0,4 1,1 0,4 1,1 0,4 1,1 0,4 1,1 0,4 1,1 1,7 6,1 1,1 4,0 1,1 4,0 5,2 4,0 5,2 4,0 5,2 9,1 5,2 8,0 1,1 11,0 1,1 11,0 1,1 20,1 1-1 5,0 1-1 5,0 1-1 5,0 1-1 5,0 1-1 5,0 1-1 5,0 1-1 10-1 1-1 3,0 1-1 3,0 1-1 3,0 1-1 3,0 1-1 3,0 1-1 3,0 1-1 3,0 1-1 15-3 6-3 5-4 3-1 5-4 3-1 12-8zM72,88l0,24 14,17 0,1 2,2 32,16 3,0 1,1 6,0 1,1 6,0 1,1 6,0 1,1 6,0 1,1 6,0 1,1 6,0 1,1 6,0 1,1 6,0 1-1 5,0 1-1 5,0 1-1 5,0 1-1 5,0 1-1 17-2 4-2 2-5 2-2 2-5 2-2 2-5 2-2 3-6-8-40-4-2-5-1-3-2-5-1-3-2-5-1-6-3-7,0-1-1-13,0-1-1-13,0-1-1-13,0-1-1-11,0-1,1-9,0-1,1-19,1-1,1-5,0-4,3-3,1-5,4-3,1-5,4-3,1z" fill="#bfbfbf"/>
<path d="M471,112l-16-24-5-1-1-1-3,0-1-1-3,0-1-1-3,0-1-1-3,0-1-1-3,0-1-1-3,0-1-1-3,0-1-1-3,0-1-1-3,0-1-1-3,0-1-1-3,0-1,1-2,0-1,1-2,0-1,1-2,0-1,1-2,0-1,1-2,0-1,1-2,0-1,1-2,0-1,1-2,0-22,8-49,0-30,15-15,18-2,4 1,1 0,2 1,1 0,2 1,1 5,16 7,1 1,1 4,0 1,1 4,0 1,1 8,1 1,1 4,0 1,1 4,0 1,1 8,0 1,1 11,0 1,1 11,0 1,1 20,1 1-1 5,0 1-1 5,0 1-1 5,0 1-1 5,0 1-1 5,0 1-1 5,0 1-1 9-1 1-1 2,0 1-1 2,0 1-1 2,0 1-1 35-11 3-2 2-5 2-2 2-5 2-2 2-5 2-2zM120,96l0,24 14,17 0,1 4,3 3,0 7,3 3,0 1,1 2,0 4,2 3,0 7,3 3,0 4,2 41-8 16-24-8-32-5-2-3,0-7-3-3,0-7-3-3,0-7-3-3,0-1-1-41,0z" fill="#cfcfcf"/>
<path d="M443,112l-5-6-6-3-2,0-4-2-4,0-1-1-7,0-1-1-26,0-1,1-9,0-1,1-13,1-1,1-4,0-1,1-3,0-1,1-3,0-5,2-4,0-6,3-6,1-22,10-11,9-3,6 0,4 1,2 7,6 2,0 3,2 3,0 1,1 4,0 1,1 7,0 1,1 25,0 1-1 18-1 1-1 4,0 1-1 4,0 1-1 5,0 4-2 11-2 6-3 13-4 10-5 2-2 6-3 5-5 3-6zM143,105l0,2-1,1 0,8 4,8 9,8 2,0 4,3 6,1 1,1 4,0 1,1 14,0 1-1 4,0 1-1 6-1 9-5 6-6 4-8 0-8-1-1 0-2-3-5-6-6-9-5-6-1-1-1-4,0-1-1-14,0-1,1-4,0-1,1-6,1-10,6-5,5z" fill="#dfdfdf"/>
<path d="M443,112l-5-6-6-3-2,0-4-2-4,0-1-1-7,0-1-1-26,0-1,1-9,0-1,1-13,1-1,1-4,0-1,1-3,0-1,1-3,0-5,2-4,0-6,3-6,1-22,10-11,9-3,6 0,4 1,2 7,6 2,0 3,2 3,0 1,1 4,0 1,1 7,0 1,1 25,0 1-1 18-1 1-1 4,0 1-1 4,0 1-1 5,0 4-2 11-2 6-3 13-4 10-5 2-2 6-3 5-5 3-6zM143,105l0,2-1,1 0,8 4,8 9,8 2,0 4,3 6,1 1,1 4,0 1,1 14,0 1-1 4,0 1-1 6-1 9-5 6-6 4-8 0-8-1-1 0-2-3-5-6-6-9-5-6-1-1-1-4,0-1-1-14,0-1,1-4,0-1,1-6,1-10,6-5,5z" fill="#efefef"/>
<path d="M438,113l-3-3-4-2-2,0-4-2-4,0-1-1-7,0-1-1-24,0-1,1-9,0-1,1-13,1-1,1-4,0-1,1-3,0-1,1-3,0-5,2-4,0-6,3-3,0-11,5-2,0-10,5-7,5-3,3-2,4 0,2 3,3 6,3 8,1 1,1 7,0 1,1 23,0 1-1 18-1 1-1 4,0 1-1 4,0 1-1 5,0 4-2 11-2 6-3 13-4 16-9 4-4 2-4zM147,109l0,6 1,1 0,2 6,7 6,3 2,2 6,1 1,1 4,0 1,1 12,0 1-1 4,0 1-1 6-1 4-3 3-1 5-5 3-6 0-6-1-1 0-2-7-8-3-1-4-3-6-1-1-1-4,0-1-1-12,0-1,1-4,0-1,1-6,1-2,2-6,3-4,4z" fill="#ffffff"/>
</g>
</g></g>
<path d="M0.3,0 V65.40 H158.70" fill="none" stroke="#000" stroke-width="0.6" opacity="0.8"/>
<path d="M0.00,65.70 v-1.6 M25.39,65.70 v-1.6 M50.78,65.70 v-1.6 M76.18,65.70 v-1.6 M101.57,65.70 v-1.6 M126.96,65.70 v-1.6 M152.35,65.70 v-1.6 M0,0.00 h1.6 M0,32.85 h1.6 M0,65.70 h1.6" stroke="#000" stroke-width="0.6" fill="none"/>
<text x="156.50" y="62.50" class="w" text-anchor="end" fill="#fff" font-size="12.8">100 ns</text>
</g>
<text x="37.40" y="455.50" text-anchor="end" font-size="12.3">5</text>
<text x="37.40" y="488.35" text-anchor="end" font-size="12.3">0</text>
<text x="37.40" y="521.20" text-anchor="end" font-size="12.3"><tspan dy="1.4">−</tspan><tspan dy="-1.4">5</tspan></text>
<text x="44.72" y="531.30" text-anchor="end" font-size="12.3"><tspan dy="1.4">−</tspan><tspan dy="-1.4">8</tspan></text>
<text x="70.11" y="531.30" text-anchor="end" font-size="12.3"><tspan dy="1.4">−</tspan><tspan dy="-1.4">6</tspan></text>
<text x="95.50" y="531.30" text-anchor="end" font-size="12.3"><tspan dy="1.4">−</tspan><tspan dy="-1.4">4</tspan></text>
<text x="120.90" y="531.30" text-anchor="end" font-size="12.3"><tspan dy="1.4">−</tspan><tspan dy="-1.4">2</tspan></text>
<text x="146.29" y="531.30" text-anchor="end" font-size="12.3">0</text>
<text x="171.68" y="531.30" text-anchor="end" font-size="12.3">2</text>
<text x="197.07" y="531.30" text-anchor="end" font-size="12.3">4</text>
<clipPath id="c1_4"><rect x="0" y="0" width="158.70" height="65.70"/></clipPath>
<g transform="translate(249.00,450.10)">
<g clip-path="url(#c1_4)"><g filter="url(#jet)">
<rect x="-5" y="-5" width="168.70" height="75.70" fill="#000"/>
<g transform="scale(0.25)" fill-rule="evenodd" filter="url(#fb)">
<path d="M391,141l-3-7-3-4 2-5 0-3-8-9-4,2-5,5-3-3-1,1-2-1-1-2-3-1-2-2 0-5-2-4-3-3-8-4-8,0-10,5-4,0-4-3-2,0-1-1-6,0-5,2-7,0-4-2-4,0-10,7-7,0-1,1-2-1-8,0-8-7-2,0-2,2 0,2-1,1 1,2-2,2-5,1-1,1-3,0-5,3-7,0-1,1-2,0-13,8-2-2 0-2-1-1 0-7-10,6 1,9-5,7-2,5 0,5 1,1 0,3 2,5-1,1-2-1-12,0-1-1-6,0-4,3-1,6-2,1-2,3-1,0-2,4 0,2-2,4 0,3 4,5 2,0 1,1 6,0 5,2 9,10 5,0 1-1 2,0 7-6 2,0 1,1 0,2 2,2 0,14 3,2 4,0 1-1 4,0 5-2 3,2 12,3 12,9 1,3-2,4 2,1 13,1 4-5 5,1 1,1 3,0 1,1 5,0 1-1 7,0 1-1 5,0 1-1 9,0 5-4 14,0 6,7 4,2 4,0 5-4 6-3 5-1 3-3 2-4-1-2 6-3 10-9 6,0 3-2-1-1 1-1 1-28-4-8 3-8 6-6zM262,216l1-1 5,0 1,1 0,2-2,2-2,0zM261,215l1-1 1,1-1,1zM194,150l1-1 1,1-1,1z" fill="#101010"/>
<path d="M377,120l-1,1 0,2 1,1 2,0 2-2-1-2zM385,138l-5-7-8-8 0-1-2,0-2-2-7-3-4-4-1,0-1-2-7-3-1-1 1-2-1-2-4-2-6,0-6,4-6,0-1-1-12,0-2-2-1,1-26,0-3,2-4,0-1,1-20-1-1,1-10,2-6,3-3,0-4,2-8,1-7,5-5,2-2,2-2,0-1,1-1-1-2,3 0,2-1,1-2,0-4,5 0,6 2,2-1,2 1,1-1,6-1,1-6,0-1,1-1-1-5,0-1,1-2-1-2,1-1-1-3,2-1,2-2,0-2,4-5,4-2,7 3,2 8,2 4,3 8,2 1,1 0,2 4,3 2,0 4-4 1,1 3,0 1-1 4,3 0,2 6,7-1,1 0,5 3,2 6-2 2,2 2,0 7,3 3,0 3,2 2,0 4,3 6,1 7,3 5,0 2-1 1,1 13,1 1,1 0,2 2,2 11-1 3-2 18,0 1-1 4,0 1-1 10,1 1,1 7,0 3,2 3-2-1-1 1-1 2,0 4-2 1,1 5,0 3-4 3-1 1-2 9-6 2-3 6-3 6-8 0-3-1-1 0-12-1-1 0-14 1-1 0-4 1-1 0-5 2-2z" fill="#202020"/>
<path d="M383,137l-3-2-11-11 0-1-6-3-9-7-3-1-7-6-10-1-1,1-6,0-2,1-1-1-13-1-1-1-25,0-8,3-14,0-1-1-5,0-6,3-4,0-1,1-3,0-8,3-10,2-10,7-6,3-2,0-4,6-2,1 0,2-2,4 1,1 0,12-3,3-6,0-1,1-2-1-5,0-1,1-1-1-1,1-2,0-2,1-3,4-7,6 0,2 19,10 6,1 2,2 2-1 2,0 1,1 5,0 4,4 0,2 3,3 1,3 5,5 7,2 2,2 11,3 7,4 6,1 7,3 7-1 1,1 12,1 1,2 12,0 1,1 4,0 1-1 15,0 1-1 4,0 1-1 6,0 1,1 5,0 1,1 8,0 6-3 3,0 10-4 6-6 4-2 5-5 3-1 6-8 0-4-1-1 0-3 1-1 0-6-1-1 0-11 1-1 0-4 1-1z" fill="#303030"/>
<path d="M381,138l-8-7-1,0-8-9-4-2-3-3-8-4-6-5-5,0-1-1-8,0-1,1-4,0-1-1-8,0-1-1-4,0-1-1-9,0-1,1-12-1-1,1-4,0-4,2-21,0-1,1-3,0-1,1-8,1-8,3-7,1-6,3-6,5-9,4-3,4-3,8 0,13-4,4-6,0-1,1-5,0-1-1-1,1-5,1-5,5 0,1-3,2 10,7 2,0 7,3 3,0 6,3 4,0 5,5 0,2 3,3 1,3 1,0 3,4 6,3 2,0 2,2 13,4 7,4 3,0 4,2 20,1 1,1 2,0 2,2 12,0 1,1 3,0 1-1 15,0 5-2 9,0 1,1 11,1 7-4 8-1 3-3 4-2 1-2 4-2 5-5 4-2 4-4 2-4 0-2-1-1 0-18 1-1 0-8 1-1 1-9 1-1z" fill="#404040"/>
<path d="M177,165l3,4 4,2 8,1 9,5 2,0 6,6 3,6 5,6 2,0 2,2 6,3 6,1 11,6 2,0 4,2 3,0 1,1 10,0 1,1 1-1 3,0 1,1 7,1 3,2 10,0 1,1 3,0 1-1 14,0 1-1 3,0 3-3 6,0 4,3 10,0 3-2 13-4 5-4 0-3 3-4 5-2 4,0 5-4 0-2 2-3-4-9 3-6 1-11 1-1 1-8 1-1 0-11-4-2-3-3-2,1-7,0-3-3-3-10-3-4-5-2-6-5-4,0-4-2-2,0-1,1-12,0-1-1-8,0-1-1-27,0-1,1-7,1-1,1-10,0-1-1-2,0-2,2-1,3-3,2-4,0-4-3-6,0-1,1-3,0-13,5-8,7-2,0-6,5 0,2-3,6 0,6-1,1 2,3 0,4-4,5-11,1-1,1-4-1-5,2z" fill="#505050"/>
<path d="M181,166l3,2 3,0 1,1 2-2 0-4-5,0zM200,167l2,6 11,8 3,5-1,1 0,3 3,4 2,0 1,1 6,0 1,1 10,2 8,7 5,2 16-1 1-1 3,0 4-3 3,0 5,2-1,5-3,3 2,1 10,0 1,1 2-1 12,0 5-5 11-4 6,4 3,0 5-6 11-3 8-7 4-2 8,0 4-2-1-4-3-5 0-6 3-6 2-2 5-12 0-14-3-2-5,2-7,0-1-1-2,0-4-4-5-10-10-4-3-3 0-4 1-2-7-1-7,6-5,2-2-1-6-6 0-1-3-2-2,0-5,5-5,0-5-5-6,0-5,4-14,2-11,6-6,0-6-4-6,0-8,3-4,4-2,4-6,7 0,4-3,8 0,4 1,2zM218,150l1,1 0,2-2,1-2-2zM218,150l1-1 1,1-1,1z" fill="#606060"/>
<path d="M207,167l0,2 3,4 6,3 2,0 5,5 2,7 5,4 8,1 4,2 1,2 4,3 5,2 13,1 4-2 6,0 1-1 2,1 4,0 4,2 3,3 1,3 4,0 7-6 16,0 4-2 9,0 15-7 6-4 9-8 1-2 0-6 12-18 3-7 0-4-1-1 0-2-3,0-1,1-12,0-4-3-3-7-4-4-6-3-8-2-3-2-7,0-1,1-1-1-4,0-1-1-3,0-8-4-2,0-4,2-9,1-3,2-8-1-1-2-4-3-5,0-16,7-7,0-3-2-6-1-6,3-2,2-3,6 0,4-2,4-1,12-2,4-7,7-4,1z" fill="#707070"/>
<path d="M218,164l1,2-1,1 1,1 0,2 6,12 5,5 7,4 2,0 8,6 2,0 4,2 4,0 1,1 15,0 1-1 8,0 5,3 3,0 1,1 6,0 4-2 12,1 1-1 5,0 1-1 10-1 3-2 2,0 2-2 2,0 6-3 4-3 6-7 0-2 2-4 0-3 3-8 6-7 4-7-1-2-2,0-1-1-7,0-4-4-5-10-3-3-8-4-6-1-3-2-8,1-1-1-4,0-11-4-12,1-1,1-2,0-2,2-7,0-8-4-4-1-1,1-3,0-1,1-2,0-10,4-3,0-1,1-10-1-3,3-1,3-6,6-3,16-2,4-3,2z" fill="#808080"/>
<path d="M221,166l1,5 3,5 0,2 2,4 8,6 4,1 9,7 2,0 1,1 5,0 1,1 6,0 1,1 3,0 1-1 10,0 1,1 5,0 1,1 4,0 1,1 8,0 1-1 19,0 3-2 7,0 4-3 2,0 3-2 4-1 9-6 7-18 1-12-1-1 0-3-7-10-1-6-3-3-6-3-6-1-5-3-15-1-8-3-8,0-1,1-3,0-3,2-9,0-1,1-2,0-6-4-7,0-1,1-4,0-3,2-3,0-7,3-4,0-6,3-7,8-1,7-2,3-2,7-4,6 0,3z" fill="#8f8f8f"/>
<path d="M355,157l-2-3 0-2-3-4 0-4-1-1-1-7-19-10-21-1-4-2-2,1-20,1-1,1-6,0-2-2-10,0-1,1-6,1-3,2-11,3-3,2-6,7-1,0-2,4 0,2-2,3 0,2-2,3 0,2-2,3 0,3 1,1-1,2 0,5 5,11 14,9 3,3 6,3 6,0 1,1 12,0 1,1 6,0 1,1 5,0 1,1 33-1 1-1 9,0 20-14 2-3 0-3 2-2 0-2 2-3 0-3 1-1z" fill="#9f9f9f"/>
<path d="M230,162l8,22 4,2 5,1 3,2 2,0 3,2 5,1 3,2 43,0 1-1 5,0 1-1 4,0 1-1 4,0 1-1 10-1 4-2 4-9 2-2 4-8-3-20-16-14-7,0-1-1-15,0-1-1-15,0-1,1-25,1-5,3-2,0-3,2-2,0-5,3-2,0-4,2z" fill="#afafaf"/>
<path d="M230,162l8,22 4,2 5,1 3,2 2,0 3,2 5,1 3,2 43,0 1-1 5,0 1-1 4,0 1-1 4,0 1-1 10-1 4-2 4-9 2-2 4-8-3-20-16-14-7,0-1-1-15,0-1-1-15,0-1,1-25,1-5,3-2,0-3,2-2,0-5,3-2,0-4,2z" fill="#bfbfbf"/>
<path d="M236,164l4,16 4,2 2,0 3,2 2,0 3,2 2,0 3,2 43,0 1-1 4,0 5-2 4,0 1-1 8-1 1-1 2,0 4-8 0-2 4-7 0-2-4-7 0-2-4-8-16-5-1-1-2,0-1-1-2,0-1-1-38,0-9,5-2,0-10,5z" fill="#cfcfcf"/>
<path d="M236,164l4,16 4,2 2,0 3,2 2,0 3,2 2,0 3,2 43,0 1-1 4,0 5-2 4,0 1-1 8-1 1-1 2,0 4-8 0-2 4-7 0-2-4-7 0-2-4-8-16-5-1-1-2,0-1-1-2,0-1-1-38,0-9,5-2,0-10,5z" fill="#dfdfdf"/>
<path d="M248,162l0,5 1,2 8,7 11,4 11,1 1,1 17,0 1-1 10-1 1-1 5-1 3-2 2,0 3-2 6-7 0-5-1-1 0-2-5-5-3-2-2,0-3-2-2,0-4-2-10-1-1-1-17,0-1,1-11,1-1,1-8,2-5,3-5,5 0,2z" fill="#efefef"/>
<path d="M253,163l0,3 7,6 2,0 7,3 11,1 1,1 15,0 1-1 10-1 12-5 4-4 0-3-4-5-12-5-10-1-1-1-15,0-1,1-11,1-1,1-8,2-3,2z" fill="#ffffff"/>
</g>
</g></g>
<path d="M0.3,0 V65.40 H158.70" fill="none" stroke="#000" stroke-width="0.6" opacity="0.8"/>
<path d="M0.00,65.70 v-1.6 M25.39,65.70 v-1.6 M50.78,65.70 v-1.6 M76.18,65.70 v-1.6 M101.57,65.70 v-1.6 M126.96,65.70 v-1.6 M152.35,65.70 v-1.6 M0,0.00 h1.6 M0,32.85 h1.6 M0,65.70 h1.6" stroke="#000" stroke-width="0.6" fill="none"/>
<text x="156.50" y="62.50" class="w" text-anchor="end" fill="#fff" font-size="12.8">100 ns</text>
</g>
<text x="245.10" y="455.50" text-anchor="end" font-size="12.3">5</text>
<text x="245.10" y="488.35" text-anchor="end" font-size="12.3">0</text>
<text x="245.10" y="521.20" text-anchor="end" font-size="12.3"><tspan dy="1.4">−</tspan><tspan dy="-1.4">5</tspan></text>
<text x="252.42" y="531.30" text-anchor="end" font-size="12.3"><tspan dy="1.4">−</tspan><tspan dy="-1.4">8</tspan></text>
<text x="277.81" y="531.30" text-anchor="end" font-size="12.3"><tspan dy="1.4">−</tspan><tspan dy="-1.4">6</tspan></text>
<text x="303.20" y="531.30" text-anchor="end" font-size="12.3"><tspan dy="1.4">−</tspan><tspan dy="-1.4">4</tspan></text>
<text x="328.60" y="531.30" text-anchor="end" font-size="12.3"><tspan dy="1.4">−</tspan><tspan dy="-1.4">2</tspan></text>
<text x="353.99" y="531.30" text-anchor="end" font-size="12.3">0</text>
<text x="379.38" y="531.30" text-anchor="end" font-size="12.3">2</text>
<text x="404.77" y="531.30" text-anchor="end" font-size="12.3">4</text>
<clipPath id="c0_5"><rect x="0" y="0" width="158.70" height="65.70"/></clipPath>
<g transform="translate(41.30,556.95)">
<g clip-path="url(#c0_5)"><g filter="url(#jet)">
<rect x="-5" y="-5" width="168.70" height="75.70" fill="#000"/>
<path d="M80.0,10.0 82.0,8.5 86.0,10.0 84.0,13.0 81.0,12.5Z" fill="rgb(51,51,51)" filter="url(#bl8)"/>
<path d="M121.7,6.5 125.0,5.8 127.7,7.0 124.5,8.2Z" fill="rgb(46,46,46)" filter="url(#bl8)"/>
<g transform="scale(0.25)" fill-rule="evenodd" filter="url(#fb)">
<path d="M-5,108l0,3 6,6-4,7 0,2 4,0 4-2 0-5-2-2 4-4 6,0 3,3-8,12 7,9-1,14 2,2 10,0 1,1 4,0 1,1 1-1 10,11-1,1 3,4-5,7-1,4 6,8 2,0 4-2 3,0 4,3 1,7 2,4 0,6 2,2 0,3 1,2 11,11 0,3-2,4 0,4 5,5 6,3 2,0 7,3 3,0 1,1 1-1 4,0 3-2 4-6 4-4 4-1 4-3 2,0 1-1 5,0 4-2 5,3 9,0 8-4 5-4 2,0 1-1 12,0 6-3 5-4 9,0 1-1 16-1 4,2 11,1 1-1 8,0 0-3-1-1 2-1 3,6 4,2 2,0 7-7 4-2 5,2 4,0 4-4 9-1 5,4 19,10 5,0 1-1 4,0 1-1 7,0 1,1 5,0 1,1 5,0 1,1 9,0 1-1 0-8 2-2 7,0 1-1 7-1 1,1 0,7 3,2 4,0 2-1 1-2-4-8 1-1 4,0 2-2 7-1 1-1 3,0 1,1 2-1 7,0 1-1 2,0 1,1-2,3-1-1-2,4 0,2-3,4 1-1 7,0 1-1 5-1 3-3 0-4 2-2 8,0 7,6 4,1 2-1 9-9 4-2 5,0 9,5 2,0 4-2 3-3 18,1 1-1 3,0 1-1 2,0 4-2 3,0 7-3 3,0 7-3 2-3 0-2-4-5 0-2 2-2 3-1 12-8 8-3 4,0 5,2 5,0 13-11 1,0 8-8 5-11 0-2-2-3 0-7 2-2 0-2 1-1 0-3 1-1 0-3 1-1 0-3 2-5 0-5-4-6 0-3-2-5 0-8-1-1 0-2-2-2-8,0-4-2-7-6-6-9 0-2-3-3-9,2-3,3-11-4-3,0-1-1 4-4 0-3-4-3-3,0-1-1-3,0-5-2-6,0-7,4-3,3-1-1-9-1-4-6 0-3-2,0-3,3-6,3-8,0-1-1-9-1-4-2-4,0-2,4-11,0-1-1 0-5-2-2-10,0-5,3-4,10-4,0-1,1-4,0-1,1-5-2-9,4-7,1-4,3-3,0-1,1-3,0-5,2-35-2-2-2-2,0-1,1-20,0-7,3-4,4-3,0-1,2-2,0-1,1-6,0-1-1-3,0-2-2-2,0-1-1 1-4 5-4 0-2-10-1-10,5-10,0-7-4-7-7 0-1-3-1-4,4-6,2-9-6-5-5-9,4-6,0-2-1-3,2-1,2 1,1-1,1-13,0-1-2-8,0-1,1-2,0-1-1-5-1-3-4-1-5-2,0-3,2-4,0-1-1-7-1-4-3-5,0 1,1 0,3-3,3-4,0-2-4-5-4-14,0-6,6-6,0-6-3-6,0-6,7-3,1-7-6-3-5-4,0 0,2-3,4-1,3-8,9-3,0-1-1-8-2-7,8 2,7 5,4-2,5 1,2-4,6-1,4-3,3-1,4-5,6-8-3-3,7 3,3 7-1 1,2-3,5-5,1zM502,181l1-1 1,1-1,1zM513,177l1-1 1,1-1,1zM7,94l1-1 1,1-1,1z" fill="#101010"/>
<path d="M6,104l12,12-1,3-6,8 0,2 3,3 0,2 2,2 0,2 2,4 3,3 9,6 3,1 1,2 1,0 9,10 0,2 2,2 0,3 2,2 2,6 2,0 2,2 3,5 0,2 2,2 1,6 2,4 0,4 2,4 0,3 11,11 3,6 4,3-1,1 0,2 2,2 3,0 4-3 9,8 4,0 2-1 2-3 3-1 2-2 14-6 5,0 1-1 5,0 1-1 7,1 5-2 9-7 23-2 4-2 18-1 1-1 7,0 1,1 2,0 1-1 16-1 4-2 9,1 1-1 6,0 1-1 12,0 4-2 10-1 5,2 4,0 8,6 6,3 9,0 3-2 2,0 4-4 23,0 1-1 8,0 1-1 4,0 1-1 10-1 1-1 3,0 2-2 3,0 5-2 6,0 1-1 1,1 6,0 1-1 9,0 1-1 6,0 1,1 2,0 1-1 9,0 1-1 7,1 2-2 7-1 1-1 4,0 1-1 3,0 7,3 4-2 2-4 3,0 1-1 7,4 3,0 1,1 11,0 2,1 1-1 5-1 0-4-4-6 8-6 3,0 1-1 1,1 8-6 4-1 2-2 2,0 7-5 8-4 2,0 2-2 5,2 7,0 3-3 0-2 6-6 2,0 5-4 2-4 0-5-3-2 1-1-1-2 3-4 0-2 4-3 2-4 4-20-4-8 0-8-2-4 0-3-3-3-5-1-4-2-5-5-1,0-6-7-4-2-2,0-1-1-4,1-1-1-5,0-1-1-3,1-1-1-8-2-9-7 1-2-2-3-5-2-5,1-4,4-1-1-4,1-1-1-9-1-3-2-7-1-1-1-3,0-1,1-7,0-1-1-20,0-1,1-9,0-2-1-1,1-4,0-1,1-4,0-1,1-4,0-1,1-4,0-1,1-14,2-1,1-3,0-1,1-3,0-1,1-15,3-5,3-13,0-1-1-11,0-1,1-3,0-1-1-8,0-1-1-3,0-1,1-11,0-1,1-10,0-3,2-5,1-6,4-9,2-10-4-1-2-4,0-2-2-9,0-1-1-3,0-22-8-9-1-1-1-5,0-1-1-5,0-1-1-20,0-1,1-26-1-1-1-17-1-2-3-3-2-4,0-1,1-2,0-2,2-13,1-1-2-19,0-1-1-7,0-7-4-5,0-1,1 0,2-2,2-2,0-1,1-7,0-8-3-3,3-5,1-11,10-7-4-3,2 1,5 4,3-1,2-1,10-3,6-6,8 0,2-2,3 0,4-2,4 0,3z" fill="#202020"/>
<path d="M9,103l4,6 4,3 3,4-1,4-5,7 0,2 2,2 0,2 4,7 0,2 5,4 7,3 3,4 1,0 6,6 5,9 0,2 2,2 0,2 8,9 3,6 0,3 3,7 0,4 3,6 0,2 9,8 6,9 4,2 5,1 8,4 2,2 5,0 4-3 14-7 22-3 6-3 5-1 3-3 15-1 1-1 5,0 5-2 19-1 1-1 19,0 1-1 9-1 1-1 10,0 1-1 9,0 1-1 2,0 1,1 5,0 3-2 7,0 1-1 5,0 5,2 4,0 3,2 4,0 5,4 7,1 5-3 8-1 1-1 8,0 1,1 17-1 1-1 4,0 1-1 8,0 1-1 4,0 6-3 3,0 5-2 6,0 1-1 7,1 1-1 20-1 1-1 2,0 1,1 13-1 1-1 4,0 1-1 8-1 1-1 4,0 1,1 1-1 4,0 1-1 3,0 2-2 8-1 1-1 1,1 2,0 1-1 2,2 6,0 3-2 2-4 2,0 1-2 7-5 7-2 6-3 2-2 14-6 7-5 10-3 13-11 5,0 3-3-1-14 10-11 0-5 2-5 0-10-2-2 0-7 1-1-1-1 0-6-2-5-3-2-2,0-4-2-12-11-4-2-10,0-4-2-4,0-1-1-7-1-4-2-7-7 0-1-3,0-2-2-1,1-2,0-1-1-2,0-1,1-11,0-1-1-3,0-3-2-2,0-3-2-4,0-1-1-2,0-1,1-7,0-1-1-19,0-1,1-10,0-1-1-1,1-5,0-1,1-4-1-1,1-3,0-2,2-4,0-1,1-4,0-1,1-4,0-1,1-8,0-1,1-11,2-5,3-3,0-8,3-11,0-1-1-12,0-1,1-2,0-1-1-8,0-1-1-2,1-11,0-1,1-8-1-1,1-3,0-6,3-2,2-2,0-2,2-2,0-4,2-5,0-1-1-3,0-3-2-2,0-2-2-5-2-10-1-1-1-3,0-1-1-8-2-3-2-2,0-4-2-3,0-1-1-8,0-3-2-4,0-1-1-4,0-1-1-35,1-1-1-12,0-1-1-18-1-1-2-25,1-1-1-19,0-3-2-16-1-1,2-2,0-3,2-6,0-5-2-2,0-4,2-3,0-16,13-2,5-2,11-8,12 0,2-2,3 0,3-1,1-1,8z" fill="#303030"/>
<path d="M12,102l1,3 8,9 0,2 1,1-1,4-4,6 4,13 12,8 7,7 0,1 2,1 6,10 0,2 2,2 0,2 10,13 1,5 2,3 0,2 2,4 1,7 2,4 12,11 2,4 4,2 5,1 11,6 2,0 20-10 17-2 1-1 6-1 3-2 5-1 3-2 15-1 5-2 4,0 1-1 4,0 1-1 6,0 1-1 27,0 3-2 18-1 1-1 9,0 1-1 10,0 1-1 7,0 1-1 7,0 4,2 6,0 2,2 4,0 3,2 7,0 1,1 2,0 1-1 3,0 8-3 7,0 1,1 14,0 1-1 7,0 1-1 4,0 1-1 5,0 1-1 4,0 1-1 7-1 6-5 4,0 2,2 5,0 1,1 1-1 20-1 1-1 16,0 1-1 4,0 1-1 8-1 1-1 10,0 3-2 2,0 2-2 3,0 1-1 11,0 4-2 3,0 15-11 2,0 12-7 8-2 9-6 13-6 4-3 1-3 3-3 2,0 4-3 3,0 1-1-1-11 2-4 8-9 0-11-2-5-1,1-4,0-6-6 0-2 1-1 5,2 4,0 4-8 0-7-3-4-2,0-2-2-3-1-10-9-5-2-7,1-8-4-3,0-4-2-4,0-7-4-1-2-7-6-19,0-1-1-3,0-3-2-2,0-2-2-5,0-1-1-1,1-8,0-1-1-17,0-1,1-19,0-1,1-1-1-2,0-1,1-4,0-7,3-8,0-1,1-4,0-1,1-4,0-1,1-11,2-16,6-10,0-1-1-14,0-1,1-1-1-23,0-1,1-2,0-1-1-4,0-1,1-6,1-2,2-2,0-2,2-4,2-2,0-3,2-9,0-14-7-11-1-1-1-3,0-1-1-5-1-2-2-2,0-7-3-3,0-1-1-7,0-1-1-3,0-4-2-5,0-1-1-15,0-1,1-13,1-1-1-6,0-1-1-19,0-4-2-6,0-3-2-5,0-1,1-5-1-1,1-5,0-1,1-6,0-1-1-17,0-3-2-4,0-1-1-4,0-1-1-5,0-2,2-6,3-5,0-1-1-5,0-1-1-3,2-7,1-2,3-8,5-4,6-2,11-3,6-6,8 0,2-2,4 0,7-1,1 0,3zM556,96l1-1 2,1-1,1z" fill="#404040"/>
<path d="M15,101l0,2 2,4 10,10 0,4-2,4-5,3 1,7 2,4 3,3 6,3 9,9 1,0 5,6 0,2 4,10 10,13 1,5 2,3 0,2 2,4 1,6 3,6 6,4 9,10 4,1 13,7 2,0 16-7 1-3 4-4 3,1 2,2 8,0 4-2 5,0 11-5 15-1 4-2 6,0 4-2 7,0 1-1 20,0 1-1 17-1 0-1 3-2 5,0 2,2 1-1 9,0 1-1 10,0 1-1 3,0 2-2 6,0 1,1 6,0 3,2 6,0 2,2 5,0 2,2 11,0 10-4 17,2 1-1 10,0 8-4 6,0 1,1 4-1 14-10 5,0 7,4 4,0 1,1 14,0 1-1 17-1 1-1 4,0 1-1 4,0 1-1 9,0 1-1 8-1 2-2 2,0 3-2 10,0 4-2 3,0 8-5 3-3 0-4 1-2 9-9 0-2 3-4 1,0 5,5 2,5 5-1 4-2 6-5 5-2 2-2 2,0 7-7 0-1 10-9 0-4 3-6 7-10 0-5-8-6-6,0-4-4 0-3-1-1 0-8-1-2 5-2 3,2 10,3 3-4 0-6-1-2-6-3-8-7-4-2-10,0-7-5-6-1-1-1-1,1-9,0-3-4 0-3-1,0-2-3-4-3-14,0-1-1-5,0-6-3-2,0-2-2-31-1-6,3-4,0-1-1-4,0-1-1-9,0-1,1-9,1-5,2-14,1-1,1-11,2-3,2-5,1-4,3-3,0-1,1-2,0-1-1-2,0-1,1-1-1-44,0-1,1-2-1-5,0-1,1-6,1-2,2-5,2-2,3-5,3-3,0-1,1-7,0-2-1-4-4 0-1-4-2-20-4-12-6-20-3-3-2-4,0-1-1-14,0-2,1 0,6-3,3-8,0-4-4-2-5-4,0-1-1-19,0-1-1-4,0-1-1-4,0-1-1-15,0-7,6-4,0-5-3-2,0-1-1-6,0-3-2-2,0-4-2-12-1-3,3-5,2-13-1-1,1-7,1-10,8-3,4 0,2-2,4-1,8-9,12 0,2-1,1 0,8-1,1 0,4zM527,133l3,1 3,3 0,3-2,2-3-1-3-4 0-2zM544,83l1-1 1,1-1,1zM543,82l1-1 1,1-1,1z" fill="#505050"/>
<path d="M551,72l4,7 6,5 3,0 1-1 0-3-3-3-5-3-2,0zM19,87l1,1-1,4 3,3 5,2 3,4 0,6 2,4 0,11-3,6-5,6 0,3 3,3 9-6 2,0 2,2 0,10 1,2 7,6 4,7 0,10 3,5 5,5 2,4 0,2 2,2 3,6 0,4 1,1 0,3 2,5 2,2 2,0 1,1 8-1 2,2-1,9 2,2 4,2 2,0 11,6 2,0 10-4 2-3 1-5 6-5 8,0 8,5 4,0 1-1 3,0 8-3 1-1 0-2 3-3 1,1 3,0 5,3 4,0 4-3 2,0 3-2 2,0 3-2 2,0 4-2 5,0 1,1 4,0 1,1 10,2 1-1 4,0 2-1 7-6 2,0 1-1 5,0 1-1 9,0 1,1 4,0 1,1 8,1 9-7 13,5 3,0 4,4 4,0 8,3 7,0 2,1 6-3-1-4 1-2 5-4 5,2 8,7 8,0 1-1 5-1 8-6 6,0 5,2 1-1 5-1 7-6 4,0 1-1 15,1 6-3 6,5 10,0 7-5 4-2 3,0 4,4 0,1 3,0 1,1 2,0 1-1 3,0 1,1 1-1 4,0 5-2 6-7 4,0 2,3 3,0 1-1 7-1 5-3-2-3-3-1-3-3 1-2 5-4 3-1 19-20 5-2 3,8 2,3 3,2 2-2 0-5-1-2-4-4-2,0-1-2 2-3 0-2 2-4 6-5 2,0 4,2 7,8 2,4 0,4-3,5 1,0 17-18 0-2 5-10 0-7-1-2-3-2-5,0-1-1-5-1-1-1 0-12-4-3-5,0-4-4 0-3 2-4 3-3 0-2 1-1-2-6-4-4-2-1-7,0-1,1-4,0-1,1-5-1-4-3 0-6 1-1 0-2-4-3-8,0-1-1-3,1-3,3-1,5-2,3-4,0-4-3 2-4 0-6-2-3-4-2-14,0-1-1-7,0-1,1-2,0-4,5-5,2-7-3-6,0-1-1-5,0-1-1-1,1-4,0-6,3-5,0-1,1-2-1-2,1-2,0-1-1-10,0-1,1-4,0-1,1-5,1-10,8-6,0-1-1-7-1-1-1-10,0-5,3-14,0-1-1-3,0-5-2-9,0-1,1-6,1-3,2-2,5-5,5-3,0-1,1-13,0-1-1-2,0-4-4-1-3-2-2-2,0-4-2-10-1-4-2-5,0-6-5-11,0-1,1-11,3-10-5-1,1-2,0-5,4-3,0-1,1-9,0-1-1-5,0-4-6-4-3-2,0-1,1-7,0-1,1-6,0-11-6-7,0-7,6-4,1-3,2-28,0-3,4-4,0-1-1 0-3 6-5 1-5-2,0-1-1-6,0-3,2 1,4-2,2-6,0-6-4-6,0-1,1-6,1-9,6-4,6 0,12-1,1 0,2-4,4-2,0-3,3zM292,192l1,1-2,3-1-1 0-2zM38,87l1,1 0,8-3,3-2,0-3-2 0-2 2-4 4-4z" fill="#606060"/>
<path d="M555,113l-9,0-7,3-3,5 0,4 4,6 2,1 5,0 6-5 3-6 0-7zM24,81l-2,2 0,2-1,1 1,2 4,1 2-2 1-4-2-2zM537,96l-4-2-6-7 0-4 6-9 0-4-3-4-2-1-4,0-13,6-12-2-3-3-7-4-4,0-1-1-5-1-4-5 0-2 2-3 0-3-1-2-3-2-6,0-1,1-2,0-4,2-3,5-2-1-3,0-1,1-1-1-9,0-8-3-11,0-1,1-4,0-1,1-11,0-1,1-1-1-2,1-11,0-1-1-1,1-7,0-8,5-1,2-10,4-5,0-3-2-4,0-1-1-7,0-6,4-18,1-11-7-4,0-6,3-2,4 0,4-1,2-5,4-3,0-1,1-5,0-1-1-12,0-2-1-10-10-4-2-7,0-8,4-2,2-1-1-2,0-6-5-3-1-1-2-2,0-1-1-2,1-2-1-8,0-7-3-6,0-6,3-15,0-1-1-3,1-5-2-6,0-1-1-8-1-1-1-5,0-1-1-22,0-1,1-3,0-5,2-16,0-1,1-8,0-4,3-7,1-2-1-3-4-15-6-7,3-7,1-4,3 0,22 5,7 0,2 1,1 0,5 1,1 0,4-2,3-1,6-1,1 0,20 2,2 4,8 0,2 1,1 0,5 11,18 1,10 6,7 0,2 2,4 6,7 0,2 2,4 0,4 3,2 8-3 1,1 2,0 3,3 0,2 1,1 0,11 1,2 6,6 5,2 1-1 3,0 4-3 3-10 4-4 12-2 1,1 5,0 5,2 4,0 2-1 4-6 2,0 4-2 9,0 4,2 10,0 9-5 7,0 1,1 4,0 5,2 5,0 9-7 5,0 1-1 2,0 1,1 2-1 4,0 1,1 2-1 11,0 1,1 6,1 11-5 13,1 1-1 3,0 5-3 5,0 5,4-3,7 0,3 5,2 9,0 0-8 3-4 4-2 7,0 9,8 2,1 5,0 1-1 3,0 8-7 9-1 1,1 5,1 1-1 3,0 3-2 2,0 2-2 2,0 1-1 13,0 1-1 3,0 10-4 2,1 2,0 1-1 2,1 2,0 1-1 1,1 2,0 11-4 10,0 7,6 5,2 1-1-1-10 4-3 9,0 1-1 2,0 7-6 12-6 4-4 1,0 4-4 3-5 12-11 2-5 10-9 3-6 0-2 6-7 0-2 2-4zM67,175l2-1 1,1 0,2-1,1z" fill="#707070"/>
<path d="M102,210l-1,2 1,7 2,2 2,0 2-3-1-5-3-3zM550,120l-5,1-1,1 0,3 1,1 1-1 2,0 2-3zM527,70l-3,0-3,4 0,3 1,1 5-4zM532,98l-7-7-4-8-4-2-8-7-2,0-4-2-3,0-12-8-4,0-8-3-3-6-2-2 1-2 0-3-1-1-4,1-2,4-3,0-1,1-7,0-1-1-3,1-1-1-5,0-1-1-4,0-5-2-15,0-1,1-29,1-1,1-8,1-9,6-2,0-3,2-6,1-1,1-2-1-4,0-1,1-10-1-4,2-24,1-2-1-3-4-4-2-3,0-4,5 0,5-5,5-8,3-22-1-13-8-3,1-1,5-1,1-4,1-6-6-7-3-5-5-2,0-2-2-2,0-1-1-7,0-8-3-10,0-2,2-18,0-2,1-1-1-4,0-1-1-8,0-4-2-8,0-1-1-16,0-1-1-8,0-4,2-7,0-1,1-16,0-1,1-2,0-4,3-2,0-1,2-5,0-6-3-5-4-6-1-2,2 0,5 1,1-1,3-3,3-4,2-2,0-4,3 1,12 2,3 0,12-3,8 0,14 1,1 1,7 3,5 1,6 4,9 2,2 1,3 2,2 5,9 2,1 1,2 3,1 7,8 1,8 5,9 4,3 4,1 15,10 10-1 4,2 2-1 7,0 1-1 18-1 3-2 6-1 1-1 7,0 1-1 2,1 2,0 1-1 11,0 1-1 3,0 8-3 16,1 1-1 10-2 1-1 38,0 1-1 3,0 5-2 14,0 1-1 3,0 4-3 8,0 1,1 3,0 4,3 7,0 5-2 8,0 3,2 2,0 3,4 3,2 6,0 4-2 3-3 5-2 3,0 1-1 3,0 1,1 10,0 9-4 5,0 1-1 10,0 3-2 2,0 1-2 4,0 1-1 4,0 1-1 2,1 12,0 1-1 3,0 5-2 13-1 2-2 4-1 3-2 12-2 9-5 2-2 7-3 4-4 1,0 19-22 3-6 7-6 3-7 0-4 7-7z" fill="#808080"/>
<path d="M219,193l-21,0-1,1-4,0-1,1-4,0-1,1-4,0-1,1-4,0-1,1-14,2 19-1 3-2 3,0 5-2 3,0 1,1 5-1 1,1 1-1 6,0 5-2zM264,191l-18,1-1,1 1-1 10,1 1-1zM274,190l2-1 6,0-6,0zM79,181l1,7 4,5 20,10 11,1 3,2 9,0 1-1 17-1 2-2 3,0-31,3-3-2-5-1-3-2-5-1-3-2-2,0-10-4zM50,137l2,9 11,17 4,3-5-7-2-5-2-2zM525,99l-2-2 0-2-1,0-1-2-4-3 0-1-2,0-1-2-3-2-1-5-4-4-5-1-4-2-6-5-4-1-6-3-2-2-7-3-4-4-2,0-1,1-1-1-3,0-2,1-1-1-4,0-1-1-4,0-1-1-4,0-1-1-4,0-1-1-4,0-1-1-45,2-1,1-6,1-10,6-5,1-6,3-5,0-1-1-1,1-12,0-1,1-10,0-1,1-11,0-1,1-2,0-1-1-5-1-3-3-3,0-1,1 0,3-8,9-2,0-6,3-2-1-1,1-4,0-1-1-15,0-5-2-10,0-8,5-6-6 0-1-10-9-4-1-1-2-2,0-1-1-5,0-10-4-10,0-1,1-19,0-1,1-14,0-1-1-3,0-5-2-16,0-1-1-15,0-1,1-4,0-1,1-4,0-1,1-5,0-1-1-10,1-4,3-4,0-7,4-2-2-2,0-3-2-3,0-3,2-2,4-4,4-4,1-5,3 0,9 1,1 0,2 0-3 1-1 1,1 0,30 2,3 0,2 2,3 0,2 2,3 0,2 2,3 0,2 2,3 0,2 2,3 0,2 5,11 23,30 4,1 3,2 5,1 3,2 5,1 3,2 5,1 3,2 16-1 1-1 9,0 1-1 9,0 1-1 9,0 1-1 9,0 1-1 9,0 1-1 9,0 1-1 49,0 1-1 9,0 1-1 9,0 1-1 9,0 1-1 40,0 1,1-1,1-13,1 4,2 5,0 1-1 5,0 1-1 6,0 8,4 3,3 4,1 3-2 4-1 4-3 2,0 4-2 10,2 1-1 6,0 5-3 14-1 1-1 4,0 5-2 9-1 5-2 10,0 1-1 3,0 5-2 5,0 1-1 7-1 11-5 10-1 20-12 8-8 2-4 11-11 3-6 0-2 5-5 2-4 0-7 3-4z" fill="#8f8f8f"/>
<path d="M183,196l-1,1-9,1 4,0 1-1 4,0zM197,194l1-1 11,0-11,0zM53,143l9,16-2-5-2-2-2-5zM523,104l-21-29-5-2-2-2-7-3-2-2-15-8-7-1-1-1-4,0-1-1-4,0-1-1-4,0-1-1-4,0-1-1-4,0-1-1-4,0-1-1-43,2-3,2-5,1-3,2-5,1-11,5-2,0-1,1-6,0-1,1-11,0-1,1-11,0-1,1-11,0-1,1-4,0-4-2-1,1-4,0-5,6-2,0-8,4-5,1-3,2-2,0-1-1-16,0-1-1-4,0-1-1-6,0-5,3-5,0-16-16-16-5-1-1-2,0-1-1-2,0-1-1-10,0-1,1-19,0-1,1-19,0-1-1-19,0-1-1-4,0-1-1-9,0-4,2-6,0-1,1-15,0-5,2-5,0-9,5-7-1-7,8-4,2-3,0-3,2 0,4 1,1 0,32 2,3 0,2 2,3 0,2 2,3 0,2 2,3 0,2 2,3 0,2 2,3 0,2 5,11 23,30 4,1 3,2 5,1 3,2 5,1 3,2 5,1 3,2 16-1 1-1 9,0 1-1 9,0 1-1 9,0 1-1 9,0 1-1 9,0 1-1 9,0 1-1 49,0 1-1 9,0 1-1 9,0 1-1 9,0 1-1 40,0 1,1-1,1-5,0-1,1-2,0 17-2 2,2 2,0 8,5 5,0 8-4 16-1 1-1 2,0 1,1 1-1 5,0 1-1 16-1 1-1 4,0 5-2 9-1 5-2 9-1 5-2 9-1 1-1 7-1 3-2 2,0 11-5 1,1 1-1 6-1 4-2 3-3 8-3 24-24z" fill="#9f9f9f"/>
<path d="M495,112l-8-24-12-8-3-1-5-4-3-1-5-4-4-2-5,0-1-1-11,0-1-1-11,0-1-1-11,0-1-1-7,0-1,1-3,0-1,1-3,0-1,1-3,0-1,1-3,0-1,1-3,0-1,1-3,0-1,1-3,0-1,1-3,0-1,1-3,0-1,1-3,0-5,2-51,4-1,1-3,0-1,1-3,0-1,1-3,0-1,1-3,0-1,1-3,0-1,1-3,0-1,1-3,0-1,1-3,0-1,1-3,0-1,1-3,0-1,1-3,0-1,1-15,3-2,1-2,3-2-1-7,0-2-2-10-19-4-2-4,0-1-1-4,0-1-1-4,0-1-1-4,0-1-1-4,0-1-1-4,0-1-1-4,0-1-1-61-2-1,1-5,0-1,1-6,0-1,1-6,0-1,1-5,0-1,1-10,1-24,24 8,36 24,32 2,0 1,1 3,0 1,1 3,0 1,1 3,0 1,1 3,0 1,1 3,0 1,1 3,0 1,1 3,0 1,1 3,0 1,1 3,0 1,1 3,0 5,2 57-4 9-6 3-1 5-4 3-1 5-4 3-1 3-2 2-3 5,1 1,1 3,0 2,2 0,2 4,8 3,0 1,1 7,0 1,1 7,0 1,1 7,0 1,1 7,0 1,1 7,0 1,1 7,0 1,1 7,0 1,1 8,0 1,1 9,0 1,1 19,1 1,1 9,0 1-1 9,0 1-1 9,0 1-1 16-1 1-1 3,0 1-1 3,0 1-1 3,0 1-1 3,0 1-1 3,0 1-1 3,0 1-1 3,0 1-1 3,0 1-1 3,0 1-1 10-2 38-19 2-2 2-5 2-2 2-5 2-2 2-5 2-2z" fill="#afafaf"/>
<path d="M495,112l-8-24-12-8-3-1-5-4-3-1-5-4-4-2-5,0-1-1-11,0-1-1-11,0-1-1-11,0-1-1-7,0-1,1-3,0-1,1-3,0-1,1-3,0-1,1-3,0-1,1-3,0-1,1-3,0-1,1-3,0-1,1-3,0-1,1-3,0-1,1-3,0-5,2-51,4-1,1-3,0-1,1-3,0-1,1-3,0-1,1-3,0-1,1-3,0-1,1-3,0-1,1-3,0-1,1-3,0-1,1-3,0-1,1-3,0-1,1-3,0-1,1-15,3-2,1-2,3-2-1-7,0-2-2-10-19-4-2-4,0-1-1-4,0-1-1-4,0-1-1-4,0-1-1-4,0-1-1-4,0-1-1-4,0-1-1-61-2-1,1-5,0-1,1-6,0-1,1-6,0-1,1-5,0-1,1-10,1-24,24 8,36 24,32 2,0 1,1 3,0 1,1 3,0 1,1 3,0 1,1 3,0 1,1 3,0 1,1 3,0 1,1 3,0 1,1 3,0 1,1 3,0 1,1 3,0 5,2 57-4 9-6 3-1 5-4 3-1 5-4 3-1 3-2 2-3 5,1 1,1 3,0 2,2 0,2 4,8 3,0 1,1 7,0 1,1 7,0 1,1 7,0 1,1 7,0 1,1 7,0 1,1 7,0 1,1 7,0 1,1 8,0 1,1 9,0 1,1 19,1 1,1 9,0 1-1 9,0 1-1 9,0 1-1 16-1 1-1 3,0 1-1 3,0 1-1 3,0 1-1 3,0 1-1 3,0 1-1 3,0 1-1 3,0 1-1 3,0 1-1 3,0 1-1 10-2 38-19 2-2 2-5 2-2 2-5 2-2 2-5 2-2z" fill="#bfbfbf"/>
<path d="M88,96l1,7 1,1 0,4 1,1 0,4 1,1 0,4 1,1 0,4 1,1 0,4 1,1 0,4 2,4 31,23 6,0 1,1 11,0 1,1 11,0 1,1 11,0 1,1 10-1 7-3 3,0 7-3 3,0 7-3 6-1 2-1 1-3 2-2 3,0 1,1 3,0 1,1 3,0 1,1 3,0 5,2 15-2 2,2 2,0 1,1 8,1 1,1 4,0 1,1 8,1 5,2 4,0 5,2 9,1 5,2 68,0 1-1 3,0 1-1 3,0 1-1 3,0 1-1 3,0 1-1 3,0 1-1 3,0 1-1 3,0 1-1 15-3 42-17 16-24-16-24-2,0-1-1-5,0-1-1-5,0-1-1-5,0-1-1-5,0-1-1-5,0-1-1-5,0-1-1-5,0-1-1-6,0-1,1-6,0-1,1-6,0-1,1-6,0-1,1-6,0-1,1-6,0-1,1-6,0-1,1-6,0-1,1-8,0-1,1-11,0-1,1-11,0-1,1-19,1-1,1-3,0-1,1-3,0-1,1-3,0-1,1-3,0-1,1-3,0-1,1-3,0-5,2-12,0-1-1-23,0-1-1-13,0-5,2-4,0-6-12-5-2-3,0-7-3-3,0-7-3-3,0-7-3-3,0-1-1-14,0-1,1-27,0-1,1-14,0z" fill="#cfcfcf"/>
<path d="M443,110l-2-3 0-2-7-5-6-3-3,0-5-2-4,0-1-1-9,0-1-1-20,0-1,1-11,0-1,1-13,1-1,1-4,0-5,2-4,0-1,1-7,1-1,1-14,4-19,9-3,3-6,3-7,8-2,5 0,4 4,7 9,5 2,0 4,2 3,0 1,1 14,1 1,1 21,0 1-1 10,0 1-1 13-1 1-1 9-1 4-2 3,0 1-1 3,0 1-1 10-2 3-2 5-1 16-8 3-3 7-4 6-7 2-4zM114,116l0,8 1,1 0,3 2,2 3,6 1,0 6,6 5,3 2,0 2,2 2,0 7,3 9,1 1,1 18,0 1-1 9-1 1-1 5-1 3-2 2,0 7-4 8-7 2-5 2-2 0-3 1-1 0-8-3-6 0-2-10-10-12-6-2,0-4-2-3,0-1-1-5,0-1-1-18,0-1,1-9,1-1,1-8,2-2,2-2,0-5,3-10,10 0,2z" fill="#dfdfdf"/>
<path d="M443,110l-2-3 0-2-7-5-6-3-3,0-5-2-4,0-1-1-9,0-1-1-20,0-1,1-11,0-1,1-13,1-1,1-4,0-5,2-4,0-1,1-7,1-1,1-14,4-19,9-3,3-6,3-7,8-2,5 0,4 4,7 9,5 2,0 4,2 3,0 1,1 14,1 1,1 21,0 1-1 10,0 1-1 13-1 1-1 9-1 4-2 3,0 1-1 3,0 1-1 10-2 3-2 5-1 16-8 3-3 7-4 6-7 2-4zM114,116l0,8 1,1 0,3 2,2 3,6 1,0 6,6 5,3 2,0 2,2 2,0 7,3 9,1 1,1 18,0 1-1 9-1 1-1 5-1 3-2 2,0 7-4 8-7 2-5 2-2 0-3 1-1 0-8-3-6 0-2-10-10-12-6-2,0-4-2-3,0-1-1-5,0-1-1-18,0-1,1-9,1-1,1-8,2-2,2-2,0-5,3-10,10 0,2z" fill="#efefef"/>
<path d="M438,111l-2-4-3-1-2-2-4-2-3,0-5-2-4,0-1-1-9,0-1-1-18,0-1,1-11,0-1,1-13,1-1,1-4,0-5,2-4,0-1,1-7,1-1,1-14,4-17,8-3,3-6,3-2,2 0,1-4,4-1,5 4,5 5,3 2,0 4,2 3,0 1,1 5,0 1,1 8,0 1,1 19,0 1-1 10,0 1-1 13-1 1-1 9-1 4-2 15-3 6-3 5-1 14-7 3-3 8-5 0-1 4-4zM119,117l0,6 4,9 1,0 6,6 10,5 2,0 4,2 9,1 1,1 16,0 1-1 9-1 1-1 5-1 3-2 2,0 12-9 4-9 0-6-3-7-8-8-10-5-2,0-4-2-3,0-1-1-5,0-1-1-16,0-1,1-9,1-1,1-5,1-5,3-2,0-11,10z" fill="#ffffff"/>
</g>
</g></g>
<path d="M0.3,0 V65.40 H158.70" fill="none" stroke="#000" stroke-width="0.6" opacity="0.8"/>
<path d="M0.00,65.70 v-1.6 M25.39,65.70 v-1.6 M50.78,65.70 v-1.6 M76.18,65.70 v-1.6 M101.57,65.70 v-1.6 M126.96,65.70 v-1.6 M152.35,65.70 v-1.6 M0,0.00 h1.6 M0,32.85 h1.6 M0,65.70 h1.6" stroke="#000" stroke-width="0.6" fill="none"/>
<text x="156.50" y="62.50" class="w" text-anchor="end" fill="#fff" font-size="12.8">200 ns</text>
</g>
<text x="37.40" y="562.35" text-anchor="end" font-size="12.3">5</text>
<text x="37.40" y="595.20" text-anchor="end" font-size="12.3">0</text>
<text x="37.40" y="628.05" text-anchor="end" font-size="12.3"><tspan dy="1.4">−</tspan><tspan dy="-1.4">5</tspan></text>
<text x="44.72" y="638.15" text-anchor="end" font-size="12.3"><tspan dy="1.4">−</tspan><tspan dy="-1.4">8</tspan></text>
<text x="70.11" y="638.15" text-anchor="end" font-size="12.3"><tspan dy="1.4">−</tspan><tspan dy="-1.4">6</tspan></text>
<text x="95.50" y="638.15" text-anchor="end" font-size="12.3"><tspan dy="1.4">−</tspan><tspan dy="-1.4">4</tspan></text>
<text x="120.90" y="638.15" text-anchor="end" font-size="12.3"><tspan dy="1.4">−</tspan><tspan dy="-1.4">2</tspan></text>
<text x="146.29" y="638.15" text-anchor="end" font-size="12.3">0</text>
<text x="171.68" y="638.15" text-anchor="end" font-size="12.3">2</text>
<text x="197.07" y="638.15" text-anchor="end" font-size="12.3">4</text>
<clipPath id="c1_5"><rect x="0" y="0" width="158.70" height="65.70"/></clipPath>
<g transform="translate(249.00,556.95)">
<g clip-path="url(#c1_5)"><g filter="url(#jet)">
<rect x="-5" y="-5" width="168.70" height="75.70" fill="#000"/>
<ellipse cx="32.5" cy="38.6" rx="1.8" ry="1.1" transform="rotate(0.0 32.5 38.6)" fill="rgb(46,46,46)" filter="url(#bl7)"/>
<g transform="scale(0.25)" fill-rule="evenodd" filter="url(#fb)">
<path d="M389,187l0-4-5-5 0-2-3-4-1-5-7-8 1-1 0-3 1-1 2-8 6-9-1-5-6-8-4-4-4-2-8-8-6-3-16-12-5-2-5,0-1-1-10-1-3-2-11,0-1,1-6,0-1,1-5,0-1,1-13,1-1,1-4,0-1,1-1-1-5-1-7,6-2,0-7,3-3,0-6,3-4,0-8-4-7,0-3,2 0,2-1,1 0,11-9,8-3,7-2,2-3,0-3-2-5-1-4,9-2,2-5,0-1,1-5,0-1,1-5,0-2,1-2,8-6,5-2,0 1,7 2,5 0,6 4,5 6,2 5,4 4,0 1,1 4,0 1,1 4,0 7-6 1,1 0,2 8,12 3,3 2,0 1,1 4-2 1,1 6,1 6,3 4,4 1,5 1,1 8,0 1,1 2,0 2,1 6,7 12,1 1,1 7,0 1,1 7,0-2-4 0-3 3-4 9,0 3,3 1,3 5,5 12,0 3-8 3-3 11,0 7,10 4,0 9-8 4-2 4,0 5-2 7-7 2,0 1-2 4-2 3-3 3-1 7-7 0-4z" fill="#101010"/>
<path d="M386,191l-2-11-2-2 0-2-4-6 0-2-6-8 1-7 1-1 0-4 1-1 0-4 1-1 0-2-1-1 0-5-2-3-3-2-2-5-11-15-6-4-5-2-8-7-2,0-4-2-10-1-3-2-9-1-1-1-6,0-1,1-12,1-1,1-4,0-3,2-6,0-1,1-4-1-7,3-3,0-1,1-8,2-2,2-5,0-1,1-2,0-9,5-1-1-8-2-2,1-2,3 0,5-12,11-1,3-3,3-4,8-5-2-2-2-4,0-2,4 0,4-2,2-4,2-3,0-1-1-4,2 0,2 3,2 7-1 1,1-1,2-17,2-2,2-3,0 0,1-2,1 1,11 3,4 4,3 7,3 5,5 2,1 4-1 7-8 1,1 4,0 3,2 0,3 6,4 0,2 2-1 14,10 25,12 4,4 1,3 5,6 2,1 5,0 1,1 4,0 2-1 2-5 0-4 1-1 2,0 1,1 5,0 1-1 11,1 7,8 6,0 3-6 2-2 9,0 1-1 6,1 1-1 6,0 1,1 0,3 1,1 3,0 5-6 8,0 11-5zM186,151l2-2 2,3-2,1zM189,146l1-1 6,0 1,1-1,1 0,4-1,1-4,0-2-2z" fill="#202020"/>
<path d="M383,191l0-3-1-1 0-3-1-1 0-3-1-1-1-5-3-6-5-6 0-5 1-1 0-4 1-1 0-4 1-1 0-4 1-1-10-20-11-13-5-2-12-9-5-2-5,0-1-1-3,0-3-2-10-1-1-1-5,0-1,1-6,0-1,1-5,0-1,1-6,0-1,1-5,0-1,1-12,1-1,1-3,0-2,2-4,1-3,2-7,1-4,2-3,0-18,9-2,3-10,9-2,5-2,3-2,1-6,12 1,4-2,2-10,1-2,2-4,0-2,2-8,0-1,1-5,1-2,2 0,5 1,1 0,2 3,3 2,0 5,3 2,0 8,4 3-3 2,0 1,1 2,0 1-1 2,1 4,0 4,3 0,3 1,0 2,3 18,12 26,13 7,1 2,2 2,5 2,1 3,0 1-1 0-5 1-1 2,0 1,1 6,0 1-1 1,1 16,0 1,1 4,0 3,3 3,0 3-3 5,0 1-1 14,0 1-1 8,0 1,1 4,0 4-2 9-1 10-5 14-13z" fill="#303030"/>
<path d="M379,190l-1-14-2-3 0-2-6-8 0-2-1-1 1-2 0-4 1-1 0-5 1-1 1-8-12-22-7-8-2,0-15-11-5-2-5,0-7-3-10-1-1-1-12,1-1,1-12,1-1,1-6,0-1,1-7,0-1,1-3,0-1,1-8,2-5,3-8,1-8,4-3,0-10,5-3,4-10,9-1,3-6,8-4,8-1,7-2,2-7,1-4,3-2,0-3,2-12,1-4,2 0,4 1,2 5,4 4,0 1,1 8,1 1,1 10,0 1,1 4,0 3,2 1,4 3,3 21,14 4,1 2,2 6,3 2,0 9,5 3,0 2,2 6,0 1,1 5,0 2-1 1,1 22,0 1,1 5,0 1,1 9,0 1-1 6,0 1-1 28-1 2-2 7,0 8-3 3-2 9-9 0-1z" fill="#404040"/>
<path d="M376,179l0-3-2-3 0-2-2-2-4-8 1-9 1-1 0-5 1-1 0-6-11-22-10-9-2,1-5,0-6-6 0-1-3-2-5-1-6-4-2,0-4-2-3,0-1-1-10,0-1,1-5,0-1,1-10,0-5,3-3,0-1,1-5-2-1,1-10,2-6,4-5,2-8,0-6,3-2,0-13,7-4,4-2,5-3,4-8,7-5,9 0,2-1,1 0,6-1,1-5,1-6,3-3,3-2,0-3,2-10,0-3,2 2,3 8,4 4,0 5,2 5,0 1,1 8,1 4,3 1,4 1,0 1,2 13,8 4,4 22,11 2,0 8,4 7,0 1,1 5,0 1-1 1,1 21,0 1,1 5,0 1,1 11,0 1-1 7,0 1-1 22-1 5-2 7,0 3-2 5-1 8-7 1-2 1-12 1-2z" fill="#505050"/>
<path d="M372,173l-1-3-4-5 0-8 1-1 1-13 1-2-6-12 0-3-2-2-4-8-4-4-3,0-4,2-4,0-2-1-8-9-3-2-2,0-4-2-6-5-2,0-3-2-2,0-1,1-5,0-2,2-2,0-1,1-12,0-1,1-2,0-2,2-3,0-1,1-3,0-6-3-4,0-4,2-5,5-4,2-12,0-1,1-5,0-12,6-3,4-1,5-5,5-3,5-8,5-3,6 0,5 2,3 1,6 1,1 0,10-1,1-5-10-4-3-3,0-4,6-4,3-12-1 0,1 7,1 2,2 4,1 2,2 3,0 5,2 2,0 4-2 3,0 3,3 0,4-1,2 1,1 0,2 2,2 6,3 9,8 6,3 3,0 3,2 2,0 14,8 2,0 1,1 7,0 1,1 27-1 3,2 3,0 1,1 13,0 1-1 3,0 5-2 7,0 1-1 5-1 8-5 7,0 4,3 5,0 8-5 0-3 1-1 0-16zM203,170l1-1 2,2-2,1z" fill="#606060"/>
<path d="M358,119l-3-3-10,1-5-3-7-8-7-3-3,0-9-6-4,0-7,3-7,0-1,1-11,0-1,1-11,0-1-1-5,0-9,6-3,0-5,2-8,0-1,1-4,0-1,1-5,0-6,4-2,7-7,6-3,6-4,4-1,0-3,4-1,4 2,4 0,8 1,1 1,10 5,10 3,3 0,2 4,4 1,0 8,7 5,1 4,3 5,1 2,2 5,2 7,6 5,0 4-6 8,0 6,3 15,2 4,4 8,0 5-4 2,0 1-1 9,0 11-5 2-2 2,0 4-2 4,0 7,3 3,0 3-3 1-4-2-4-2,0-3-2 0-4 1-1 0-3 5-6 2,0 1-1-1-10 3-7 0-3-3-3-2,0-2-2 0-3-1-1 0-7-1-2 4-10z" fill="#707070"/>
<path d="M354,121l-2-1-4,0-8-4-5-5 0-1-5-4-2,0-3-2-7-1-3-2-7,0-1-1-2,1-9,0-1,1-10,0-5,2-2,0-1-1-10,0-6,3-2,0-2,2-2,0-1,1-12,1-6,3-5,1-3,2-1,2-9,9-2,1-2,5-6,7-3,7 1,1 0,9 2,2 0,9 4,5 0,3 4,6 5,5 13,8 3,3 2,1 4,0 2,2 5,0 3,2 11,0 1-1 3,0 1,1 6,0 3,2 22,0 1,1 14,0 1-1 8,0 15-7 8-2 2-3 0-2 1-1-1-2 1-5-1-1 7-10 0-18-1-1 0-4-1-1 0-10-1-1 0-2 1-1-1-2z" fill="#808080"/>
<path d="M351,124l-1-2-4-2-2,0-12-12-6-1-3-2-10-2-1-1-3,0-1,1-2-1-9,0-1,1-15,0-1,1-8,0-1-1-1,1-6,1-2,2-3,0-1,1-3,0-1,1-3,0-5,2-5,0-13,7 0,1-2,1-2,3-8,5-4,9-2,2-4,8 1,2 0,9 1,1 0,9 13,17 14,9 3,3 5,1 2,2 6,0 2,2 5,0 1-1 1,1 3,0 1-1 4,0 1,1 7,0 4,2 43,0 12-6 2,0 5-3 4-1 0-2 1-1 0-7 3-6 0-2 3-4 0-3 1-1 0-11-2-5 0-19-1-1 1-5-1-1z" fill="#8f8f8f"/>
<path d="M349,124l-1,0-16-16-6-1-1-1-4,0-1-1-4,0-5-2-4,0-1-1-35,2-1,1-3,0-1,1-3,0-1,1-3,0-1,1-15,3-5,2-22,15-5,10 0,2-4,7 1,21 13,17 4,2 3,3 12,8 12,1 1,1 7,0 1,1 7,0 1,1 7,0 1,1 44,0 3-2 3,0 10-6 3,0 4-2 0-2 2-3 0-2 6-13 0-27-1-1 0-5-1-1 0-5-1-1 1-2z" fill="#9f9f9f"/>
<path d="M216,148l4,20 16,18 5,1 4,2 3,0 4,2 3,0 4,2 3,0 1,1 43,1 1-1 3,0 1-1 3,0 1-1 15-3 3-2 1-3 8-12 2-29-1-1-7-22-11-5-2,0-5-3-2,0-3-2-34,0-1,1-3,0-1,1-3,0-1,1-3,0-1,1-3,0-1,1-3,0-1,1-10,2-20,10z" fill="#afafaf"/>
<path d="M216,148l4,20 16,18 5,1 4,2 3,0 4,2 3,0 4,2 3,0 1,1 43,1 1-1 3,0 1-1 3,0 1-1 15-3 3-2 1-3 8-12 2-29-1-1-7-22-11-5-2,0-5-3-2,0-3-2-34,0-1,1-3,0-1,1-3,0-1,1-3,0-1,1-3,0-1,1-3,0-1,1-10,2-20,10z" fill="#bfbfbf"/>
<path d="M224,148l8,24 11,6 2,2 5,2 2,2 4,2 42,0 1-1 5,0 1-1 4,0 1-1 4,0 1-1 5,0 1-1 7-1 2-4 0-2 2-3 0-2 2-3 0-2 2-3 0-29-16-14-42-2-1,1-4,0-1,1-4,0-1,1-4,0-1,1-4,0-1,1-4,0-1,1-4,0-1,1-7,1z" fill="#cfcfcf"/>
<path d="M224,148l8,24 11,6 2,2 5,2 2,2 4,2 42,0 1-1 5,0 1-1 4,0 1-1 4,0 1-1 5,0 1-1 7-1 2-4 0-2 2-3 0-2 2-3 0-2 2-3 0-29-16-14-42-2-1,1-4,0-1,1-4,0-1,1-4,0-1,1-4,0-1,1-4,0-1,1-4,0-1,1-7,1z" fill="#dfdfdf"/>
<path d="M236,144l2,16 8,4 2,0 7,4 33,0 18-16 2-20-2,0-1-1-5,0-1-1-4,0-1-1-5,0-1-1-5,0-1-1-34,1z" fill="#efefef"/>
<path d="M241,145l0,2 1,1 0,7 1,2 4,2 2,0 7,4 30,0 15-13 0-4 1-1 0-9-8-1-1-1-5,0-1-1-5,0-1-1-31,1z" fill="#ffffff"/>
</g>
</g></g>
<path d="M0.3,0 V65.40 H158.70" fill="none" stroke="#000" stroke-width="0.6" opacity="0.8"/>
<path d="M0.00,65.70 v-1.6 M25.39,65.70 v-1.6 M50.78,65.70 v-1.6 M76.18,65.70 v-1.6 M101.57,65.70 v-1.6 M126.96,65.70 v-1.6 M152.35,65.70 v-1.6 M0,0.00 h1.6 M0,32.85 h1.6 M0,65.70 h1.6" stroke="#000" stroke-width="0.6" fill="none"/>
<text x="156.50" y="62.50" class="w" text-anchor="end" fill="#fff" font-size="12.8">200 ns</text>
</g>
<text x="245.10" y="562.35" text-anchor="end" font-size="12.3">5</text>
<text x="245.10" y="595.20" text-anchor="end" font-size="12.3">0</text>
<text x="245.10" y="628.05" text-anchor="end" font-size="12.3"><tspan dy="1.4">−</tspan><tspan dy="-1.4">5</tspan></text>
<text x="252.42" y="638.15" text-anchor="end" font-size="12.3"><tspan dy="1.4">−</tspan><tspan dy="-1.4">8</tspan></text>
<text x="277.81" y="638.15" text-anchor="end" font-size="12.3"><tspan dy="1.4">−</tspan><tspan dy="-1.4">6</tspan></text>
<text x="303.20" y="638.15" text-anchor="end" font-size="12.3"><tspan dy="1.4">−</tspan><tspan dy="-1.4">4</tspan></text>
<text x="328.60" y="638.15" text-anchor="end" font-size="12.3"><tspan dy="1.4">−</tspan><tspan dy="-1.4">2</tspan></text>
<text x="353.99" y="638.15" text-anchor="end" font-size="12.3">0</text>
<text x="379.38" y="638.15" text-anchor="end" font-size="12.3">2</text>
<text x="404.77" y="638.15" text-anchor="end" font-size="12.3">4</text>
<clipPath id="c0_6"><rect x="0" y="0" width="158.70" height="65.70"/></clipPath>
<g transform="translate(41.30,663.80)">
<g clip-path="url(#c0_6)"><g filter="url(#jet)">
<rect x="-5" y="-5" width="168.70" height="75.70" fill="#000"/>
<path d="M82.0,12.0 84.0,10.8 88.0,12.0 86.0,14.5 83.0,14.0Z" fill="rgb(51,51,51)" filter="url(#bl8)"/>
<path d="M122.7,7.0 126.0,6.0 128.7,7.2 125.5,8.4Z" fill="rgb(46,46,46)" filter="url(#bl8)"/>
<g transform="scale(0.25)" fill-rule="evenodd" filter="url(#fb)">
<path d="M437,209l-7-2-6,3-2,3 1-1 14-2zM235,33l6,4 3,0 0-3zM-6,106l0,4 4,6 2,0 4-3 3,0 5,3 4,4-1,1 0,5-1,1 0,2-2,2 0,3 3,4-1,2 4,4 6,8 3,1 4,5 2,0 1,1 5,0 2,2 8,19 4,4 4,9 2,2 2,7 2,2 0,5 1,1-1,2 1,2 9,9 0,2 4,4 0,1 10,9 3,0 6-4 1,1 8,2 4-2 1-2 1,1 0-1 3-2 2,1 1-2 1,1 12-6 4,1 2,3 4,3 5,0 1-5 1-1 0-4 4-3 2,0 1,1 6,0 1,1 5,0 1-1 10,0 1-1-2-5 1-2 8,0 1-1 1,1 0,4-1,2-4,2 0,2 1,1 6,0 1-1 4,0 5-3 5,0 2,2 5,1 1,1 11,0 1,1 16,1 1,1 7,0 1,1 7,0 1,1 12,0 1-1 2,0 0-2 3-4 5-2 9-8 2,0 1-1 4,0 8,6 2,0 1,1 16,1 5-5 4,0 1-1 11,1 1-1 3,0 4-5 9,0 6,8 2,1 6,0 1-1 4,0 1-1 13,0 1-1 4,0 1-1 5,0 4-4 0-5 1-1 3,0 1-2 2,0 2-2 4,0 1-1 4,1 1-1 5,0 1-1 4,1 1-1 4,0 1-1 4,0 1-1 4,0 1-1 9,0 10-4 5,0 7,4 3,0 2-4 0-3 3-3 3,0 11-4 2,1 2-1 3,2 8,0 7-3 5,0 8-7 8-3 2-2 1-10 4-4 3,0 4-2 7-8 13-3 4-4 2-6 8-7 3-7 0-6-3-6-2-8-3-4 0-4-3-8-3-2-2,0-1,1-2-3-1,1-1-2-3-1-14-10-3-5-3-2 3-5 0-3-4-4-10-5-6,1-4,2-7,0-6-3-12-11-4,0-12,8-6,0-1-1-4,0-13-8-5,1-1,1-8,0-1-1-4,0-1-1-10,0-3,3-8,0-1,1-3,0-5,2-12,0-4,2-2,0-8-5-6,0-8,5-3-1-1,1-7,0-6,3-11,0-5,2-5,4-5,1-1,1-3,0-1-1-14,0-8-4-4,0-8,6-2,0-8,5-4,0-3,2-5,0-1-1-5,0-1-1-2,0-5-4 4-6-2-2-3,0-6,3-6,0-1,1-4-1-2,2-1-1-6,0-1-1-2,1-8,0-5-2-10-1-10-5-20-1-4,3-1-1-9,0-5-3-9,0-1,1-15-1-1-1-7-1-3-2-3,0-1-1-7,0-5,3-23,1-1,1-19,0-1,1-9,0-1,1-3,0-1-1-4,0-8-9-5,0-7,7-2,9-8,7-4,7 0,4-1,1 4,10-4,8 1,2-1,1 0,2-2,1 0,2-2,3-2,1-7,0-2,2-1,5-1,1 0,5zM228,216l2-2 5,0 1,1 0,3-4,4-4-3zM135,23l1,2 2-1 0-1z" fill="#101010"/>
<path d="M596,113l-1-4-3-3 1-2 0-7-5-10-3-4-2,0-4-2-5-6-1,0-4-4-6-3-5-5 0-1-2-1-1-3-2-1-2-4-2-1 0-3-3-4-2-1-2,1-5,0-1,1-13-1-1-1-5-1-8-7-6,1-2,2-2,0-1-1-3,0-1,1-1-1-4,0-1-1-3,0-3-2-8-1-1-1-11,0-1-1-19,0-1-1-11,1-1,1-7,0-1,1-3,0-1,1-3,0-1,1-3,0-1,1-3,0-1,1-3,0-5,2-3-3-3,0-8,6-4,0-8-3-9,0-1,1-6,1-13,7-25,0-1,1-2,0-4-2-3,0-6,3-5,0-6,3-6,1-1,1-10,0-1-1-4,0-5-4-2,0-1-2-4,0-1-1-8-1-1-1-1,1-2,0-1-1-17,0-1-1-8-1-5-2-5,0-1-1-9,0-1-1-9,0-1-1-8,0-1,1-1-1-9,0-2-2-8,0-1-1-6,0-1,1-2,0-1-1-9,0-4-2-6,0-1-1-15,0-1,1-19,1-1,1-12,0-1,1-2-1-7,0-1,1-5,0-1,1-4,0-1,1-2-1-10,0-1-1-4,1-2-3-2,0-4,10-3,3-6,3-3,3-2,4 0,4 2,4 0,2-1,1 1,1-1,2 0,4-2,4 0,3-5,9-3,2 0,2-3,7 1,3 3,4 9,9 0,8-2,3 0,4 2,2 0,3 2,2 2,5 4,5 4,2 3,3 4,2 3,0 4,4 2,4 2,8 2,2 2,5 7,9 6,12 1,6 1,1 0,4 17,18 8,3 2-1 2,1 1-1 2,1 7,0 7-5 9-1 3-2 7-1 4-2 2,1 12-6 8-1 1,1 5,0 1,1 5-2 3-3 3,0 1-2 8,0 1-1 2,1 4,0 1,1 0,2 2,2 3,0 7-3 10,4 3-1 5-4 3,0 1,1 2-1 7,0 3,2 6,0 1,1-1,1 1,4 5,2 6,0 1-1 3,1 2-1 1-3 3-2 10-2 1-1 2,0 4-2 3,0 7-3 2,1 11-1 2,2 1-1 5,0 2-2 15,0 1,1 10,1 4-2 5,0 1-1 10,0 1,1 2,0 5,6 5,0 5-2 11,0 6-3 2,0 3-2 2-3 4,0 1-2 2,0 3-3 2,0 3-2 8,0 1-1 14,0 1-1 5,0 1-1 4,0 1-1 4,0 1-1 6,0 8-3 6,0 4-2 3,0 8-5 2,0 3-2 9-1 1-1 5,0 3-2 1,1 3,0 4-2 4-5 19-9 1-3 9-8 2,0 9-9 3-1 3-4 1,1 5-1-3-4 2-2 0-4 7-8 0-1 2-1 0-2 1-1 3,2 2,0z" fill="#202020"/>
<path d="M590,97l-2-2-1-4-5-5-5-2-3-3 0-2-5-5-6-3-4-4-1,0-9-10-4-6-2,0-7-3-3,0-1-1-5,0-1-1-7-1-7-3-3,0-1-2-2,0-1,1-2-1-10,0-1-1-4,0-6-3-4,0-5-2-11,0-1-1-20,0-1-1-10,1-1,1-2-1-1,1-8,1-1,1-3,0-1,1-3,0-5,2-7,0-1,1-7,1-3,2-5,1-6,3-5-2-7,0-2,1-3,4-11,0-1-1-6,0-1,1-23,0-1,1-2,0-1-1-9,0-3,2-4,0-3,2-3,0-2,2-4,0-1,1-14,0-5-2-6-4-3,0-2-2-8,0-5-2-3,0-1,1-2,0-1-1-9,0-5-2-4,0-4-2-16-1-1-1-9,0-1-1-8,0-1,1-1-1-9,0-2-2-8,0-1-1-7,0-1,1-2,0-1-1-8,0-4-2-7,0-1-1-12,0-1,1-9,0-1,1-9,0-1,1-25,1-1,1-7,0-1,1-14,0-2-1-20,17-1,2 0,5-1,1 0,4 1,1-1,1 0,7-4,8 0,2-6,8 0,2-3,6 10,14 3,2 0,9-2,4 2,3 0,3 3,6 7,8 9,5 2,0 4,4 1,4 2,3 1,5 2,2 4,8 5,6 2,5 2,2 3,6 0,2 2,4 0,4 14,14 0,1 4,3 2,0 1,1 15,0 6-4 6,0 1-1 7-1 4-2 3,0 4-2 4,0 5-3 3,0 3-2 2,1 1-1 17-2 1-1 2,0 2-2 3,0 1-1 9,0 4,2 3,0 1-1 9,0 1,1 9,0 1,1 3,0 1-1 16,0 4,2 4,0 2,2 6,0 1,1 5,0 2-1 1,1 3,0 2-2 2,0 4-2 6,0 6-3 7-1 1-1 15,0 1-1 24,0 1,1 11,0 1-1 4,0 1-1 12,0 5,2 4,0 1-1 21,0 1-1 4,0 6-3 2,0 2-2 8-4 2-3 4,0 1,1 24-1 1-1 4,0 1-1 4,0 1-1 5,0 1-1 15-3 1-1 5-1 6-4 10-4 12-1 1-1 7-1 2-2 6-3 3-3 12-6 5-6 7-5 3-1 9-9 1,0 5-6 0-2 3-5 0-2 6-7 0-2 2-2 3-6z" fill="#303030"/>
<path d="M587,98l-4-7-4-3-3-1-3-3-1-3-6-6-7-4-6-6 0-1-6-5-3-5-6-4-5,0-8-3-8-1-10-4-15-1-1-1-7-1-3-2-3,0-5-2-12,0-1-1-6,0-1-1-8,0-1,1-3,0-1-1-4,0-1,1-8,0-1,1-4,0-1,1-6,0-1,1-3,0-1,1-3,0-5,2-4,0-1,1-2,0-1-1-1,1-3,0-3,2-5,1-3,2-5,1-6,3-10,0-1,1-17-1-1,1-22,0-1,1-7,0-2-1-1,1-8,1-8,4-11,1-1,1-10-1-6-4-2,0-2-2-3,0-5-2-15-1-1-1-9,0-5-2-4,0-4-2-16-1-1-1-9,0-1-1-7,0-1,1-2,0-1-1-8,0-3-2-7,0-1-1-8,0-2,1-1-1-8,0-1-1-10-1-1-1-11,0-1,1-8,0-1,1-8,0-1,1-27,1-1,1-4,0-5,2-16,0-8,7-8,5-2,3-1,5-1,1 0,14-4,8-1,4-7,10 0,6 3,3 2,4 6,6 2,4 0,3-2,4 0,5 1,1 0,3 2,3 0,2 6,7 4,3 9,4 4,5 0,2 2,3 1,5 2,2 1,4 5,6 5,9 4,5 3,6 1,7 3,4 12,11 5,3 7,0 1-1 5,0 4-3 10,0 1-1 3,0 4-2 3,0 4-2 6-1 6-3 4,0 1-1 8,0 1-1 7,0 4-2 3,0 5-3 12,0 5,2 1-1 7,0 1-1 3,0 1,1 8,0 1,1 8,0 2-1 1,1 9,0 1,1 4,0 5,2 6,0 1,1 11,0 1-1 2,0 4-2 3,0 1-1 3,0 4-2 8-1 1-1 8,0 1-1 2,1 4,0 1-1 19-1 1,1 7,0 1,1 8,0 1-1 10-1 1-1 8,1 5,2 2,0 1-1 10,0 1-1 10,1 1-1 4,0 2-2 3,0 9-5 1-7 5-4 3,0 1,1 5,1 7,4 13,0 1-1 4,0 1-1 4,0 1-1 10-1 1-1 6-1 7-3 3,0 5-4 7-3 0-1-3-2 0-4 5-5 2,0 3,4 0,3-2,3 1-1 1,1 1-1 10,0 1-1 3,0 9-6 3-1 5-4 3-1 10-9 9-5 14-15 1-4 2-3 0-2 6-7 1-6z" fill="#404040"/>
<path d="M582,97l-7-8-2,0-3-2-3-8-3-2-4-1-5-5-1-3-17-16-10-2-1-1-5,0-1-1-2,0-7-3-3,0-1-1-15-2-1-1-7-1-3-2-8-1-1-1-11,0-1-1-5,0-1-1-10,0-1,1-6-1-2,2-6,0-2-1-1,1-7,0-1,1-3,0-1,1-3,0-1,1-3,0-5,2-12,1-8,4-2,0-7,3-4,0-4,2-7,0-1,1-18-1-1,1-35,1-1,1-3,0-3,2-2,0-3,2-10,1-1,1-7,0-1,1-6-1-4-2-2-3-4-1-3-2-7-1-4,4-3,0-5-3-6-1-1-1-5-1-3-2-3,0-3-2-8,0-1-1-8,0-1-1-10,0-1-1-6,0-3,2-7,0-5-4-7,0-1-1-9,0-1,1-2-1-1,1-3,0-8-3-17-1-1,1-8,0-3,2-2,0-4,2-9,0-5,2-13-3-1,1-3,0-1,1-5,1-2,2-4,0-1-1-9,0-9,7-7,4-3,4 0,2-1,1 0,5-1,1 1,1-1,11-6,12-5,7 0,5 4,5 1,3 7,7 8-3 3,0 3,4 0,4-2,5-4,2-3,0-5,4 0,3 2,5 2,3 7,6 7,3 6,5 3,11 4,8 8,11 4,3 7,1 2,2 1,5-4,7 0,2 2,3 12,11 4,2 8,0 1-1 0-8 2-2 3,0 8,6 5,1 1,1 8-3 3,0 6-3 3,0 3-2 10-1 1-1 2,1 1-1 9,0 1-1 8-2 5-3 7,0 1,1 4,0 1,1 4,0 1-1 1,1 1-1 9,0 1,1 8,0 1,1 5,0 1-1 10,0 1,1 8,1 5,2 7,0 1,1 2,0 1-1 6,0 7-3 4,0 7-3 7,0 1-1 7,0 1-1 16,0 1-1 33,1 5-2 7,0 5,2 9,0 1-1 17,0 1-1 4,0 1-1 3,0 3-2 2,0 1-1 0-4 1-1 1-6 2-2 5-2 10,1 13,7 10-1 5-2 12-1 1-1 17-5 3-2 0-8 3-5 5-5 9-6 2,0 1-1 1,1 0,4-1,1 1,9 1,2 4,0 1-1 4,0 17-11 12-10 8-4 14-16 1-5 7-11 1-7 4-7zM54,50l2,3 0,2-4,3-2-2 0-4z" fill="#505050"/>
<path d="M573,113l0-9-2-4-5-5-3,0-4-4 1-7-6-7-1-3-3-4-2-1-9,0-3-2 0-4 4-4-3-4-10-4-9-1-13-5-3,0-4,2-5,0-3-2-2,0-4-3-2,0-10-5-11,0-1-1-5,0-1-1-9,0-6,4-5,2-2,0-3-2-3,0-1-1-8,0-10,4-14,0-1,1-3,0-6,3-8,2-6,3-5,0-1,1-5,0-1,1-18-1-1,1-34,1-8,3-1,3-3,3-16,0-1,1-11-1-10-5-2,0-7,4-2-1-4,0-1-1-2,0-8-7-10-3-5-3-4,0-1-1-4,0-1-1-16-1-7,4-13,0-1-1-2,0-6-6-2,0-1-1-5,0-7,4-7,1-5-5-4-2-7-1-1,1-8,1-15,8-18,0-6-3-4,0-5,3-2,5 0,4-1,2-4,4-2,0-1,1-4,0-6-6-2-4-3-2-9,5-4,5-1,9 1,1 0,2 3,3 2,4 0,2-7,4-6,6-1,3-3,4 0,5 5,8 3,3 4,0 8-4 3,0 3,4 0,4 1,1 0,9 1,1 0,2-3,4-9,0-3,3 0,2 3,5 1,0 8,7 9,0 4,4 0,2 1,1-1,11 2,2 0,2 3,5 7,7 5,3 8,0 3,2 1,2 0,10-1,1-1,7 8,9 6,3 2-1 0-7 4-5 7,0 8,6 6,1 20-9 8,0 4,3 6,0 1-1 5,1 8-3 3-4 5-3 5,0 6,5 2,0 1,1 1-1 9,0 1-1 2,0 1,1 6,0 1,1 8,0 3-2 8,0 7,4 4,0 1,1 8,0 1,1 9,0 7-6 2-4 3-3 6,0 7,4 10,0 1-1 2,1 12,0 6-7 3,0 9,8 16,0 0-1 5-4 8,0 5,4 4,1 1-1 8,0 1-1 2,0-1-1 0-2 5-5 2,0 1-1 2,1 2,3-5,5-1,0 10,0 3-2 3,0 3-12 5-4 3,0 1-1 15,0 12,6 8,0 1-1 3,0 5-2 7,0 1-1 2,0 9-5 2-4 0-2 6-7 24-17 5,0 1,1 0,6-3,6 1,5 1,1 3,0 4-2 11-8-1-6 4-5 11,0 1-1 2,0 5-3 4-4 1-3 3-2 4-5 1-5 1-1 0-4zM38,79l2,2 1,3-4,3-3-2-1-3 2-2 2,0z" fill="#606060"/>
<path d="M558,100l-2,1-2,3-1,7 2,4 3,3 4,0 6-7 0-7-4-3zM551,81l-2-5-3-2-14,0-5-3-2,1-4-1-8-7-9-6-5-1-10-5-3,0-1-1-8-2-3-2-14-2-3-2-2,0-5-4-6,1-4,3-10,0-1-1-7,0-2-1-1,1-7,1-4,2-19-1-5,3-3,0-13,5-5,0-1,1-2,0-3,3-2,0-1,1-5-1-3-2-7,0-5,2-9,0-1,1-3,0-5,2-1-1-4,0-1-1-6,0-3,3-1,6-3,4-2,0-1,1-13,1-1,1-1-1-3,0-1,1-3-4-2,0-1-1-6,0-6-4-12,0-1-1-4,0-3-2-2,0-4-2-3-3-4-2-2,0-7-3-3,0-1-1-15,0-8,3-1-1-8,0-1-1-18-1-1-1-2,0-4-4-4,0-4,3-13,0-2-1-3-4-5-1-1-1-1,1-5,0-1,1-2,0-11,6-7,1-1,1-18,0-1-1-5,0-3,3 0,2-6,7-6,3-5,0-1,1-2,0-7-5-9-2-2,2-2,6 6,6 2,1 6,0 4,6 1,5-2,4-6,6-6-4-6,0-4,2-5,4-1,2 0,5 3,5 3,2 4,0 11-7 5,9 1,14 3,7 0,6-5,6 4,2 6,1 3,3 2,4 0,9-1,1 0,7 1,1 0,2 9,8 4,2 8,0 4,2 3,3 1,2 1,17 3,3 6-5 5-2 11,3 3,2 12-1 12-5 13,0 8,5 7,0 2-1 1-2 10-10 6,0 6,3 6,0 5-6 13,0 4,2 5,0 6,3 5,4 4,1 3,2 2,0 1,1 10,0 1,1 2,0 7-3 2-4 0-2 3-3 4,0 1-1 24,0 1,1 1-1 8,0 5-3 3,0 1-1 7,0 1,1 2,0 4,4 3,5 2,1 6,0 5-4 6-3 7,0 5,2 4,0 7-3 3-3 2,0 1-1 5,0 1-1 11,0 2-2 2,0 3-3 8-3 13,0 1,1 2,0 1-1 10,4 9,0 4-2 8-9 10-3 14-7 16-11 5-5 5-2 6,0 1-1 1,1 3,0 7-6 8-4 2-5 0-5 1-1 1-5 2-3-1-20 1-1 1-5 5-4 1-2z" fill="#707070"/>
<path d="M22,101l0,2 2,0 0-2zM544,81l-2-2-5,2-4,0-4-2-3-3-8-3-12-11-4-2-2,0-5-3-2,0-6-3-11-3-3-2-11-1-3-2-6,0-1-1-4,0-1-1-9,0-1,1-1-1-17,0-1,1-7,0-1,1-6,0-1,1-14,0-8,4-5,0-1,1-4,0-3,2-2,0-8,7-5,0-2,1-7-4-3,0-6,5-3,0-5,2-3,0-1-1-7,0-1,1-2,0-3-2-2,0-6,7-4,2-7,1-1,1-4,0-1,1-10,1-1,1-10-3-11-7-2,0-1-1-5,0-4-2-6-1-2-2-6-3-2,0-3-2-3,0-1-1-33-1-1-1-7,0-1-1-20-1-3-2-6,0-1,1-14,0-6-3-9-1-1,1-9,1-1,1-5,1-3,2-4,0-1,1-14,0-1,1-3,0-8,4-7,7-4,2-12,2-1,3 2,3 0,2 2,4 0,6-1,1 0,6-1,2-3,2 0,6 1,1-1,4 1,1 1,17 3,5 2,10 8,13 0,3 1,1-1,2 0,11 2,4 2,2 6,3 5,0 4,3 2,0 4,2 4,4 0,2 4,5 2,0 1,1 5,0 8,5 10,1 1,1 11,0 3-2 4,0 4-2 14-1 8,5 4,0 2-1 6-7 4-2 12,0 1,1 2,0 1-1 3,0 2-2 2,0 3-2 2,0 1,1 2-1 6,0 2,2 8,1 3,2 4,0 4,2 11,0 1-1 17-1 3-2 4,0 1-1 18,0 1-1 2,1 4-1 1,1 1-1 9,0 5-2 11-1 1,1 4,0 2,2 4,1 3,3 5,0 5-3 6,0 1-1 12,0 1-1 5,0 1-1 3,0 5-2 5,0 1-1 10,0 2-2 3-1 1-2 4,0 1-1 4,0 1-1 4,0 1-1 1,1 21,0 1-1 2,1 5,0 6-6 2,0 4-3 10-2 15-7 12-8 9-9 14-4 6-6 6-4 7-14 0-10-1-1 0-6 1-1 0-12 4-3z" fill="#808080"/>
<path d="M87,186l3,2 2,3 2,0 1-1 1,1 1-1 2,1-3-2-2,0-3-2zM536,94l-1-1-1-5-4-5-8-6-6-2-2-3-9-8-4-2-2,0-3-2-2,0-3-2-2,0-3-2-1,1-13-7-12-1-1-1-7,0-1-1-7-1-1-1-2,0-1,1-4,0-1-1-7,0-1,1-2-1-5,0-1,1-7,0-1,1-7,0-1,1-14,1-7,4-5,1-10,5-2,0-6,4-6,0-1,1-2,0-1-1-9,0-4,2-5,0-3,2-5,0-1-1-9,1-1-1-2,0-2,1-3,4-6,3-7,1-5,2-4,0-1,1-4,0-5,2-3,0-16-8-1-2-2-1-3,0-7-4-8-1-1-2-2,0-2-2-5-2-4,0-1-1-10,0-1-1-1,1-2,0-1-1-7,0-1-1-2,0-1,1-6,0-1-1-4,0-1-1-4,0-1-1-18,0-4-2-9,0-1,1-2,0-1-1-12,0-2-2-2,0-1-1-6,0-1,1-10,1-3,2-2,0-7,3-15,0-8,4-4,3-2,3-8,4-3,0-7,3 1,5-1,1 0,9-1,1 0,9-1,1-1,16 2,4-1,1 1,2-1,1 1,1 0,3 3,4 4,14 6,12 0,4 1,1 0,8 2,4 7,2 4,4 6,3-8-12-3-3-2-4-3-3-4-7-3-3-2-4 0-2 1-1 2,4 21,28 6,4 2,0 3,2 2,0 3,2 2,0 3,2 2,0 3,2 2,0 13,6 46,0 1,1-1,1-9,0-1,1-9,0-1,1-9,0-1,1-16,1-3-2-2,0-3-2-2,0-3-2-4-1 2,1 4,5 4,2 2,0 3,2 3,0 1,1 6,0 1-1 7-1 4-2 8,0 1-1 15,0 2,1 11-6 8,0 1,1 2-1 1,1 5,0 1-1 2,0 1-2 2,0-3,0-1-1 1-1 9,0 1,1 9,0 1,1 19,1 1,1-1,1-7,0 6,0 2,2 7,0 4-2 18-1-9,0-1-1 1-1 19-1 1,1 9,0 1,1 1-1 23-1 4-2 7,0 1-1 8,1 2,2 6,1 1,1 10,0 1-1 6,0 1-1 9,0 2-2 8,0 5-2 12-1 1-1 4,0 1-1 4,0 1-1 4,0 1-1 4,0 1-1 4,0 1-1 4,0 1-1 4,1 1-1 10,0 1-1 7-1 7-5 2,0 1-2 13-2 8-4 4-1 2-2 8-4 3-3 7-3 10-10 5-1 12-12 1,0 2-3 0-2 4-5 0-8-1-1 0-4 1-1zM235,194l1-1 9,0 1,1-1,1-9,0zM245,193l1-1 9,0 1,1-1,1-9,0zM165,193l1-1 9,0 1,1-1,1-9,0zM175,192l1-1 9,0 1,1-1,1-9,0zM185,191l1-1 9,0 1,1-1,1-9,0zM318,187l-1,1-6,0-1,1-11,0-1,1-11,0-1,1-10,0-1-1 1-1 9,0 1-1 9,0 1-1 9,0 1-1 11,0zM53,142l1-1 1,2-1,1zM52,139l1-1 1,2-1,1zM51,136l1-1 1,2-1,1zM50,134l1-1 1,1-1,1zM49,131l1-1 1,1-1,1zM48,128l1-1 1,1-1,1z" fill="#8f8f8f"/>
<path d="M166,195l-10,0-1,1-9,0-1,1-9,0-1,1-9,0-1,1-6,0-4-2 5,3 6,1 5-2 4,0 3-2 8,0 1-1 8,0 1-1zM61,156l0,5 4,8 9,6-8-12-3-3zM535,97l-8-9 0-2-2-3-4-2-10-12-20-10-2,0-17-9-12-1-1-1-7,0-1-1-7,0-1-1-7,0-1-1-7,0-1,1-7,0-1,1-7,0-1,1-7,0-1,1-7,0-1,1-3-1-1,1-3,0-13,7-3,0-10,5-2,2-6,0-1,1-7,0-1-1-3,0-2,2-10,1-1,1-11,0-1,1-6,0-5,4-5,2-8,1-1,1-8,1-1,1-4,0-5,2-2,0-31-16-8-1-1-1-4,0-1-2-3,0-3-2-13,0-1-1-11-1-1-1-9,0-1-1-9,0-1-1-9,0-1-1-11,0-1-1-12,0-1-1-22-1-1,1-6,0-1,1-4,0-1,1-4,0-1,1-17,2-35,17-4,41 13,33 21,28 6,4 2,0 3,2 2,0 3,2 2,0 3,2 2,0 3,2 2,0 13,6 46,0 1-1 9,0 1-1 9,0 1-1 9,0 1-1 9,0 1,1 9,0 1,1 9,0 1,1 19,1 1-1 9,0 1-1 9,0 1-1 9,0 1-1 9,0 1-1 9,0 1-1 9,0 1-1 25,1 1,1 8,1 1,1 8,0 1-1 6,0 1-1 9,0 1-1 9,0 1-1 16-1 1-1 4,0 1-1 4,0 1-1 4,0 1-1 4,0 1-1 14-2 1-1 7-1 7-3 3,0 7-3 3,0 7-3 3,0 1-1 5-1 30-15 25-25z" fill="#9f9f9f"/>
<path d="M507,106l-1-3-3-3-2-4-15-20-38-19-50,4-3,2-2,0-3,2-2,0-3,2-2,0-3,2-2,0-3,2-2,0-13,6-6,0-1,1-11,0-1,1-11,0-1,1-11,0-1,1-8,0-1,1-4,0-1,1-4,0-1,1-4,0-1,1-4,0-1,1-4,0-1,1-4,0-1,1-4,0-1,1-14,2-1,1-2,0-6,7-5,0-4-2-1-4-4-7 0-2-4-8-2-1-3,0-1-1-3,0-1-1-3,0-1-1-3,0-1-1-3,0-1-1-3,0-1-1-3,0-1-1-3,0-1-1-3,0-1-1-3,0-5-2-60-4-1,1-4,0-1,1-4,0-1,1-4,0-1,1-4,0-1,1-4,0-1,1-4,0-1,1-7,1-24,28 8,36 24,32 2,0 1,1 3,0 1,1 3,0 1,1 3,0 1,1 3,0 1,1 3,0 1,1 3,0 1,1 3,0 1,1 3,0 1,1 3,0 1,1 3,0 5,2 57-4 9-6 3-1 5-4 3-1 5-4 3-1 3-2 2-3 5,1 1,1 3,0 2,3 4,13 4,0 1,1 8,0 1,1 8,0 1,1 8,0 1,1 8,0 1,1 8,0 1,1 8,0 1,1 40,1 1,1 14,0 1-1 6,0 1-1 6,0 1-1 6,0 1-1 6,0 1-1 20-2 1-1 4,0 1-1 2,0 1-1 2,0 1-1 2,0 1-1 35-11 6-3 5-4 3-1 5-4 3-1 5-4 3-1 4-3 3-6 0-2 3-5 0-2 3-5 0-2z" fill="#afafaf"/>
<path d="M507,106l-1-3-3-3-2-4-15-20-38-19-50,4-3,2-2,0-3,2-2,0-3,2-2,0-3,2-2,0-3,2-2,0-13,6-6,0-1,1-11,0-1,1-11,0-1,1-11,0-1,1-8,0-1,1-4,0-1,1-4,0-1,1-4,0-1,1-4,0-1,1-4,0-1,1-4,0-1,1-4,0-1,1-14,2-1,1-2,0-6,7-5,0-4-2-1-4-4-7 0-2-4-8-2-1-3,0-1-1-3,0-1-1-3,0-1-1-3,0-1-1-3,0-1-1-3,0-1-1-3,0-1-1-3,0-1-1-3,0-1-1-3,0-5-2-60-4-1,1-4,0-1,1-4,0-1,1-4,0-1,1-4,0-1,1-4,0-1,1-4,0-1,1-7,1-24,28 8,36 24,32 2,0 1,1 3,0 1,1 3,0 1,1 3,0 1,1 3,0 1,1 3,0 1,1 3,0 1,1 3,0 1,1 3,0 1,1 3,0 1,1 3,0 5,2 57-4 9-6 3-1 5-4 3-1 5-4 3-1 3-2 2-3 5,1 1,1 3,0 2,3 4,13 4,0 1,1 8,0 1,1 8,0 1,1 8,0 1,1 8,0 1,1 8,0 1,1 8,0 1,1 40,1 1,1 14,0 1-1 6,0 1-1 6,0 1-1 6,0 1-1 6,0 1-1 20-2 1-1 4,0 1-1 2,0 1-1 2,0 1-1 2,0 1-1 35-11 6-3 5-4 3-1 5-4 3-1 5-4 3-1 4-3 3-6 0-2 3-5 0-2 3-5 0-2z" fill="#bfbfbf"/>
<path d="M88,96l1,7 1,1 0,4 1,1 0,4 1,1 0,4 1,1 0,4 1,1 0,4 1,1 0,4 2,4 31,23 6,0 1,1 11,0 1,1 11,0 1,1 11,0 1,1 10-1 7-3 3,0 7-3 3,0 7-3 6-1 2-1 4-5 10,2 1,1 3,0 1,1 3,0 1,1 14-2 3,6 9,1 1,1 5,0 1,1 5,0 1,1 5,0 1,1 5,0 1,1 5,0 1,1 5,0 1,1 5,0 1,1 14,0 1-1 21,0 1-1 21,0 1-1 21,0 1-1 12,0 1-1 3,0 1-1 3,0 1-1 3,0 1-1 3,0 1-1 3,0 1-1 3,0 1-1 3,0 1-1 15-3 33-20 2-5 0-6 1-1 0-6 1-1 0-6 1-1 0-3-3-3-1,0-24-21-5,0-1-1-11,0-1-1-11,0-1-1-11,0-1-1-7,0-1,1-2,0-1,1-2,0-1,1-2,0-1,1-2,0-1,1-2,0-1,1-2,0-1,1-2,0-1,1-2,0-22,8-51,0-1,1-3,0-1,1-3,0-5,2-4,0-1,1-3,0-5,2-4,0-1,1-3,0-5,2-25,0-1-1-13,0-2-2-1-4-4-8-2-1-3,0-1-1-3,0-1-1-3,0-1-1-3,0-1-1-3,0-1-1-3,0-1-1-3,0-1-1-3,0-1-1-3,0-1-1-3,0-5-2-58,2z" fill="#cfcfcf"/>
<path d="M448,105l-5-6-9-5-3,0-5-2-4,0-1-1-7,0-1-1-21,0-1,1-10,0-1,1-6,0-1,1-5,0-1,1-4,0-5,2-4,0-4,2-7,1-3,2-6,1-6,3-2,0-21,11-3,3-4,2-8,9-2,5 0,8 6,7 6,3 2,0 7,3 12,1 1,1 23,0 1-1 8,0 1-1 7,0 1-1 10-1 1-1 3,0 1-1 3,0 1-1 3,0 1-1 3,0 4-2 6-1 3-2 2,0 3-2 3,0 7-4 2,0 2-2 7-3 7-5 5-5 1,0 0-1 5-5 2-5zM112,116l0,8 1,1 0,3 2,2 3,6 1,0 6,6 5,3 2,0 2,2 2,0 7,3 9,1 1,1 18,0 1-1 9-1 1-1 5-1 3-2 2,0 7-4 8-7 2-5 2-2 0-3 1-1 0-8-3-6 0-2-10-10-12-6-2,0-4-2-3,0-1-1-5,0-1-1-18,0-1,1-9,1-1,1-8,2-2,2-2,0-5,3-10,10 0,2z" fill="#dfdfdf"/>
<path d="M448,105l-5-6-9-5-3,0-5-2-4,0-1-1-7,0-1-1-21,0-1,1-10,0-1,1-6,0-1,1-5,0-1,1-4,0-5,2-4,0-4,2-7,1-3,2-6,1-6,3-2,0-21,11-3,3-4,2-8,9-2,5 0,8 6,7 6,3 2,0 7,3 12,1 1,1 23,0 1-1 8,0 1-1 7,0 1-1 10-1 1-1 3,0 1-1 3,0 1-1 3,0 1-1 3,0 4-2 6-1 3-2 2,0 3-2 3,0 7-4 2,0 2-2 7-3 7-5 5-5 1,0 0-1 5-5 2-5zM112,116l0,8 1,1 0,3 2,2 3,6 1,0 6,6 5,3 2,0 2,2 2,0 7,3 9,1 1,1 18,0 1-1 9-1 1-1 5-1 3-2 2,0 7-4 8-7 2-5 2-2 0-3 1-1 0-8-3-6 0-2-10-10-12-6-2,0-4-2-3,0-1-1-5,0-1-1-18,0-1,1-9,1-1,1-8,2-2,2-2,0-5,3-10,10 0,2z" fill="#efefef"/>
<path d="M443,106l-3-3-7-4-3,0-5-2-4,0-1-1-7,0-1-1-19,0-1,1-10,0-1,1-6,0-1,1-5,0-1,1-4,0-5,2-4,0-4,2-7,1-6,3-6,1-21,10-6,5-4,2-7,8 0,2-1,1 0,6 4,4 4,2 2,0 7,3 12,1 1,1 21,0 1-1 8,0 1-1 7,0 1-1 10-1 1-1 3,0 1-1 3,0 1-1 3,0 1-1 3,0 4-2 6-1 8-4 3,0 16-8 7-5 10-10 0-2 1-1zM117,117l0,6 4,9 1,0 6,6 10,5 2,0 4,2 9,1 1,1 16,0 1-1 9-1 1-1 5-1 3-2 2,0 12-9 4-9 0-6-3-7-8-8-10-5-2,0-4-2-3,0-1-1-5,0-1-1-16,0-1,1-9,1-1,1-5,1-5,3-2,0-11,10z" fill="#ffffff"/>
</g>
</g></g>
<path d="M0.3,0 V65.40 H158.70" fill="none" stroke="#000" stroke-width="0.6" opacity="0.8"/>
<path d="M0.00,65.70 v-1.6 M25.39,65.70 v-1.6 M50.78,65.70 v-1.6 M76.18,65.70 v-1.6 M101.57,65.70 v-1.6 M126.96,65.70 v-1.6 M152.35,65.70 v-1.6 M0,0.00 h1.6 M0,32.85 h1.6 M0,65.70 h1.6" stroke="#000" stroke-width="0.6" fill="none"/>
<text x="156.50" y="62.50" class="w" text-anchor="end" fill="#fff" font-size="12.8">300 ns</text>
</g>
<text x="37.40" y="669.20" text-anchor="end" font-size="12.3">5</text>
<text x="37.40" y="702.05" text-anchor="end" font-size="12.3">0</text>
<text x="37.40" y="734.90" text-anchor="end" font-size="12.3"><tspan dy="1.4">−</tspan><tspan dy="-1.4">5</tspan></text>
<text x="44.72" y="745.00" text-anchor="end" font-size="12.3"><tspan dy="1.4">−</tspan><tspan dy="-1.4">8</tspan></text>
<text x="70.11" y="745.00" text-anchor="end" font-size="12.3"><tspan dy="1.4">−</tspan><tspan dy="-1.4">6</tspan></text>
<text x="95.50" y="745.00" text-anchor="end" font-size="12.3"><tspan dy="1.4">−</tspan><tspan dy="-1.4">4</tspan></text>
<text x="120.90" y="745.00" text-anchor="end" font-size="12.3"><tspan dy="1.4">−</tspan><tspan dy="-1.4">2</tspan></text>
<text x="146.29" y="745.00" text-anchor="end" font-size="12.3">0</text>
<text x="171.68" y="745.00" text-anchor="end" font-size="12.3">2</text>
<text x="197.07" y="745.00" text-anchor="end" font-size="12.3">4</text>
<clipPath id="c1_6"><rect x="0" y="0" width="158.70" height="65.70"/></clipPath>
<g transform="translate(249.00,663.80)">
<g clip-path="url(#c1_6)"><g filter="url(#jet)">
<rect x="-5" y="-5" width="168.70" height="75.70" fill="#000"/>
<ellipse cx="32.5" cy="38.2" rx="1.8" ry="1.1" transform="rotate(0.0 32.5 38.2)" fill="rgb(46,46,46)" filter="url(#bl7)"/>
<g transform="scale(0.25)" fill-rule="evenodd" filter="url(#fb)">
<path d="M387,191l-1-6-6-5 0-5-1-1 1-1 0-16 1-1 0-5-1-1 0-4-1-1 0-10-5-7 0-2-2-3 0-2-2-3 0-2-2-4-10-10 4-5 1-4-1-2-4-2-6,0-3,2-5,1-5-4 0-1-7-8-13,0-8,4-8,6-3,0-6-3-3,0-7,3-3,0-1,1-7,0-4,2-5,0-1,1-1-1-5-1-3-3-1-3-2,0-5,3-2,0-5,3-2,0 0,1-7,7-3,8-4,4-2,0-1,1-8,0-2,1-1,2 1,2 0,5-3,6-2,2-5,10 0,2-5,9-2,0-1,1-13,0-1,1-5-1-1-1-7,0-1,1-5,0-2,1-3,4 0,5 2,3 4,4 0,1 2,0 4,3 0,10 4,1 4-2 5,0 4,5 5,0 1,1 2,0 2,2 1,4 2,0 5-4 3,0 6,5 0,2 1,1 0,9 5,4 4,1 1-1 14-1 1-1 1,1 5,0 4,3 4,6 5,1 1,1 1-1 6,1 2,2 5,1 1,1 10,0 1-1 7,0 2-1 10,5 2,0 1,1 5,0 2-1 9-10 2,0 1-1 5,0 1-1 11,1 1-1 3,0 2-2 4,0 1-1 3,2 2,0 7,5 6-3 2-2 3-8 3-4 8-7z" fill="#101010"/>
<path d="M191,181l-1,1 0,2 1,1 1-2zM380,185l0-3-2-1 0-11-1-1 0-5-1-1 0-31-2-2-1-4-2-3-1-7-1-2-1,0-1-2-5-4-3-5-4-4 1-2 0-3-1-1-4,2-4,0-1-1-10-2-4-8-4-3-5,0-1,1-2,0-6,3-5,5-23,0-1,1-4,0-1,1-5,0-1,1-4,0-1,1-14,2-10,5-3-3-3-1-5,4-3,6-11,6-6,5-9,12-4,13-6,9-5,2-17,0-1-1-5,0-1,1-4,0-2,1 0,9 2,4 6,3 3,0 5,2 1-1 2,0 2,2 2,0 1,2 8,0 1,1 7,0 1-1 1,1 2,11 12,8 2,2 1,4 2,3 6,1 3-2 17,8 18,3 2,4 4,2 10,0 6-3 13,0 1,1 0,2 3,3 3,0 5-6 10,0 3-2 3,0 1-1 1,1 3,0 1-1 4,0 1-1 5,0 1-1 8-1 3-2 7,3 3,0 4-6 0-2-1-1 7-4 2-10 1-1 0-3z" fill="#202020"/>
<path d="M378,188l-1-2 1-1 0-2-1-1 0-5-1-1 0-11-1-1 0-32-3-3 0-2-2-3-1-7-2-4-10-10-2-4-3-3-2-1-2,0-1,1-1-1-7-1-2-2-6-1-1-1-24,0-1,1-18-1-5,2-7,0-1,1-4,0-3,2-9,1-8,4-2-1-5,3-2,0-11,5-4,4-5,3-4,1-3,3-2,5-6,7 0,2-3,5-1,5-6,11-2,0-2,2-2,0-1,1-15,0-1-1-5,0-5,2 0,7 2,3 2,0 4,2 5,0 1,1 2-1 8,5 4,0 3,2 5,0 2-1 2,2 2,10 17,14 6,3 2,0 5,3 4,0 8,4 3,0 1,2 5,0 1,1 1-1 2,0 2,2 10,1 1,1 4,0 1,1 37,0 1-1 5,0 1-1 5,0 1-1 4,0 1-1 5,0 1-1 4,0 1-1 4,0 8-3 3,0 8-4 2-3 5-3 1-5 2-2 0-3z" fill="#303030"/>
<path d="M376,188l0-10-1-1 0-6-1-1 0-14 1-1 0-3-1-1 0-18-3-4 0-2-2-3-1-7-2-4-5-4 0-1-10-11-2-1-9-1-3-2-6-1-1-2-15,0-1,1-27,0-1,1-4,0-1,1-5,0-1,1-4,0-1,1-14,2-5,3-2,0-4,2-4,0-3,2-2,0-2,1-1,2-3,1-3,3-6,3-6,5-8,11-1,4-2,3 0,2-2,3 0,2-4,8-6,5-5,2-9,0-1-1-5,0-1-1-4,2-2,0 1,6 6,1 1,1 8,0 1,1 2,0 3,3 2,0 8,4 4-1 3,3 2,10 1,0 6,6 4,2 5,5 6,3 10,3 3,2 2,0 5,3 14,2 1,1 3,0 3,2 8,1 1,1 4,0 1-1 35,0 5-2 4,0 1-1 4,0 1-1 5,0 1-1 4,0 1-1 8-1 3-2 5-1 12-9z" fill="#404040"/>
<path d="M168,162l3,2 8,0 0-2-6-1-1-1zM373,134l-2-3-2,0-5-5 1-2 0-4 1-1-1-4-7-7 0-2-3-4-6-5-11-2-1-1-5-1-3-2-42,1-1,1-5,0-1,1-5,0-1,1-14,2-1,1-3,0-5,3-4,0-3,2-3,0-3,2-2,0-20,14-9,12 0,2-3,7 0,6-9,18 1,3-2,5 1,1 6,0 3,3 3,10 6,6 4,2 5,5 11,5 2,0 3,2 5,1 5,3 14,2 1,1 3,0 2,2 4,0 1,1 4,0 1,1 7,0 1-1 34,0 7-3 11-1 1-1 4,0 1-1 10-2 6-3 11-9 0-2 2-3 1-6 1-1-1-2 0-10-1-1 0-14 1-1 0-7-1-1zM362,170l1-1 1,1-1,1z" fill="#505050"/>
<path d="M208,132l0,4-1,1 1,1 1,10-2,4 0,7-1,1 0,7-1,1 0,2 2,4 0,4 1,1 0,5 8,9 8,6 9,4 3,0 11,4 5,0 4-2 5,0 4,2 1,6 5,1 4,2 14,0 4-2 4,0 5,2 11,0 1-1 5-1 2-2 6-3 8,0 2,1 1-1 5,0 5-2 5,0 6-3 2-2-1-7 3-3 4-1 5-5-1-7-2-1-4,1-4,4-1-1 0-15 4-4 4,0 4-2 0-4 1-1-1-17-4-5-3-1-3-3 0-2-1-1 0-10-8-13 0-3-4-3-2,0-1,1-1-1-4,0-12-6-21,0-4,2-6-1-1-1-8,0-1,1-4,0-4,2-4,0-6,3-9,1-3,2-2,0-4,2-2,0-1-1-7,1-3,2-4,1-10,9-2,0-4,2-2,2-3,6zM358,185l1-1 1,1-1,1zM359,183l1-1 1,1-1,1z" fill="#606060"/>
<path d="M347,102l-4,0-1-1-5-1-9-5-7,4-5,0-1-1-11,0-9-4-5,0-1,1-5,1-3,2-2,0-3,2-5,0-1,1-10,2-7,3-1-1-7,0-1-1-7,2-5,5 0,1-6,6-1,0-9,10-2,1-3,4 0,6 1,1-1,1 0,6-2,3-1,19 5,9 0,4 2,4 6,6 6,3 5,1 9,6 2,0 1,1 6,0 1,1 11,0 1,1 2,0 4,3 2,6 7,1 1,1 12-6 10,0 1,1 4,0 1,1 8,0 1-1 5-1 9-5 3,0 6-3 6,0 1-1 2,0 2-2 0-4 2-2 0-2 2-3 1-5 3-6-1-2 1-2 0-6 5-6 4-1 4-4 0-8-4-10-6-7 0-2-1-1 0-9-1-2-4-4z" fill="#707070"/>
<path d="M345,104l-8-1-4-2-27-1-1-1-8,0-3-2-3,0-5,3-15,1-1,1-10,2-7,3-13,0-2,1-3,3-2,4-15,13-5,10 0,4-1,1 1,2-3,6 0,16-1,1 4,8 2,2 0,3 5,6 6,4 7,3 8,6 5,2 4,0 1,1 5-1 1,1 10,1 1,2 2,0 5,5 0,1 5,0 4-3 7,0 1-1 7,0 1,1 20,0 11-6 2,0 13-5 4-6 4-13 2-3 1-10 2-3 8-7 1-2 0-7-2-5-3-4-1-4-3-4 0-10-1-2z" fill="#808080"/>
<path d="M218,130l-2,3 0,2-2,4 1,2-5,10 0,17 8,13 0,2 9,7 1-1 16,11 27,5 2,2 2,0 3,2 12-1 1-1 10,0 1,1 19,0 9-6 2,0 7-4 5-1 5-7 0-3 2-2 5-9 2-14 4-4 1-3 2-2 0-6-2-4 0-3-2-5-2-2 0-13-9-8-5-7-9-1-1-1-5,0-1-1-7,1-1-1-5,0-1-1-11,0-1-1-7,0-1-1-3,0-5,2-16,1-1,1-2,0-4,2-3,0-7,3-2-1-1,1-7,0-5,2-7,7-1,0-1,2-7,7-1,0-3,4z" fill="#8f8f8f"/>
<path d="M359,120l-15-14-9-1-1-1-5,0-1-1-12-1-1-1-21,0-1-1-1,2-21,0-1,1-2,0-4,2-3,0-10,4-7,0-5,2-6,7-1,0-12,10-5,11 0,2-3,5 0,2-2,3 0,17 6,9 1,3 4,5 23,15 7,1 1,1 4,0 1,1 10,1 1,1 4,0 1,1 4,0 1,2 2-1 41,0 9-5 2,0 12-6 12-20 1-10 1-1 0-5 3-3 0-2 2-3-1-11-3-7z" fill="#9f9f9f"/>
<path d="M216,154l4,20 20,16 10,2 1,1 3,0 1,1 3,0 1,1 3,0 1,1 3,0 1,1 3,0 1,1 42,0 3-2 2,0 5-3 2,0 11-5 10-20 1-29-4-10 0-3-1-1-2-7-4-2-2,0-13-6-42,0-1,1-3,0-1,1-3,0-1,1-3,0-1,1-3,0-1,1-3,0-1,1-3,0-1,1-3,0-5,2-3,3-7,4-9,7-4,9-2,2z" fill="#afafaf"/>
<path d="M216,154l4,20 20,16 10,2 1,1 3,0 1,1 3,0 1,1 3,0 1,1 3,0 1,1 3,0 1,1 42,0 3-2 2,0 5-3 2,0 11-5 10-20 1-29-4-10 0-3-1-1-2-7-4-2-2,0-13-6-42,0-1,1-3,0-1,1-3,0-1,1-3,0-1,1-3,0-1,1-3,0-1,1-3,0-1,1-3,0-5,2-3,3-7,4-9,7-4,9-2,2z" fill="#bfbfbf"/>
<path d="M336,124l-16-11-33,1-1,1-3,0-1,1-3,0-1,1-3,0-1,1-3,0-1,1-3,0-1,1-10,2-15,10-6,3-11,17-2,5 1,1 5,16 24,12 6,0 1,1 11,0 1,1 11,0 1,1 10,0 1-1 10,0 1-1 15-1 12-14 0-2 1-1 0-3 1-1 0-3 1-1 0-3 1-1 0-3 2-5z" fill="#cfcfcf"/>
<path d="M336,124l-16-11-33,1-1,1-3,0-1,1-3,0-1,1-3,0-1,1-3,0-1,1-3,0-1,1-10,2-15,10-6,3-11,17-2,5 1,1 5,16 24,12 6,0 1,1 11,0 1,1 11,0 1,1 10,0 1-1 10,0 1-1 15-1 12-14 0-2 1-1 0-3 1-1 0-3 1-1 0-3 1-1 0-3 2-5z" fill="#dfdfdf"/>
<path d="M332,124l-12-8-3,0-1,1-7,0-1,1-7,0-1,1-7,0-1,1-5,0-3,2-5,1-3,2-5,1-3,2-2,0-10,4-20,20 0,1 2,3 0,2 2,3 0,2 2,3 0,2 2,4 29,0 6-3 5-1 3-2 5-1 3-2 5-1 6-3 21-14 2-4 0-4 1-1 0-4 1-1z" fill="#efefef"/>
<path d="M326,126l-7-5-2,1-7,0-1,1-7,0-1,1-7,0-1,1-5,0-3,2-5,1-3,2-2,0-6,3-10,3-17,17 1,4 2,3 0,2 2,3 0,2 25,0 6-3 5-1 3-2 5-1 3-2 2,0 7-3 18-12 3-3z" fill="#ffffff"/>
</g>
</g></g>
<path d="M0.3,0 V65.40 H158.70" fill="none" stroke="#000" stroke-width="0.6" opacity="0.8"/>
<path d="M0.00,65.70 v-1.6 M25.39,65.70 v-1.6 M50.78,65.70 v-1.6 M76.18,65.70 v-1.6 M101.57,65.70 v-1.6 M126.96,65.70 v-1.6 M152.35,65.70 v-1.6 M0,0.00 h1.6 M0,32.85 h1.6 M0,65.70 h1.6" stroke="#000" stroke-width="0.6" fill="none"/>
<text x="156.50" y="62.50" class="w" text-anchor="end" fill="#fff" font-size="12.8">300 ns</text>
</g>
<text x="245.10" y="669.20" text-anchor="end" font-size="12.3">5</text>
<text x="245.10" y="702.05" text-anchor="end" font-size="12.3">0</text>
<text x="245.10" y="734.90" text-anchor="end" font-size="12.3"><tspan dy="1.4">−</tspan><tspan dy="-1.4">5</tspan></text>
<text x="252.42" y="745.00" text-anchor="end" font-size="12.3"><tspan dy="1.4">−</tspan><tspan dy="-1.4">8</tspan></text>
<text x="277.81" y="745.00" text-anchor="end" font-size="12.3"><tspan dy="1.4">−</tspan><tspan dy="-1.4">6</tspan></text>
<text x="303.20" y="745.00" text-anchor="end" font-size="12.3"><tspan dy="1.4">−</tspan><tspan dy="-1.4">4</tspan></text>
<text x="328.60" y="745.00" text-anchor="end" font-size="12.3"><tspan dy="1.4">−</tspan><tspan dy="-1.4">2</tspan></text>
<text x="353.99" y="745.00" text-anchor="end" font-size="12.3">0</text>
<text x="379.38" y="745.00" text-anchor="end" font-size="12.3">2</text>
<text x="404.77" y="745.00" text-anchor="end" font-size="12.3">4</text>
<clipPath id="c0_7"><rect x="0" y="0" width="158.70" height="65.70"/></clipPath>
<g transform="translate(41.30,770.65)">
<g clip-path="url(#c0_7)"><g filter="url(#jet)">
<rect x="-5" y="-5" width="168.70" height="75.70" fill="#000"/>
<path d="M92.7,5.0 95.0,4.3 97.7,5.3 95.0,6.5Z" fill="rgb(46,46,46)" filter="url(#bl8)"/>
<g transform="scale(0.25)" fill-rule="evenodd" filter="url(#fb)">
<path d="M22,35l-9,10 5,0 4-3zM608,98l-2-3-1-5-2-2 0-4-1-1 3-11-2-3-16-16-1,0-4,5 0,2 1,1 0,2-1,1-6-6-3-1-2-2-5-8-1-6-11-15-6-6-2-1-8,0-1-1-4,0-3-2-2,0-3-3-4-2-4,0-6,8-3,0-1,1-7,0-1,1-7,0-1,1-7,0-1,1-6,0-4-4-2-4-2-2-2,0-5,5-4,2-7,0-4,2-6,6-5,0-1,1-4-1-3-2-2,0-6-6-5,0-1,1-4,0-2,1-1,2 0,4 2,3 0,2-1,1-4,0-1,1-4-1-1,1-4,0-2,2-8,1-1,1-4,0-1,1-4,0-1,1-4,0-1,1-4,0-1,1-5,0-4-3-7,0-8,4-7,1-1,1-6-1-2-2-5-2-5,0-7,4-10,0-5,3-7,0-1-1-11,1-1-1-5-1-4-3-5-2-13,0-5,2-11-5-8-2-3-3 3-3-1-4-6-3-7-1-7-4-8,0-3,2 0,5-3,4-9,0-1,1-19-1-1,2-8,0-1-1-1,1-3,0-2-2 0-2-2-4-3-3-3,0-1,1-9,0-1,1-3,0-1-1-11,0 0,1-10,9-5,0-1,1-4,0-2-2-5,0-2-2-2,0-1-1-16,0-12,5-6,0-15,16 0,10-3,6-2,1-2,4-5,3-2,4 0,2-4,7-2,8-2,4-6,6 0,2 7,6 0,2 2,3 0,2 2,4 9,11 0,4-4,4-1,0-3,4 0,2-1,1 1,5 6,6 8,5 5-6 0-2 2-2 2,2 1-1 6,4 12,18-1,2-4,2 0,9 2,4 3,3 3,1 8,6 2,9 6,5 5,7 3,1 2,3 2,0 4,3 1,2 2,1 3,6 6,3 2,2 6,0 6-6 3-2 7-2 9-8 12-8 3-1 4-3 3-4 4,0 1-1 11,0 4,2 5,0 3-2 14,0 1,1 0,3-4,4-1,0-2,3 8,0 1-5 4-3 8,0 1-1 6-1 3-2 10,0 1-1 4,0 1-1 14,0 1-1 5,0 1-1 6,4 2,0 1-1 6,0 1-1 1,1 4,0 8,5 16,0 1-1 4,0 4,2 6,0 1,1 5,0 1,1 6,0 2,1 1-1 5-1 7-8 2,0 1,1 11,0 4-2 12,0 1,1 5,0 1-1 14,0 1-1 8,0 2,3 4,3 6,0 4-2 9,0 1,1 2,0 2-1 3-3 2-4 4-3 4,0 1-1 4,0 1-1 4,0 1-1 4,0 1-1 4,2 4,0 2,1 4-2 5-7 4-1 3-2 2,0 3-2 3,0 2-2 4-1 1-2 2,0 3-2 2,1 3-2 3,2 6,0 10-4 4-4 4-6 2-1 10,0 4-2 4-4 2-5 5-4 15-2 5-5 2-4 0-2 1-1 0-5 1-1 0-4 5-5-1-1 1-2 0-4 7-8zM14,140l1-1 1,1-1,1zM583,65l1-1 1,1-1,1zM582,64l1-1 1,1-1,1z" fill="#101010"/>
<path d="M605,98l-1-1 0-3-1-1-1-5-4-6 1-2 0-5 2-4-1-5-7-7-1,0-2,2 0,9-1,1-1-1-2,2-4,0-3-3-2-4-7-7-4-6 0-2-4-6-2-5-6-6-6-3-5-6-5-1-4-2-3,0-3-2-2,0-2-2-5,0-2,3-7,0-3,2-14,0-1,1-7,0-1,1-6,0-2-1-1,1-7,0-1,1-7,0-1,1-7,0-1,1-7,0-1,1-14,1-1,1-4,0-1,1-4,0-1,1-4,0-1,1-4,0-1,1-4,0-1,1-4,0-1,1-14,2-6,3-4,0-1,1-4,0-1,1-4,0-1,1-2-1-7,1-1,1-2-1-5,0-7,3-7,0-1,1-10,0-3-2-4,0-3,3-56,0-11-5-7-1-4-2-3,0-8-4-8-2-1-2-5-1-6-5-6,0-2,2-7,0-1,1-13,1-1,1-3,0-1-1-11,0-3,2-11,0-4-2-7,1-1-1 1-4-3-3-5,0-2,2-2,0-1,1-2,0-4-3-2,3-6,5-20,1-5-2-5,0-4-2-9,0-1,1-5,0-3,2-3,0-1,1-8,1-8,8-6,9 0,7-1,1 0,2-6,9-4,4-1,6-5,6 0,2-2,4 0,9-2,4 1,1 0,2-1,1 1,2-1,1 2,3 0,2 2,4 4,4 0,1 1,0 5,5 2,4 0,2-4,7 1,2-1,1-3-1-4,5-1,3 5,5 3,1 3-5-1-5 2-1 2,2 2-1 1,1 5,1 6,4 1,2 3,2 2,5 7,9 2,4 0,3 2,2-2,2-1,6 4,5 4,2 3,5 1,5 3,5 3,2 7,7 0,1 1,0 4,4 3,1 9,9 10,5 6-5 9-5 9-9 6-1 4-3 2,0 3-2 3-4 5,0 1-2 4,0 4-2 3,0 1,1 7,0 1,1 7,0 1-1 7,0 1-1 10,1 1,1 11,0 1-1 6,0 1-1 11,0 4-2 9,0 1-1 6,1 1-1 6,0 1-1 6,1 1-1 6,0 1-1 8,0 7,4 7,0 4-3 5-1 1-1 11,0 1,1 0,4 4,5 7,0 2,1 1-1 6,0 5-6 2,1 2-1 4,0 1,1 9,0 5-2 15,0 2,1 1-1 12,0 4-2 4,0 1,1 9,0 3,2 6,0 1-1 7,0 1-1 3,0 3-3 3,0 6-3 3,0 7-3 18-1 3-2 4-1 5-4 13-4 11-7 13-2 9-5 2,0 4-2 3-3 8-4 4,0 8-7 1,0 5-6 3-1 3-3 1,1 5,0 7-3 4-6 0-7 4-9 1-8zM19,149l1-1 1,1-1,1z" fill="#202020"/>
<path d="M602,96l-1-1-1-5-3-4-6-11-1,1-9,0-4-4-3-6-7-8-7-15-5-6-4-2-12-10-9-1-1-2-4,0-1-1-2,0-1,1-2,0-1-1-1,1-7,0-1,1-8,0-1,1-7-1-1,1-7,0-1,1-6,0-1-1-1,1-6,0-1-1-2,1-7,0-2,2-14,1-1,1-14,1-1,1-9,0-2,2-3,0-5,2-10,1-1,1-4,0-5,2-4,0-1,1-4,0-1,1-4,0-1,1-4,0-1,1-9,1-1,1-11,0-1,1-6,0-2,2-6,0-1,1-19-1-2,2-7,0-1,1-5,0-1-1-20,0-1,1-5,0-1-1-17-1-4-2-3,0-6-3-7-1-6-3-14-4-12-7-11,1-1,1-5,0-1,1-5,0-1,1-19,0-1,1-9,0-1,1-6-1-1-1-3,0-1,1-2,0-1-1-7,0-1,1-10-1-1,1-1-2-2,1-16,1-1,1-9,0-4-2-5,0-1-1-5,0-1-1-6,0-1,1-5,0-8,3-7,1-6,6-7,10 0,7-1,1 0,2-10,14 0,2-6,10 0,2-2,4 0,15-1,1 0,3 4,9 9,8 3,0 3,3 0,3-3,2 0,6 9,6 9,9 5,9 4,4 3,6 1,8 2,4 1,6 1,0 5,6 2,8 14,13 5,3 9,9 7,4 3,0 7-6 6-3 10-9 2,0 6-6 8-1 2-2 2,0 3-2 3,0 4-2 8,0 1,1 17,0 1-1 27,1 1-1 13,0 1-1 8-1 1-1 33-1 1-1 6,0 1-1 2,1 35-1 2,2 5,0 2,3 4,2 4,0 1-1 7-1 1-1 2,0 1,1 1-1 11,1 1-1 5,0 1-1 18,0 1-1 2,1 6,0 1-1 4,0 1-1 8,0 1,1 3-1 1,1 8,1 1-1 9,0 1-1 4,0 3-2 3,0 3-2 6-1 3-2 3,0 1-1 20-2 15-8 3,0 3-2 4-1 6-5 4-2 5,0 1-1 7-1 8-4 4-1 7-6 6-3 3,0 4-2 9-9 1-2 3-1 4-3 4,0 3-3 5-1 1-4 2-2 0-2 2-4 3-16 11-11z" fill="#303030"/>
<path d="M598,93l-8-9-7-4-2,0-5-4-4-8-7-9-7-15-5-5-7-4-6-6-4-1-3-2-4,0-5-2-16,0-1,1-2-1-3,0-1,1-5,0-2-1-1,1-7,0-1,1-14,0-1-1-2,1-7,0-1,1-5,0-4,2-7,0-1,1-7,0-1,1-10,0-1,1-8,1-3,2-3,0-1,1-20,3-1,1-8,1-1,1-4,0-1,1-4,0-5,2-24,2-3,2-5,0-1,1-18-1-3,2-5,0-1,1-14,0-1-1-21,1-1-1-15-1-1-1-6-1-3-2-4,0-1-1-26-8-6-4-2,0-4-2-8,0-1,1-5,0-1,1-9,1-1,1-2,0-3,3-5,0-4-3-2,0-4,3-6,0-3-2-4,0-1-1-28,0-1-1-6,0-1,1-4,0-1,1-10,0-1,1-2,0-1-1-9-1-1-1-19,0-1,1-4,0-3,2-6,1-6,6-6,10 0,7-2,2-3,7-4,5-1,3-6,8 0,2-2,3 0,3-1,1 0,4 1,1-1,15 3,6 4,4 9,1 4,4 0,2 1,1 0,14 1,0 9,10 6,10 1,0 4,5 3,8 2,12 7,8 2,7 2,3 28,24 4,2 3,0 14-12 12-6 5-4 2,0 1-1 5-1 3-2 2,0 4-2 3,0 1-1 13,0 1,1 10,0 1-1 17,0 1,1 9,0 1-1 7,0 1-1 11,0 4-2 9,0 1-1 1,1 4,0 1-1 6,0 1-1 5,1 1-1 13,0 1-1 5,0 1,1 11,0 1-1 21,0 13,5 10,0 1-1 22,0 1-1 7,0 1-1 8,0 1,1 1-1 12,0 4-2 12,1 1,1 14,0 4-2 9-1 3-2 2,0 7-3 3,0 1-1 10-1 1-1 8,0 14-7 10-3 11-8 2,0 1-1 5,0 1-1 4,0 7-4 2,0 6-3 7-6 4-1 8-4 1-2 13-12 3,0 2-2 3-1 6-5 0-2 3-5 1-8 1-1 0-4 2-4 10-10z" fill="#404040"/>
<path d="M594,95l-1-2-6-2-8-9-3-1-4-4 0-3-3-6-6-8-5-11-6-6-3-1-10-10-4-1-3-2-3,0-2-2-4,0-1-1-35,0-5,3-4-2-6,0-1-1-2,0-1,1-7,0-1,1-6,0-1,1-7,0-3,2-9,0-1,1-2-1-1,1-5,0-1,1-8,1-6,3-9,0-1,1-9,1-11,4-5,0-1,1-4,0-5,2-23,2-1,1-8,1-1,1-18-1-3,2-4,0-5,2-2-1-9,0-1-1-22,1-1-1-6,0-1-1-7,0-11-4-4,0-3-2-3,0-12-5-7-1-14-7-16,2-2,1-4,5-10,5-12-1-1-1-6,1-7-3-3-4-8,0-1-1-2,1-8,0-1-1-14,0-5,2-2-1-2,1-11,0-1-1-4,0-1-1-6,0-1,1-1-1-12,0-1,1-4,0-3,2-6,1-4,4-4,6 0,1 1,0 3,4-1,7-7,8-6,4-2,4 0,2-6,6-3,6 0,9 1,1-1,14 3,5 11,0 5,4 2,4 0,12 4,8 2,2 0,2 6,10 3,2 2,0 4,2 2,2 1,4-2,3 0,3 1,1 0,4 1,1 1,6 8,10 1,5 3,4 7,5 14,13 6,4 4,1 10-9 11-6 2,0 4-2 3-3 3,0 3-2 3,0 2-2 3,0 3-2 4,0 5-2 3,0 1,1 25,0 1-1 5,0 1,1 14,0 1-1 16,0 1-1 5-1 4-3 3,0 4,2 25-1 1-1 15,0 1,1 2,0 1-1 27,0 1,1 3,0 3,2 4,0 2,2 3,0 1-1 2,1 3,0 1-1 22,0 7-3 6-4 6,0 4,3 2,0 8-6 5,0 2,1 4,4 0,1 2,1 2,0 1,1 5,0 1-1 15-1 3-2 7-1 2-2 8-1 5-2 14-1 14-7 2,0 11-5 3-2 0-2 2-3 4-3 3,0 2,2 8-1 9-5 4-1 9-7 9-4 15-16 3-1 12-11 2-5 0-4 1-1 1-5 2-4 8-8zM31,75l4,0 4,3 0,8-3,3-4,0-5-5 0-6z" fill="#505050"/>
<path d="M584,101l0-2-7-7-2-4-4-4-5-3-5,0-2-2 4-8 0-4-2-4 0-3-3-6-5-5-1,0-1,2 0,4-2,5-4,3-5-1-3-3-1-2 0-4-1-1 2-15-3-2-1-2-11-4-4,2-17,0-3-2-7,0-4,2-3,3-2,0-1,1-6-1-2-2-7-3-2,0-8,4-2,2-5,0-2-1-3,2-11,0-5-2-6,0-9,7-16,0-1,1-5,1-7,4-14,0-10,4-6-3-17,2-4,3-6,0-5-2-7,0-5,2-1,2-6,5-3,0-6-4-8-3-5,1-5,3-5,0-6-4-4,0-1-1-7,0-1-1-14,0-9-4-6-4-3,0-1-1-6,0-1,1-1-1-2,0-3-3-1-3-4-2-10,0-1,1-2,0-7,8-8,4-3,0-1,1-18,0-1,1-16-6-3,0-4-2-3-3-12,0-1-1-3,0-4,2 0,3-4,7 0,2-2,2-3,0-1-1 1-7-4-3-8-1-1-1-7,0-1,1-5,1-6-4-1,1-1-1-2,0-1,1-4,0-3,2-3,0-4,3 4,7 0,4-6,11 0,6 1,1 0,12-1,1-1,5-3,3-5,0-4-2-6-6-1,0-4,5 0,2-1,1 1,7 4,1 6,5 3,7 6,7 2,5 0,11 1,1 0,3 6,9 3,7 6,5 2,0 4,2 3,4 0,8-4,5 1,1 0,3 1,1 1,5 5,5 4,0 4-2 4,0 4,4 0,5-1,1 0,7 1,2 10,12 8,4 2,0 3-3 0-10-5-10 0-5 2-2 9,0 10,4 3,4 0,3-1,1 0,5 1,0 9-5 8-2 2-4 4-3 12-1 5-2 4-4 4,0 4,4 1,4 2,0 1,1 2,0 1-1 5,0 7-3 1-4 2-2 4,2 0,5-1,1 2,3 2,0 11-4 8,0 4-3 7-3 11,1 5-3 5,0 13,6 3,0 1-1 5,0 1,1 28,0 5-3 3,0 2,2 0,2 3,0 2,2 12,1 1,1 8-3 8,0 1,1 3,0 1-1 5-1 11-8 3,0 1-1 5,0 1,1 3,0 1-1 14,0 7,6 1,3 4,1 1-1 9,0 1-1 11-2 7-6 6,0 1-1 5,0 1-1 15,0 12-6 2,0 3-2 2,0 4-2 5-9 6-6 2-4 0-5 1-1 2,0 4,3 2,4 0,5 1,2 1,0 5-3 2,0 3-2 4-1 8-7 9-4 3-4 3-2 2-4 4-4-3-3-5-2-2-3 0-8 1-1 1-8 3-3 5,0 5,3 2,2 0,2 2,0 1,1-1,10 7-6 1-2-1-6zM285,188l1-1 5,0 1,1-1,1-5,0z" fill="#606060"/>
<path d="M67,184l-4,2 1,2 2,0zM456,181l-1,1 2,1 1-1zM21,92l-1,2 0,2 1,1 2,0 9,6 3,0-2-4-9-6zM578,100l-3-3-3-7-3-3-9,0-4,2-2,4-2,1-2-2 0-7 6-14-1-1 0-2-1-1-9,0-1,1-2-1-4,0-2-1-9-10-7,0-1-1-2,0-2-3 0-6 5-4-2-4-4-2-11,1-9-4-10,4-2-1-3,1-5-2-11,0-1,1-6,0-1,1-8,0-2,2-3,0-1-1-4,0-1,1-14,0-5,3-20,3-1,1-7,1-8,3-10,0-5,2-2,2-2,0-4,2-3,0-1,1-3,0-1,1-3-2-7,0-1,1-3,0-3,2-1-1-3,0-7-4-7-1-9,9-2,1-6,0-10-5-2,0-6,4-6,1-6-3-2-2-7-3-12,0-5,2-8-1-4-2-5-6-4-2-9,0-7,3-1-1-4,0-2-2 2-4 0-3-2-2-3,0-3,3-1,3-5,4-3,0-1,1-7,0-1,1-6,0-1,1-15,0-1,1-3,0-5-2-9,0-1,1-8,0-1,1-3-6-2-2-6,0-4,4-1,3-3,3-4,1-4,3-7-1-4-3 0-5-3-2-6,1-8,4-9-1-2,9-4,4-5,2-2,3-3,25-6,15 0,5 4,9 1,12 1,1 1,5 3,3 4,0 1,2 2,1 2,4 0,3 2,5 7,6 0,2 2,3 0,3 1,1 0,9 2-1 6,0 2,1 5,7 6,6 2,5-1,1-2,8 2,5 5,5 2,0 1-1 0-9-1-1 0-3-1-1-1-5 2-2 3,0 1-1 9,0 7,3 9,0 7,7 1,0 6-5 7-4 11,0 9-5 8,0 1-1 10,0 1-1 14-1 1,1 4,0 5,3 7,0 1-1 9,1 1-1 6,0 1-1 5,0 4-2 4,0 6-3 13,0 1,1 1-1 5,0 1-1 5,0 1-1 11,0 7,5 0,4 2,2 4,0 4-2 3-3 10,0 5,4 0,5-1,2 2,1 7,0 4-4 2,0 1-1 14,1 9-6 4,0 8-3 2,0 1,1 5,0 1-1 25,0 1-1 5,0 1,1 1,5 6,0 2-2 0-5-1-1 12-6 7,0 1-1 1,1 2,0 1-1 5,0 4-3 2,0 3-2 3,0 1-1 2,0 6,4 4,0 1,1 1-1 5-1 2-3 10-9 1-6 3-6 4-3 4,0 4-2 1,1 3,0 3,3 3,8 2,1 2-1 3-8 2-2 8-4 0-3-3-3 0-3 3-4 0-2 1-1 0-11-1-1 0-3 9-13 3,0 5,4 6,3 6,1 5-4zM419,188l1-1 1,1-1,1z" fill="#707070"/>
<path d="M563,92l-1,1 0,6 3,3 3,1 2-2 0-3-4-6zM548,73l-2,0-1-1-6,0-8-5-5-5-4-2-5-1-3-2-4-6 0-7-2-2-5-2-3,0-3-2-3,0-1-1-1,1-1-1-2,0-1,1-10,0-5-2-7,0-1,1-7,0-2,2-9,0-1,1-22,0-11,4-10,1-1,1-9,1-7,3-15,2-6,3-3,0-3,2-6,1-1,1-21,2-1-1-5,0-5-3-4,0-6,5-2,0-3,2-3,0-1,1-1-1-8,0-1-1-5,0-4,2-10,0-12-5-21-1-1-1-7-1-6-3-6-5-12,1-1,1-2,0-1-1-8,0-1-1-12,0-1,1-9,0-1,1-5,0-1,1-11,0-1,1-5,0-5-2-8,0-5,2-8,0-3-2-5,0-1,1-5,1-9,6-6,0-1,1-5-2-4-3-8,0-8,3-9,7-6,2-2,2-1,5-1,1-1,13-1,1 1,4-1,1 0,5-2,4 0,3-2,3 0,6 2,5 0,5 1,1 1,6 2,4 10,10 1,4 2,3 0,3 7,7 0,2 5,9 3,2 15,16 2,1 15,0 1,1 6,1 3,2 10,0 1,1 5,0 1,1 2,0 4-3 3,0 4-2 9,0 1-1 7-1 3-2 16-1 4-2 13,0 1,1 6,0 1,1 30,0 1-1 8-1 1-1 2,0 2-2 3,0 1-1 10,0 1,1 3,0 1-1 7,0 1-1 16,0 7,5 5,2 2,0 1-1 13,0 3,2 7,1 1,2 2,1 4,0 1-1 17,0 4-2 9-1 2-2 13,0 1-1 1,1 12,0 1-1 9,0 4-2 15-3 9-4 3,0 5-2 2,1 1-1 4,0 9-4 9-1 1-1 5,0 13-5 3,0 5-4 3-11 3-3 5-2 3,0 6-3 6-4 10-10 2-4 0-10 9-8 2-5-3-8-1-8-1-1 1-3 4-5z" fill="#808080"/>
<path d="M196,185l12,1 1,1 9,0 1-1 20,1 1-1 7-1zM70,164l3,6 13,13 0,1 7,6 15,0 10,5 19,1 8-3 6,0 1-1 5,0 1-1 7-1 3-2 13-1-15,1-1,1-8,0-1,1-5,0-1,1-6,0-1,1-6,0-1,1-17,2-3-2-5-1-3-2-5-1-3-2-2,0-10-4zM544,96l-7-19-7-6-3,0-2-3-13-12 0-1-6-6 1-2-3-4-10-4-10,0-2,1-1-1-3,0-5-2-6,0-1,1-9,0-1,1-9,0-1,1-17,1-1,1-5,0-5,2-4,0-1,1-4,0-1,1-14,2-1,1-3,0-8,3-10,1-1,1-8,2-4,3-6,1-1,1-15,0-1,1-7,0-1-1-8,0-1-1-2,0-3,2-5,1-4,3-13,0-1-1-5,0-1,1-5,0-1,1-7,0-9-4-7,0-1-1-4,0-1-1-2,1-1-1-4,0-1-1-2,0-1,1-2-1-4,0-2-2-5-1-4-3-2,0-2-2-12,0-2,1-1-1-11,0-1-1-11,0-1,1-9,0-1,1-15,0-1,1-17-1-1,1-8,1-1,1-3,0-7-3-1,1-6,1-4,3-12,1-1,1-7,0-1,1-4-3-4,0-1,1-5,1-8,6-6,3-2,0-3,3-1,7-1,1 0,12 1,1 0,6-1,1 0,3-2,2 0,2-2,3 0,5 1,1 0,8 1,1 0,4 3,6 8,7-2-4-2-8-2-3-2-8-3-6 1-8 1-1 1-8 1-1 0-4 1-1 0-4 2-5 1,1 0,5-1,1 0,9-1,1-1,16 1,1 0,3 3,7 0,3 3,7 0,3 1,1 4,14 24,24 4,1 3,2 5,1 3,2 5,1 3,2 5,1 3,2 16-1 1-1 9,0 1-1 9,0 1-1 9,0 1-1 9,0 1-1 9,0 1-1 9,0 1-1 54,0 1-1 19,0 1-1 11,0 1,1 4,0 1,1 4,0 1,1 10,1 1,2 2,0 3,2 2-1 15,1 1,1 7,1 2,2 23,0 4-2 6,0 4-2 32-1 1-1 3,0 1-1 3,0 1-1 3,0 1-1 3,0 1-1 3,0 1-1 3,0 1-1 3,0 1-1 3,0 1-1 15-3 11-5 10-1 1-1 5,0 6-3 8-2 3-3 1-5 14-14 2,0 10-5 6-6 2-5 0-7-2-4 5-7 5,0 4-3zM54,77l1-1 1,1-1,1z" fill="#8f8f8f"/>
<path d="M161,189l-10,1-1,1-6,0-1,1-6,0-1,1-5,0-2,1 2,0 1-1 4,1 4-2zM89,183l0,1 5,3 6,0-5-1zM48,115l0,4 1,1-1,2 1,1 0,5 2,3 0,2 5,5-2-8-2-3 0-2zM541,95l-1-1 0-3-4-7-5-4-2,0-1-1-1-6-24-28-4-1-2-2-2,0-1-1-4,0-1-1-1,1-2,0-1-1-3,0-1-1-3,0-5-2-16,1-1,1-9,0-1,1-9,0-1,1-7,0-1,1-4,0-1,1-4,0-1,1-4,0-1,1-4,0-1,1-4,0-1,1-4,0-1,1-8,1-1,1-6,1-7,3-3,0-7,3-3,0-7,3-9,1-1,1-9,0-1,1-13,0-1-1-6,0-3,2-6,1-1,1-9,0-1,1-9,0-1,1-9,0-1,1-5,0-2-2-2,0-4-2-3,0-1-1-8,0-1-1-3,0-5-2-4,0-1-1-14-2-1-2-3,0-2-2-14,0-1-1-48,0-1,1-12,0-1,1-23,1-1,1-7,0-1,1-7,0-1,1-15,1-1,1-4,0-1,1-7,1-4,3-14,6-2,4 0,4-1,1 0,7 1,2 1-8 1-1 1,1-3,32 1,1 0,3 3,7 0,3 3,7 0,3 1,1 4,14 24,24 4,1 3,2 5,1 3,2 5,1 3,2 5,1 3,2 16-1 1-1 9,0 1-1 9,0 1-1 9,0 1-1 9,0 1-1 9,0 1-1 9,0 1-1 54,0 1-1 19,0 1-1 11,0 1,1 4,0 1,1 4,0 1,1 5,0 1,1 4,0 1,1 4,0 1,1 25,2 3,2 9,0 1,1 1-1 10,0 1-1 13,0 1-1 13,0 1-1 22-1 1-1 3,0 1-1 3,0 1-1 3,0 1-1 3,0 1-1 3,0 1-1 3,0 1-1 3,0 1-1 15-3 11-5 2,0 3-2 2,0 3-2 7-1 2-1 1-2 2,0 3-2 2,1 1-2 3-1 24-24 2,0 6-6 1-2 0-5 1-1-1-2 7-12-1-3 1-1 1,1 4-1 1-2zM54,77l1-1 1,1-1,1z" fill="#9f9f9f"/>
<path d="M507,97l-20-32-8-4-2,0-5-3-2,0-7-4-2,0-5-3-4,0-1,1-7,0-1,1-7,0-1,1-7,0-1,1-7,0-1,1-13,1-1,1-2,0-1,1-2,0-1,1-2,0-1,1-2,0-1,1-2,0-1,1-2,0-1,1-2,0-1,1-2,0-22,8-6,0-1,1-11,0-1,1-11,0-1,1-11,0-1,1-8,0-1,1-4,0-1,1-4,0-1,1-4,0-1,1-4,0-1,1-4,0-1,1-4,0-1,1-4,0-1,1-14,2-1,1-2,0-9,11-2,0-4-2-1-4-4-7 0-2-4-8-8-3-3,0-13-5-3,0-4-2-16,0-1-1-31,0-1-1-19,0-1,1-5,0-1,1-6,0-1,1-6,0-1,1-5,0-1,1-10,1-24,26 0,4 1,1 0,7 1,1 0,7 1,1 0,7 1,1 0,3 19,31 4,2 3,0 1,1 3,0 1,1 3,0 1,1 3,0 1,1 3,0 1,1 3,0 1,1 3,0 1,1 3,0 1,1 3,0 1,1 3,0 5,2 22-1 1-1 13,0 1-1 13,0 1-1 7,0 30-15 1-2 2-1 1,1 3,0 5,2 5,15 6,0 1,1 11,0 1,1 12,0 1,1 12,0 1,1 11,0 1,1 12,0 1,1 11,0 1,1 11,0 1,1 11,0 1,1 9,0 1-1 7,0 1-1 7,0 1-1 7,0 1-1 7,0 1-1 7,0 1-1 7,0 1-1 12-1 1-1 2,0 1-1 2,0 1-1 2,0 1-1 2,0 1-1 2,0 1-1 2,0 1-1 2,0 1-1 2,0 1-1 2,0 1-1 2,0 1-1 16-5 28-24z" fill="#afafaf"/>
<path d="M507,97l-20-32-8-4-2,0-5-3-2,0-7-4-2,0-5-3-4,0-1,1-7,0-1,1-7,0-1,1-7,0-1,1-7,0-1,1-13,1-1,1-2,0-1,1-2,0-1,1-2,0-1,1-2,0-1,1-2,0-1,1-2,0-1,1-2,0-1,1-2,0-22,8-6,0-1,1-11,0-1,1-11,0-1,1-11,0-1,1-8,0-1,1-4,0-1,1-4,0-1,1-4,0-1,1-4,0-1,1-4,0-1,1-4,0-1,1-4,0-1,1-14,2-1,1-2,0-9,11-2,0-4-2-1-4-4-7 0-2-4-8-8-3-3,0-13-5-3,0-4-2-16,0-1-1-31,0-1-1-19,0-1,1-5,0-1,1-6,0-1,1-6,0-1,1-5,0-1,1-10,1-24,26 0,4 1,1 0,7 1,1 0,7 1,1 0,7 1,1 0,3 19,31 4,2 3,0 1,1 3,0 1,1 3,0 1,1 3,0 1,1 3,0 1,1 3,0 1,1 3,0 1,1 3,0 1,1 3,0 1,1 3,0 5,2 22-1 1-1 13,0 1-1 13,0 1-1 7,0 30-15 1-2 2-1 1,1 3,0 5,2 5,15 6,0 1,1 11,0 1,1 12,0 1,1 12,0 1,1 11,0 1,1 12,0 1,1 11,0 1,1 11,0 1,1 11,0 1,1 9,0 1-1 7,0 1-1 7,0 1-1 7,0 1-1 7,0 1-1 7,0 1-1 7,0 1-1 12-1 1-1 2,0 1-1 2,0 1-1 2,0 1-1 2,0 1-1 2,0 1-1 2,0 1-1 2,0 1-1 2,0 1-1 2,0 1-1 2,0 1-1 16-5 28-24z" fill="#bfbfbf"/>
<path d="M487,97l-24-28-49,0-1,1-3,0-4,2-3,0-4,2-3,0-4,2-3,0-4,2-3,0-4,2-3,0-1,1-6,1-8,3-6,0-1,1-11,0-1,1-11,0-1,1-11,0-1,1-8,0-1,1-3,0-1,1-3,0-5,2-4,0-1,1-3,0-5,2-4,0-1,1-3,0-5,2-25,0-1-1-13,0-2,1-2-2 0-2-2-3-1-4-2-1-3,0-1-1-3,0-1-1-3,0-1-1-3,0-1-1-3,0-1-1-3,0-1-1-3,0-1-1-3,0-5-2-58,2-12,8-3,1-5,4-3,1-5,4-3,1-1,1 0,4 1,1 0,7 1,1 0,7 1,1 0,7 1,1 0,3 28,24 49,4 1-1 3,0 1-1 2,0 4-2 3,0 7-3 3,0 7-3 6-1 4-3 1,1 3,0 1,1 3,0 1,1 3,0 1,1 3,0 5,2 14-2 3,6 5,0 1,1 10,0 1,1 10,0 1,1 10,0 1,1 10,0 1,1 87,0 1-1 4,0 5-2 9-1 5-2 4,0 1-1 4,0 5-2 4,0 1-1 4,0 1-1 6-1 31-19 2-4 0-3 1-1 0-3 1-1 0-3 1-1 0-3 1-1 0-3 1-1 0-3 1-1z" fill="#cfcfcf"/>
<path d="M446,106l-2-4-8-6-8-3-8-1-1-1-25-1-1,1-12,0-1,1-12,1-1,1-4,0-5,2-4,0-1,1-3,0-7,3-3,0-6,3-10,3-2,2-13,6-3,3-3,1-9,9-4,6 0,10 5,6 10,5 6,1 1,1 4,0 1,1 9,0 1,1 28-1 1-1 6,0 1-1 4,0 1-1 5,0 5-2 4,0 4-2 7-1 3-2 6-1 3-2 2,0 5-3 2,0 4-2 2-2 10-5 4-3 11-12 1-2zM114,112l0,7 1,1 0,3 2,4 7,7 14,7 3,0 4,2 6,0 1,1 16,0 1-1 10-1 3-2 7-2 4-2 10-9 3-8 0-7-2-3 0-2-6-7-9-6-2,0-8-4-10-1-1-1-16,0-1,1-6,0-1,1-6,1-3,2-2,0-9,5-6,6z" fill="#dfdfdf"/>
<path d="M446,106l-2-4-8-6-8-3-8-1-1-1-25-1-1,1-12,0-1,1-12,1-1,1-4,0-5,2-4,0-1,1-3,0-7,3-3,0-6,3-10,3-2,2-13,6-3,3-3,1-9,9-4,6 0,10 5,6 10,5 6,1 1,1 4,0 1,1 9,0 1,1 28-1 1-1 6,0 1-1 4,0 1-1 5,0 5-2 4,0 4-2 7-1 3-2 6-1 3-2 2,0 5-3 2,0 4-2 2-2 10-5 4-3 11-12 1-2zM114,112l0,7 1,1 0,3 2,4 7,7 14,7 3,0 4,2 6,0 1,1 16,0 1-1 10-1 3-2 7-2 4-2 10-9 3-8 0-7-2-3 0-2-6-7-9-6-2,0-8-4-10-1-1-1-16,0-1,1-6,0-1,1-6,1-3,2-2,0-9,5-6,6z" fill="#efefef"/>
<path d="M441,107l-3-4-3-1-2-2-2,0-4-2-3,0-1-1-4,0-1-1-9,0-1-1-26,1-1,1-12,1-1,1-4,0-5,2-4,0-1,1-3,0-1,1-2,0-4,2-3,0-6,3-5,1-18,9-3,3-3,1-8,8-3,5 0,6 3,4 8,4 6,1 1,1 4,0 1,1 9,0 1,1 26-1 1-1 6,0 1-1 4,0 1-1 5,0 5-2 4,0 4-2 7-1 3-2 6-1 3-2 2,0 5-3 4-1 2-2 10-5 4-3 10-11zM119,113l1,9 7,8 12,6 3,0 4,2 6,0 1,1 14,0 1-1 5,0 1-1 4,0 3-2 7-2 11-9 1-5 1-1 0-5-3-6-8-7-4-1-3-2-2,0-3-2-10-1-1-1-14,0-1,1-6,0-1,1-6,1-3,2-2,0-7,4-5,5z" fill="#ffffff"/>
</g>
</g></g>
<path d="M0.3,0 V65.40 H158.70" fill="none" stroke="#000" stroke-width="0.6" opacity="0.8"/>
<path d="M0.00,65.70 v-1.6 M25.39,65.70 v-1.6 M50.78,65.70 v-1.6 M76.18,65.70 v-1.6 M101.57,65.70 v-1.6 M126.96,65.70 v-1.6 M152.35,65.70 v-1.6 M0,0.00 h1.6 M0,32.85 h1.6 M0,65.70 h1.6" stroke="#000" stroke-width="0.6" fill="none"/>
<text x="156.50" y="62.50" class="w" text-anchor="end" fill="#fff" font-size="12.8">400 ns</text>
</g>
<text x="37.40" y="776.05" text-anchor="end" font-size="12.3">5</text>
<text x="37.40" y="808.90" text-anchor="end" font-size="12.3">0</text>
<text x="37.40" y="841.75" text-anchor="end" font-size="12.3"><tspan dy="1.4">−</tspan><tspan dy="-1.4">5</tspan></text>
<text x="44.72" y="851.85" text-anchor="end" font-size="12.3"><tspan dy="1.4">−</tspan><tspan dy="-1.4">8</tspan></text>
<text x="70.11" y="851.85" text-anchor="end" font-size="12.3"><tspan dy="1.4">−</tspan><tspan dy="-1.4">6</tspan></text>
<text x="95.50" y="851.85" text-anchor="end" font-size="12.3"><tspan dy="1.4">−</tspan><tspan dy="-1.4">4</tspan></text>
<text x="120.90" y="851.85" text-anchor="end" font-size="12.3"><tspan dy="1.4">−</tspan><tspan dy="-1.4">2</tspan></text>
<text x="146.29" y="851.85" text-anchor="end" font-size="12.3">0</text>
<text x="171.68" y="851.85" text-anchor="end" font-size="12.3">2</text>
<text x="197.07" y="851.85" text-anchor="end" font-size="12.3">4</text>
<clipPath id="c1_7"><rect x="0" y="0" width="158.70" height="65.70"/></clipPath>
<g transform="translate(249.00,770.65)">
<g clip-path="url(#c1_7)"><g filter="url(#jet)">
<rect x="-5" y="-5" width="168.70" height="75.70" fill="#000"/>
<ellipse cx="31.0" cy="38.5" rx="1.8" ry="1.1" transform="rotate(0.0 31.0 38.5)" fill="rgb(46,46,46)" filter="url(#bl7)"/>
<g transform="scale(0.25)" fill-rule="evenodd" filter="url(#fb)">
<path d="M124,105l0,7 1,1 0,2 4,5 2,0 1,1 8,0 5,3 2,0 7,6 0,9-5,6 0,15 5,5 7,4 2,0 4,2 4,0 3,3 4,1 5,4 0,3 2,5 4,4 4,0 7-4 5,0 7,7 2,0 6,4 3,0 6,3 1,2 4,2 1-1 3,2 2,0 4,2 7,1 1,2 8,1 10,8 9,0 5,2 4,3 3,0 1,1 17,0 1-1 0-2 3-3 5-2 3-4 7,0 1-1 5,0 8,3 5,4 4,0 7-4 3-3-1-7 2-2 4-1 5-3 1,1 5,0 1-1 9-1 5-6 0-3-2-4-6-7 0-5-1-1 1-1 0-9 1-1 0-2-1-1 1-14 4-2 4-4 0-1-2-3-5-2 0-6-2-2 0-12-1-1 0-8-1-1 0-2-3-3-3-7-6-8-3,0-3,2-11-5-8,0-2-3-14-10-5,0-1,1-1,5-1,1 0,3-1,1-29,0-5-3-3,0-1-1-6,0-8,3-6,0-11-10-14,0-7,6-5,0-5-2-2,1-6,0-19,7-12,0-1,1-20,0-4-5-3,0-11,6-4,0-5,2-1,2 0,8-3,6zM195,167l1-1 1,2-1,1zM163,126l4-3 6,3-3,3-3,0z" fill="#101010"/>
<path d="M128,100l0,3 1,1-2,3 0,3 3,4 4,0 4,3 6,3 3,0 5,3 6,0 2-2 16,1 3,5-3,3-2,0-1,1-8,0-1,1-4,0 0,14-2,2-2,0-4,3 0,3 3,6 3,3 6,3 2,0 2,2 7,3 5,4 3,1 1,2 2,1 0,4 3,4 2,1 4-1 6-6 13,13 4,1 3,2 3,0 6,4 11,5 10,2 3,2 3,0 6,3 6,1 1,1 14,0 3,2 18,0 3-2 9,0 1-1 10-1 1-1 4,0 1,1 8-1 4,3 4,0 3-3 0-2-1-1 4-2 1-2 5-2 4-3 6-1 3-3 9,0 2-1 2-3 0-2-6-12 0-9 1-1 0-14-1-1 1-1 0-9 1-1 0-4 1-1-1-9-2-4 1-2 0-7-2-4 0-6-4-9-2-2-2-5-5-3-2,1-1-1-5-1-3-2-2,0-3-2-4,0-4-2-7,0-2-2-6-2-2,3-11,0-1,1-5,0-1-1-54,0-1-1 0-3-4-4-2-1-7,0-3,2-2,5 1,1-1,1-12,0-3-2-5,0-8,3-27,0-2,2-17,0-1-1-2,0-1,1-3,0-1,1-15,3-4,2-2,5-2,2-1,4zM196,165l1,1 0,4 2,5-1,1-3-2 0-5-1-2z" fill="#202020"/>
<path d="M129,101l0,8 1,1 0,2 3,2 3,0 8,6 32,2 11,6-1,1-9,1-4,2-12,1 0,3 1,1 0,11-2,5 0,7 7,5 7,3 5,4 3,1 7,7 2,4 2,0 2-2 0-7-2-5 0-4 3-2 3,3 0,6 1,1 0,3-1,1 2,1-1,1 3,1 13,13 8,2 12,7 2,0 7,3 7,1 6,3 3,0 3,2 2,0 4,2 12,0 1,1 26,0 1-1 6,0 4-2 7,0 1-1 8,0 1,1 1-1 5,0 2,1 7-4 4-4 6-4 2,0 13-7 5-6 0-6-2-4 1-12 1-1 0-5-1-1 0-20 1-1 0-9-1-1 0-13-1-1 0-7-2-2 0-2-2-2 0-2-2-2 0-2-3-4-4-2-8-2-7-4-3,0-1-1-3,0-5-2-11,0-1-1-5,0-1,1-34,0-1-1-19,0-1,1-9,0-1-1-10,0-1-1 1-1 0-2-1-1-3,0-1,1 0,2 1,1-1,1-6,0-1,1-10,0-1-1-3,0-1,1-21,0-1,1-16,0-1,1-6,0-1,1-10,0-1-1-4,0-2,1-2-1-1,1-3,0-1,1-3,0-1,1-10,2-2,3 0,3z" fill="#303030"/>
<path d="M130,101l0,7 1,1 0,2 5,2 3,3 6,3 3,0 5,2 5,0 1-1 17,1 4,2 1,2 5,2 1,1-3,2-6,1-6,3-6,0-1,1-2,0 0,2 1,1 0,5 1,1-2,14 6,5 3,1 8,6 3,1 6,6 0,1 2,0 2,2 1,0 0-4-3-6 0-5 3-2 4,1 2,3 1,10 1,2 12,12 5,3 10,3 2,2 6,3 11,1 6,4 2,0 3,2 2,0 10,4 12,0 1,1 24,0 1-1 6,0 4-2 8,0 1-1 16,0 6-3 11-8 12-6 4-3 2-3 0-3 1-1 0-2-1-1 0-11 1-1-1-32 1-1 0-6-1-1 0-14-1-1 0-6-8-16-10-3-4-3-2,0-2-2-7-1-3-2-13,0-1-1-22,1-1-1-56,0-1-1-6,0-1,1-5,0-1,1-10,0-1-1-3,0-1,1-26,0-1,1-11,0-1,1-9,0-1,1-15-1-1,1-8,1-1,1-3,0-1,1-5,1z" fill="#404040"/>
<path d="M131,101l0,6 1,1 0,2 6,3 8,6 6,0 1,1 10,0 1-1 3,0 1,1 5,0 1,1 3,0 10,5 2,2-2,3-4,0-2,2-4,0-5,3-5,0-1,1 1,8 1,1 0,9-1,2 2,2 4,2 8,7 3,1 4,3 3,4 1,0-4-7 1-5 3-2 4,0 2,1 3,4 1,6 1,1 0,4 8,8 0,1 8,6 11,0 6,3 2,2 5,2 15,1 4,4 1,4 2,0 3,2 2,0 1,1 12,0 1,1 24,0 1-1 6,0 4-2 5,0 1-1 20-1 10-7 3-1 3-3 7-3 9-10 0-13 1-1 1-10-1-1-1-7-5-7 0-7 2-3 0-2 1-1 0-5 1-1 0-9-4-6 0-5-1-1 2-5-5-8-5-2-6,0-4-2-4-4-6-3-6,0-1-1-17,0-1,1-5,1-1-1-4,0-1-1-21,0-1-1-14,0-1,1-21,0-1-1-6,0-1,1-5,0-1,1-10,0-1-1-38,1-1,1-3,0-11,4-7,0-4-3-4,0-1,1-11,1-1,1-5,1-2,2-1,4-2,3 0,2z" fill="#505050"/>
<path d="M136,90l-1,8-3,3 1,2 0,5 1,2 4,2 7,6 4,0 1,1 13,0 1-1 6,0 1,1 6,1 10,5 3,3 0,2-3,3-3,0-3,2-3,0-4,3-5,1 1,4 6,6 0,3-2,2-2,0 0,2 2,2 2-2 5,4 14,0 10,6 3,3 0,5-1,1 1,5 3,5 6,5 14,0 11,7 3,0 1,1 15,0 1,1 5,1 2,2 0,4 3,5 11,0 1,1 24,0 1-1 3,0 6-5 3,0 4-2 5,0 4,2 9,1 6-3 10-10 9-5 2,0 4-6-3-4 0-5 6-8 0-7-6-6-4-8 0-7 4-7 0-6-5-10 0-13-1-1 0-2-2-2-12-6-10-9-2,0-1-1-10,0-2-1-8,4-8,0-4-2-8,0-1,1-5,1-7-4-18,0-1,1-3,0-3,2-2,0-6,4-3,0-2-2 3-4-2-1-10,1 0,2-2,2-6,0-6-4-25,0-4,2-8,1-1,1-4,0-1,1-7,1-4,2-10,0-5-3-5,0-2-1-1,1-10,2z" fill="#606060"/>
<path d="M371,165l0-5-1-2-9-11 0-9 1-1 0-3 3-4 0-4-3-2 0-4-1-1 1-14-2-3-3-1-15-15-6-3-9,0-8,3-10,0-1-1-5,0-1-1-2,1-5,0-1,1-5,0-1-1-3,0-6-4-6,0-1,1-6,1-6,4-5,0-3,2-4,0-1-1-6,1-1-1-1,1-13,1-1,1-2,0-3,3-1-1 0-8-1-1-19,0-8,3-17,1-4,2-14,0-1,1-3,0-3-2-9,0-2,4 0,3 1,1 0,6-1,1 0,2 4,4 4,6 5,2 7,0 6-3 7,0 1,1 5,1 7,6 4,1 6,5 0,1-4,4-3,2-2,0-2,3 1,8 1,1 0,4 2,3 8,2 7,4 6,1 3,3 3,8 0,3-1,1 1,1 0,3 2,3 5,3 9,0 6,3 6,5 2,0 1,1 7,0 1,1 5-1 1,1 9,1 3,2 5,1 4,5 8,5 16,0 7-6 4-2 4,0 7-3 9,0 7-3 5-8 7-7 6,1 3-3 3-9z" fill="#707070"/>
<path d="M361,167l0-11-4-8 0-4 1-1 0-9 1-1 0-5-1-1 1-20-15-17-4-2-2,0-2-2-16,0-1,1-24-1-1,1-5,0-1-1-6,0-1-1-8-1-1,1-8,1-4,2-4,0-3,2-14,0-1,1-5,0-1,1-9,1 0,1-5,5-1-1 0-9-1-1-31,0-1,1-11,0-3,2-5,0-1,1-3,0-1-1-10,1-1-1-1,1-5,0-1,1 0,5 1,1 1,5 4,8 3,3 6,0 1-1 9-1 1,1 15,1 10,5 3,0 8-3 1,1-1,7-2,2-4,9-6,7-1,2 0,5 4,4 6,3 6,1 5,5 3,6 2,8 7,6 11,5 8,6 2,0 1,1 13,0 1,1 10,1 13,5 6,5 11,0 6-5 2,0 1-1 12,0 5-3 2,0 2-2 3,0 2-2 5-2 4-3 14-15 1-4z" fill="#808080"/>
<path d="M358,166l0-3-1-1-1-7-1-1 0-11 1-1 0-12-1-1 0-11 1-1 0-2-1-1 1-1 0-6-5-5 0-1-3-2-4-8-2,0-3-2-2,0-1-1-5,0-1-1-11,0-1,1-9,0-1-1-27,0-1-1-16,1-3,2-15,1-1,1-5,0-1,1-5,0-1,1-9,1-7,8-1-1 0-11-3,0-1-1-28,0-1,1-10,0-1,1-7,0-1,1-7,0-1,1-6,0-1-1-1,1-5,0 0,3 1,1 2,8 2,2 3,6 12,0 1-1 4,0 1,1 5,0 1,1 11,0 1,1 4,0 1,1 10,0 5-2 2,2 0,2-1,1-1,5-2,3-1,6-2,3-2,11 1,2 3,2 1,3 9,8 0,2 5,9-1,1 1,2 7,6 9,4 8,7 3,0 1,1 12,0 1,1 17,2 2,2 2,0 4,2 16,0 1-1 8,0 1-1 6,1 1-1 3,0 9-5 2,0 2-2 5-2 7-6 2-4 6-6z" fill="#8f8f8f"/>
<path d="M224,94l-15,18 0,13-2,3 0,2-2,4 0,11 3,5 0,3 2,1 4,8 0,2 7,13 23,15 9,1 1,1 5,0 1,1 5,0 1,1 5,0 1,1 5,0 1,1 7,0 1,1 34-1 24-14 6-13 2-1 1-2-1-1 2-1-1-1 1-1 0-7 1-1 0-13 1-1 0-12-1-1 0-13-1-1 0-7-10-16-6-1-3-2-4,0-1-1-5,0-1,1-1-1-22,0-1-1-25,0-1,1-9,0-1,1-18,1-1,1-5,0-1,1-5,0-1,1z" fill="#9f9f9f"/>
<path d="M219,120l0,29 3,6 1,5 2,3 1,5 3,5 4,2 3,3 12,8 9,1 1,1 6,0 1,1 5,0 1,1 5,0 1,1 43,0 20-15 1-7 1-1 0-4 2-5 0-4 1-1 0-34-9-18-3,0-1-1-7,0-1-1-7,0-1-1-57,0-1,1-9,0-1,1-10,0-1,1-5,0z" fill="#afafaf"/>
<path d="M219,120l0,29 3,6 1,5 2,3 1,5 3,5 4,2 3,3 12,8 9,1 1,1 6,0 1,1 5,0 1,1 5,0 1,1 43,0 20-15 1-7 1-1 0-4 2-5 0-4 1-1 0-34-9-18-3,0-1-1-7,0-1-1-7,0-1-1-57,0-1,1-9,0-1,1-10,0-1,1-5,0z" fill="#bfbfbf"/>
<path d="M226,124l2,32 5,9 2,2 1,3 2,2 1,3 3,2 2,0 19,7 42,0 1-1 22-7 2-4 0-2 2-3 0-2 2-3 0-2 2-3 2-30-1-1-5-16-2,0-1-1-4,0-1-1-4,0-1-1-4,0-1-1-49,0-1,1-15,0-1,1-8,0z" fill="#cfcfcf"/>
<path d="M226,124l2,32 5,9 2,2 1,3 2,2 1,3 3,2 2,0 19,7 42,0 1-1 22-7 2-4 0-2 2-3 0-2 2-3 0-2 2-3 2-30-1-1-5-16-2,0-1-1-4,0-1-1-4,0-1-1-4,0-1-1-49,0-1,1-15,0-1,1-8,0z" fill="#dfdfdf"/>
<path d="M336,128l-8-16-33-2-7,3-3,0-1,1-20,6-15,22-1,3 4,11 2,0 1,1 4,0 1,1 4,0 1,1 4,0 1,1 35-2 3-2 2,0 5-3 2,0 11-5z" fill="#efefef"/>
<path d="M330,127l-5-10-29-2-1,1-2,0-4,2-3,0-13,5-6,1-12,18-1,5 2,5 4,0 1,1 4,0 1,1 4,0 1,1 33-2 10-5 2,0 3-2 4-1 2-2 0-2 4-8z" fill="#ffffff"/>
</g>
</g></g>
<path d="M0.3,0 V65.40 H158.70" fill="none" stroke="#000" stroke-width="0.6" opacity="0.8"/>
<path d="M0.00,65.70 v-1.6 M25.39,65.70 v-1.6 M50.78,65.70 v-1.6 M76.18,65.70 v-1.6 M101.57,65.70 v-1.6 M126.96,65.70 v-1.6 M152.35,65.70 v-1.6 M0,0.00 h1.6 M0,32.85 h1.6 M0,65.70 h1.6" stroke="#000" stroke-width="0.6" fill="none"/>
<text x="156.50" y="62.50" class="w" text-anchor="end" fill="#fff" font-size="12.8">400 ns</text>
</g>
<text x="245.10" y="776.05" text-anchor="end" font-size="12.3">5</text>
<text x="245.10" y="808.90" text-anchor="end" font-size="12.3">0</text>
<text x="245.10" y="841.75" text-anchor="end" font-size="12.3"><tspan dy="1.4">−</tspan><tspan dy="-1.4">5</tspan></text>
<text x="252.42" y="851.85" text-anchor="end" font-size="12.3"><tspan dy="1.4">−</tspan><tspan dy="-1.4">8</tspan></text>
<text x="277.81" y="851.85" text-anchor="end" font-size="12.3"><tspan dy="1.4">−</tspan><tspan dy="-1.4">6</tspan></text>
<text x="303.20" y="851.85" text-anchor="end" font-size="12.3"><tspan dy="1.4">−</tspan><tspan dy="-1.4">4</tspan></text>
<text x="328.60" y="851.85" text-anchor="end" font-size="12.3"><tspan dy="1.4">−</tspan><tspan dy="-1.4">2</tspan></text>
<text x="353.99" y="851.85" text-anchor="end" font-size="12.3">0</text>
<text x="379.38" y="851.85" text-anchor="end" font-size="12.3">2</text>
<text x="404.77" y="851.85" text-anchor="end" font-size="12.3">4</text>
<text transform="translate(14.5,432.7) rotate(-90)" text-anchor="middle" font-size="13.5">PC 2 (Å)</text>
<text x="219.3" y="872.9" text-anchor="middle" font-size="13.3">PC 1 (Å)</text>
</svg></body></html>
